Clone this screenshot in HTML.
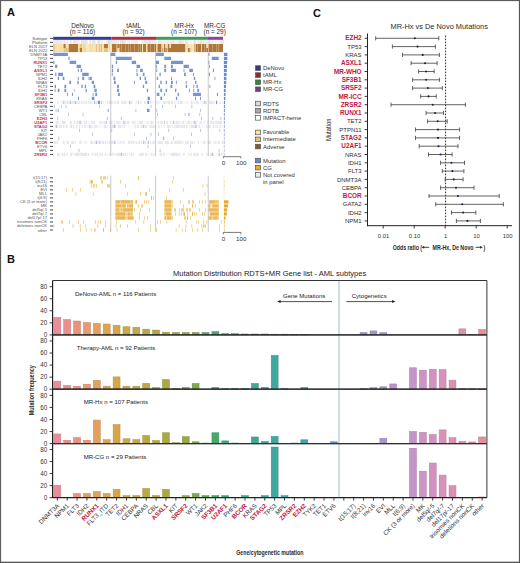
<!DOCTYPE html>
<html><head><meta charset="utf-8"><style>
html,body{margin:0;padding:0;background:#fff;}
svg{display:block;font-family:"Liberation Sans",sans-serif;}
</style></head><body>
<svg width="520" height="563" viewBox="0 0 520 563">
<rect x="0" y="0" width="520" height="563" fill="#fff"/>
<text x="7" y="16" font-size="11" text-anchor="start" font-weight="bold" fill="#111" >A</text>
<text x="82.5" y="27.6" font-size="6.3" text-anchor="middle" fill="#2a2a2a" >DeNovo</text>
<text x="82.5" y="34.1" font-size="6.4" text-anchor="middle" fill="#2a2a2a" >(n = 116)</text>
<rect x="53.2" y="36.8" width="58.3" height="3" fill="#353c93" />
<text x="133.6" y="27.6" font-size="6.3" text-anchor="middle" fill="#2a2a2a" >tAML</text>
<text x="133.6" y="34.1" font-size="6.4" text-anchor="middle" fill="#2a2a2a" >(n = 92)</text>
<rect x="111.5" y="36.8" width="44.5" height="3" fill="#b3323f" />
<text x="184" y="27.6" font-size="6.3" text-anchor="middle" fill="#2a2a2a" >MR-Hx</text>
<text x="184" y="34.1" font-size="6.4" text-anchor="middle" fill="#2a2a2a" >(n = 107)</text>
<rect x="156" y="36.8" width="52" height="3" fill="#3ea04a" />
<text x="214.7" y="27.6" font-size="6.3" text-anchor="middle" fill="#2a2a2a" >MR-CG</text>
<text x="214.7" y="34.1" font-size="6.4" text-anchor="middle" fill="#2a2a2a" >(n = 29)</text>
<rect x="208" y="36.8" width="15" height="3" fill="#93409b" />
<text x="47.3" y="39.9" font-size="4.1" text-anchor="end" fill="#555" >Subtype</text>
<line x1="50" y1="38.4" x2="53" y2="38.4" stroke="#333" stroke-width="0.9" />
<text x="47.3" y="43.9" font-size="4.1" text-anchor="end" fill="#555" >Platform</text>
<line x1="50" y1="42.4" x2="53" y2="42.4" stroke="#333" stroke-width="0.9" />
<text x="47.3" y="47.9" font-size="4.1" text-anchor="end" fill="#555" >ELN 2017</text>
<line x1="50" y1="46.4" x2="53" y2="46.4" stroke="#333" stroke-width="0.9" />
<text x="47.3" y="51.9" font-size="4.1" text-anchor="end" fill="#555" >ELN 2022</text>
<line x1="50" y1="50.4" x2="53" y2="50.4" stroke="#333" stroke-width="0.9" />
<text x="47.3" y="55.9" font-size="4.1" text-anchor="end" fill="#555" >DNMT3A</text>
<line x1="50" y1="54.4" x2="53" y2="54.4" stroke="#333" stroke-width="0.9" />
<text x="47.3" y="59.9" font-size="4.1" text-anchor="end" fill="#555" >TP53</text>
<line x1="50" y1="58.4" x2="53" y2="58.4" stroke="#333" stroke-width="0.9" />
<text x="47.3" y="63.9" font-size="4.1" text-anchor="end" font-weight="bold" fill="#c8304f" >RUNX1</text>
<line x1="50" y1="62.4" x2="53" y2="62.4" stroke="#333" stroke-width="0.9" />
<text x="47.3" y="67.9" font-size="4.1" text-anchor="end" fill="#555" >TET2</text>
<line x1="50" y1="66.4" x2="53" y2="66.4" stroke="#333" stroke-width="0.9" />
<text x="47.3" y="71.9" font-size="4.1" text-anchor="end" font-weight="bold" fill="#c8304f" >ASXL1</text>
<line x1="50" y1="70.4" x2="53" y2="70.4" stroke="#333" stroke-width="0.9" />
<text x="47.3" y="75.9" font-size="4.1" text-anchor="end" fill="#555" >NPM1</text>
<line x1="50" y1="74.4" x2="53" y2="74.4" stroke="#333" stroke-width="0.9" />
<text x="47.3" y="79.9" font-size="4.1" text-anchor="end" fill="#555" >IDH2</text>
<line x1="50" y1="78.4" x2="53" y2="78.4" stroke="#333" stroke-width="0.9" />
<text x="47.3" y="83.9" font-size="4.1" text-anchor="end" fill="#555" >NRAS</text>
<line x1="50" y1="82.4" x2="53" y2="82.4" stroke="#333" stroke-width="0.9" />
<text x="47.3" y="87.9" font-size="4.1" text-anchor="end" fill="#555" >FLT3</text>
<line x1="50" y1="86.4" x2="53" y2="86.4" stroke="#333" stroke-width="0.9" />
<text x="47.3" y="91.9" font-size="4.1" text-anchor="end" fill="#555" >IDH1</text>
<line x1="50" y1="90.4" x2="53" y2="90.4" stroke="#333" stroke-width="0.9" />
<text x="47.3" y="95.9" font-size="4.1" text-anchor="end" font-weight="bold" fill="#c8304f" >SF3B1</text>
<line x1="50" y1="94.4" x2="53" y2="94.4" stroke="#333" stroke-width="0.9" />
<text x="47.3" y="99.9" font-size="4.1" text-anchor="end" fill="#555" >KRAS</text>
<line x1="50" y1="98.4" x2="53" y2="98.4" stroke="#333" stroke-width="0.9" />
<text x="47.3" y="103.9" font-size="4.1" text-anchor="end" font-weight="bold" fill="#c8304f" >SRSF2</text>
<line x1="50" y1="102.4" x2="53" y2="102.4" stroke="#333" stroke-width="0.9" />
<text x="47.3" y="107.9" font-size="4.1" text-anchor="end" fill="#555" >CEBPA</text>
<line x1="50" y1="106.4" x2="53" y2="106.4" stroke="#333" stroke-width="0.9" />
<text x="47.3" y="111.9" font-size="4.1" text-anchor="end" fill="#555" >WT1</text>
<line x1="50" y1="110.4" x2="53" y2="110.4" stroke="#333" stroke-width="0.9" />
<text x="47.3" y="115.9" font-size="4.1" text-anchor="end" fill="#555" >CBL</text>
<line x1="50" y1="114.4" x2="53" y2="114.4" stroke="#333" stroke-width="0.9" />
<text x="47.3" y="119.9" font-size="4.1" text-anchor="end" font-weight="bold" fill="#c8304f" >EZH2</text>
<line x1="50" y1="118.4" x2="53" y2="118.4" stroke="#333" stroke-width="0.9" />
<text x="47.3" y="123.9" font-size="4.1" text-anchor="end" font-weight="bold" fill="#c8304f" >U2AF1</text>
<line x1="50" y1="122.4" x2="53" y2="122.4" stroke="#333" stroke-width="0.9" />
<text x="47.3" y="127.9" font-size="4.1" text-anchor="end" font-weight="bold" fill="#c8304f" >STAG2</text>
<line x1="50" y1="126.4" x2="53" y2="126.4" stroke="#333" stroke-width="0.9" />
<text x="47.3" y="131.9" font-size="4.1" text-anchor="end" fill="#555" >KIT</text>
<line x1="50" y1="130.4" x2="53" y2="130.4" stroke="#333" stroke-width="0.9" />
<text x="47.3" y="135.9" font-size="4.1" text-anchor="end" fill="#555" >JAK2</text>
<line x1="50" y1="134.4" x2="53" y2="134.4" stroke="#333" stroke-width="0.9" />
<text x="47.3" y="139.9" font-size="4.1" text-anchor="end" fill="#555" >PHF6</text>
<line x1="50" y1="138.4" x2="53" y2="138.4" stroke="#333" stroke-width="0.9" />
<text x="47.3" y="143.9" font-size="4.1" text-anchor="end" font-weight="bold" fill="#c8304f" >BCOR</text>
<line x1="50" y1="142.4" x2="53" y2="142.4" stroke="#333" stroke-width="0.9" />
<text x="47.3" y="147.9" font-size="4.1" text-anchor="end" fill="#555" >ETV6</text>
<line x1="50" y1="146.4" x2="53" y2="146.4" stroke="#333" stroke-width="0.9" />
<text x="47.3" y="151.9" font-size="4.1" text-anchor="end" fill="#555" >MPL</text>
<line x1="50" y1="150.4" x2="53" y2="150.4" stroke="#333" stroke-width="0.9" />
<text x="47.3" y="155.9" font-size="4.1" text-anchor="end" font-weight="bold" fill="#c8304f" >ZRSR2</text>
<line x1="50" y1="154.4" x2="53" y2="154.4" stroke="#333" stroke-width="0.9" />
<text x="47" y="179.3" font-size="4.1" text-anchor="end" fill="#555" >t(15;17)</text>
<line x1="50" y1="177.8" x2="53" y2="177.8" stroke="#333" stroke-width="0.9" />
<text x="47" y="183.31" font-size="4.1" text-anchor="end" fill="#555" >t(8;21)</text>
<line x1="50" y1="181.81" x2="53" y2="181.81" stroke="#333" stroke-width="0.9" />
<text x="47" y="187.33" font-size="4.1" text-anchor="end" fill="#555" >inv16</text>
<line x1="50" y1="185.83" x2="53" y2="185.83" stroke="#333" stroke-width="0.9" />
<text x="47" y="191.34" font-size="4.1" text-anchor="end" fill="#555" >EVI</text>
<line x1="50" y1="189.84" x2="53" y2="189.84" stroke="#333" stroke-width="0.9" />
<text x="47" y="195.36" font-size="4.1" text-anchor="end" fill="#555" >MLL</text>
<line x1="50" y1="193.86" x2="53" y2="193.86" stroke="#333" stroke-width="0.9" />
<text x="47" y="199.38" font-size="4.1" text-anchor="end" fill="#555" >t(6;9)</text>
<line x1="50" y1="197.88" x2="53" y2="197.88" stroke="#333" stroke-width="0.9" />
<text x="47" y="203.39" font-size="4.1" text-anchor="end" fill="#555" >CK (3 or more)</text>
<line x1="50" y1="201.89" x2="53" y2="201.89" stroke="#333" stroke-width="0.9" />
<text x="47" y="207.41" font-size="4.1" text-anchor="end" fill="#555" >MK</text>
<line x1="50" y1="205.91" x2="53" y2="205.91" stroke="#333" stroke-width="0.9" />
<text x="47" y="211.42" font-size="4.1" text-anchor="end" fill="#555" >del5q/-5</text>
<line x1="50" y1="209.92" x2="53" y2="209.92" stroke="#333" stroke-width="0.9" />
<text x="47" y="215.44" font-size="4.1" text-anchor="end" fill="#555" >del7q/-7</text>
<line x1="50" y1="213.94" x2="53" y2="213.94" stroke="#333" stroke-width="0.9" />
<text x="47" y="219.45" font-size="4.1" text-anchor="end" fill="#555" >del17p/-17</text>
<line x1="50" y1="217.95" x2="53" y2="217.95" stroke="#333" stroke-width="0.9" />
<text x="47" y="223.47" font-size="4.1" text-anchor="end" fill="#555" >trisomies nonCK</text>
<line x1="50" y1="221.97" x2="53" y2="221.97" stroke="#333" stroke-width="0.9" />
<text x="47" y="227.48" font-size="4.1" text-anchor="end" fill="#555" >deletions nonCK</text>
<line x1="50" y1="225.98" x2="53" y2="225.98" stroke="#333" stroke-width="0.9" />
<text x="47" y="231.5" font-size="4.1" text-anchor="end" fill="#555" >other</text>
<line x1="50" y1="230" x2="53" y2="230" stroke="#333" stroke-width="0.9" />
<rect x="53.2" y="40" width="1" height="4" fill="#eeedf4" />
<rect x="54.2" y="40" width="1.5" height="4" fill="#e6e4ee" />
<rect x="55.7" y="40" width="0.5" height="4" fill="#e6e4ee" />
<rect x="56.2" y="40" width="1" height="4" fill="#e6e4ee" />
<rect x="57.2" y="40" width="0.5" height="4" fill="#e6e4ee" />
<rect x="57.7" y="40" width="0.5" height="4" fill="#dcdbe6" />
<rect x="58.2" y="40" width="1.5" height="4" fill="#e6e4ee" />
<rect x="59.7" y="40" width="0.5" height="4" fill="#e6e4ee" />
<rect x="60.2" y="40" width="1.5" height="4" fill="#e6e4ee" />
<rect x="61.7" y="40" width="0.5" height="4" fill="#eeedf4" />
<rect x="62.2" y="40" width="0.5" height="4" fill="#dcdbe6" />
<rect x="62.7" y="40" width="0.5" height="4" fill="#eeedf4" />
<rect x="63.2" y="40" width="0.5" height="4" fill="#eeedf4" />
<rect x="63.7" y="40" width="1" height="4" fill="#dcdbe6" />
<rect x="64.7" y="40" width="0.5" height="4" fill="#e6e4ee" />
<rect x="65.2" y="40" width="1" height="4" fill="#eeedf4" />
<rect x="66.2" y="40" width="0.5" height="4" fill="#eeedf4" />
<rect x="66.7" y="40" width="1" height="4" fill="#e6e4ee" />
<rect x="67.7" y="40" width="0.5" height="4" fill="#e6e4ee" />
<rect x="68.2" y="40" width="0.5" height="4" fill="#dcdbe6" />
<rect x="68.7" y="40" width="1.5" height="4" fill="#ffffff" />
<rect x="70.2" y="40" width="1.5" height="4" fill="#dcdbe6" />
<rect x="71.7" y="40" width="1" height="4" fill="#ffffff" />
<rect x="72.7" y="40" width="0.5" height="4" fill="#eeedf4" />
<rect x="73.2" y="40" width="0.5" height="4" fill="#e6e4ee" />
<rect x="73.7" y="40" width="1" height="4" fill="#dcdbe6" />
<rect x="74.7" y="40" width="1" height="4" fill="#dcdbe6" />
<rect x="75.7" y="40" width="1" height="4" fill="#e6e4ee" />
<rect x="76.7" y="40" width="0.5" height="4" fill="#dcdbe6" />
<rect x="77.2" y="40" width="0.5" height="4" fill="#ffffff" />
<rect x="77.7" y="40" width="0.5" height="4" fill="#dcdbe6" />
<rect x="78.2" y="40" width="1.5" height="4" fill="#e6e4ee" />
<rect x="79.7" y="40" width="0.5" height="4" fill="#ffffff" />
<rect x="80.2" y="40" width="1" height="4" fill="#ffffff" />
<rect x="81.2" y="40" width="1.5" height="4" fill="#dcdbe6" />
<rect x="82.7" y="40" width="0.5" height="4" fill="#e6e4ee" />
<rect x="83.2" y="40" width="1" height="4" fill="#dcdbe6" />
<rect x="84.2" y="40" width="0.5" height="4" fill="#e6e4ee" />
<rect x="84.7" y="40" width="1" height="4" fill="#dcdbe6" />
<rect x="85.7" y="40" width="1" height="4" fill="#dcdbe6" />
<rect x="86.7" y="40" width="1" height="4" fill="#e6e4ee" />
<rect x="87.7" y="40" width="1.5" height="4" fill="#ffffff" />
<rect x="89.2" y="40" width="0.5" height="4" fill="#e6e4ee" />
<rect x="89.7" y="40" width="1.5" height="4" fill="#e6e4ee" />
<rect x="91.2" y="40" width="0.5" height="4" fill="#ffffff" />
<rect x="91.7" y="40" width="0.5" height="4" fill="#eeedf4" />
<rect x="92.2" y="40" width="1.5" height="4" fill="#dcdbe6" />
<rect x="93.7" y="40" width="1.5" height="4" fill="#e6e4ee" />
<rect x="95.2" y="40" width="0.5" height="4" fill="#dcdbe6" />
<rect x="95.7" y="40" width="1.5" height="4" fill="#ffffff" />
<rect x="97.2" y="40" width="0.5" height="4" fill="#dcdbe6" />
<rect x="97.7" y="40" width="1" height="4" fill="#dcdbe6" />
<rect x="98.7" y="40" width="1" height="4" fill="#dcdbe6" />
<rect x="99.7" y="40" width="0.5" height="4" fill="#eeedf4" />
<rect x="100.2" y="40" width="0.5" height="4" fill="#eeedf4" />
<rect x="100.7" y="40" width="0.5" height="4" fill="#eeedf4" />
<rect x="101.2" y="40" width="0.5" height="4" fill="#e6e4ee" />
<rect x="101.7" y="40" width="1.5" height="4" fill="#eeedf4" />
<rect x="103.2" y="40" width="1" height="4" fill="#ffffff" />
<rect x="104.2" y="40" width="0.5" height="4" fill="#eeedf4" />
<rect x="104.7" y="40" width="1.5" height="4" fill="#ffffff" />
<rect x="106.2" y="40" width="1" height="4" fill="#eeedf4" />
<rect x="107.2" y="40" width="0.5" height="4" fill="#dcdbe6" />
<rect x="107.7" y="40" width="1.5" height="4" fill="#dcdbe6" />
<rect x="109.2" y="40" width="1.5" height="4" fill="#dcdbe6" />
<rect x="110.7" y="40" width="0.5" height="4" fill="#dcdbe6" />
<rect x="111.2" y="40" width="1.5" height="4" fill="#e6e4ee" />
<rect x="112.7" y="40" width="0.5" height="4" fill="#e6e4ee" />
<rect x="113.2" y="40" width="0.5" height="4" fill="#dcdbe6" />
<rect x="113.7" y="40" width="0.5" height="4" fill="#e6e4ee" />
<rect x="114.2" y="40" width="1" height="4" fill="#e6e4ee" />
<rect x="115.2" y="40" width="0.5" height="4" fill="#e6e4ee" />
<rect x="115.7" y="40" width="0.5" height="4" fill="#e6e4ee" />
<rect x="116.2" y="40" width="1" height="4" fill="#e6e4ee" />
<rect x="117.2" y="40" width="0.5" height="4" fill="#eeedf4" />
<rect x="117.7" y="40" width="1.5" height="4" fill="#eeedf4" />
<rect x="119.2" y="40" width="1" height="4" fill="#ffffff" />
<rect x="120.2" y="40" width="1" height="4" fill="#dcdbe6" />
<rect x="121.2" y="40" width="0.5" height="4" fill="#e6e4ee" />
<rect x="121.7" y="40" width="1.5" height="4" fill="#dcdbe6" />
<rect x="123.2" y="40" width="1.5" height="4" fill="#dcdbe6" />
<rect x="124.7" y="40" width="1" height="4" fill="#e6e4ee" />
<rect x="125.7" y="40" width="0.5" height="4" fill="#e6e4ee" />
<rect x="126.2" y="40" width="1" height="4" fill="#ffffff" />
<rect x="127.2" y="40" width="1.5" height="4" fill="#eeedf4" />
<rect x="128.7" y="40" width="0.5" height="4" fill="#eeedf4" />
<rect x="129.2" y="40" width="1" height="4" fill="#eeedf4" />
<rect x="130.2" y="40" width="0.5" height="4" fill="#ffffff" />
<rect x="130.7" y="40" width="0.5" height="4" fill="#ffffff" />
<rect x="131.2" y="40" width="1" height="4" fill="#eeedf4" />
<rect x="132.2" y="40" width="1" height="4" fill="#eeedf4" />
<rect x="133.2" y="40" width="1" height="4" fill="#eeedf4" />
<rect x="134.2" y="40" width="0.5" height="4" fill="#eeedf4" />
<rect x="134.7" y="40" width="1.5" height="4" fill="#eeedf4" />
<rect x="136.2" y="40" width="0.5" height="4" fill="#dcdbe6" />
<rect x="136.7" y="40" width="1" height="4" fill="#e6e4ee" />
<rect x="137.7" y="40" width="0.5" height="4" fill="#ffffff" />
<rect x="138.2" y="40" width="1.5" height="4" fill="#ffffff" />
<rect x="139.7" y="40" width="0.5" height="4" fill="#ffffff" />
<rect x="140.2" y="40" width="1.5" height="4" fill="#ffffff" />
<rect x="141.7" y="40" width="1" height="4" fill="#e6e4ee" />
<rect x="142.7" y="40" width="0.5" height="4" fill="#e6e4ee" />
<rect x="143.2" y="40" width="0.5" height="4" fill="#dcdbe6" />
<rect x="143.7" y="40" width="0.5" height="4" fill="#ffffff" />
<rect x="144.2" y="40" width="0.5" height="4" fill="#dcdbe6" />
<rect x="144.7" y="40" width="0.5" height="4" fill="#dcdbe6" />
<rect x="145.2" y="40" width="1" height="4" fill="#e6e4ee" />
<rect x="146.2" y="40" width="0.5" height="4" fill="#dcdbe6" />
<rect x="146.7" y="40" width="0.5" height="4" fill="#dcdbe6" />
<rect x="147.2" y="40" width="0.5" height="4" fill="#dcdbe6" />
<rect x="147.7" y="40" width="1" height="4" fill="#e6e4ee" />
<rect x="148.7" y="40" width="1.5" height="4" fill="#dcdbe6" />
<rect x="150.2" y="40" width="1.5" height="4" fill="#e6e4ee" />
<rect x="151.7" y="40" width="0.5" height="4" fill="#eeedf4" />
<rect x="152.2" y="40" width="0.5" height="4" fill="#e6e4ee" />
<rect x="152.7" y="40" width="0.5" height="4" fill="#dcdbe6" />
<rect x="153.2" y="40" width="0.5" height="4" fill="#dcdbe6" />
<rect x="153.7" y="40" width="1" height="4" fill="#eeedf4" />
<rect x="154.7" y="40" width="0.5" height="4" fill="#e6e4ee" />
<rect x="155.2" y="40" width="0.5" height="4" fill="#e6e4ee" />
<rect x="155.7" y="40" width="0.5" height="4" fill="#dcdbe6" />
<rect x="156.2" y="40" width="0.5" height="4" fill="#eeedf4" />
<rect x="156.7" y="40" width="0.5" height="4" fill="#ffffff" />
<rect x="157.2" y="40" width="0.5" height="4" fill="#ffffff" />
<rect x="157.7" y="40" width="0.5" height="4" fill="#ffffff" />
<rect x="158.2" y="40" width="1" height="4" fill="#dcdbe6" />
<rect x="159.2" y="40" width="0.5" height="4" fill="#e6e4ee" />
<rect x="159.7" y="40" width="1" height="4" fill="#dcdbe6" />
<rect x="160.7" y="40" width="1.5" height="4" fill="#eeedf4" />
<rect x="162.2" y="40" width="0.5" height="4" fill="#e6e4ee" />
<rect x="162.7" y="40" width="1.5" height="4" fill="#eeedf4" />
<rect x="164.2" y="40" width="0.5" height="4" fill="#eeedf4" />
<rect x="164.7" y="40" width="0.5" height="4" fill="#eeedf4" />
<rect x="165.2" y="40" width="1.5" height="4" fill="#e6e4ee" />
<rect x="166.7" y="40" width="0.5" height="4" fill="#ffffff" />
<rect x="167.2" y="40" width="1.5" height="4" fill="#e6e4ee" />
<rect x="168.7" y="40" width="0.5" height="4" fill="#eeedf4" />
<rect x="169.2" y="40" width="0.5" height="4" fill="#ffffff" />
<rect x="169.7" y="40" width="0.5" height="4" fill="#e6e4ee" />
<rect x="170.2" y="40" width="1.5" height="4" fill="#e6e4ee" />
<rect x="171.7" y="40" width="0.5" height="4" fill="#dcdbe6" />
<rect x="172.2" y="40" width="1" height="4" fill="#eeedf4" />
<rect x="173.2" y="40" width="1" height="4" fill="#dcdbe6" />
<rect x="174.2" y="40" width="1.5" height="4" fill="#eeedf4" />
<rect x="175.7" y="40" width="1" height="4" fill="#eeedf4" />
<rect x="176.7" y="40" width="1.5" height="4" fill="#eeedf4" />
<rect x="178.2" y="40" width="1.5" height="4" fill="#e6e4ee" />
<rect x="179.7" y="40" width="1.5" height="4" fill="#dcdbe6" />
<rect x="181.2" y="40" width="1" height="4" fill="#e6e4ee" />
<rect x="182.2" y="40" width="0.5" height="4" fill="#dcdbe6" />
<rect x="182.7" y="40" width="0.5" height="4" fill="#eeedf4" />
<rect x="183.2" y="40" width="1" height="4" fill="#e6e4ee" />
<rect x="184.2" y="40" width="0.5" height="4" fill="#ffffff" />
<rect x="184.7" y="40" width="0.5" height="4" fill="#ffffff" />
<rect x="185.2" y="40" width="0.5" height="4" fill="#dcdbe6" />
<rect x="185.7" y="40" width="0.5" height="4" fill="#e6e4ee" />
<rect x="186.2" y="40" width="1.5" height="4" fill="#dcdbe6" />
<rect x="187.7" y="40" width="0.5" height="4" fill="#eeedf4" />
<rect x="188.2" y="40" width="0.5" height="4" fill="#dcdbe6" />
<rect x="188.7" y="40" width="1.5" height="4" fill="#ffffff" />
<rect x="190.2" y="40" width="1.5" height="4" fill="#eeedf4" />
<rect x="191.7" y="40" width="1" height="4" fill="#ffffff" />
<rect x="192.7" y="40" width="0.5" height="4" fill="#ffffff" />
<rect x="193.2" y="40" width="0.5" height="4" fill="#ffffff" />
<rect x="193.7" y="40" width="1.5" height="4" fill="#dcdbe6" />
<rect x="195.2" y="40" width="0.5" height="4" fill="#dcdbe6" />
<rect x="195.7" y="40" width="1" height="4" fill="#ffffff" />
<rect x="196.7" y="40" width="0.5" height="4" fill="#e6e4ee" />
<rect x="197.2" y="40" width="0.5" height="4" fill="#e6e4ee" />
<rect x="197.7" y="40" width="0.5" height="4" fill="#ffffff" />
<rect x="198.2" y="40" width="1" height="4" fill="#e6e4ee" />
<rect x="199.2" y="40" width="0.5" height="4" fill="#ffffff" />
<rect x="199.7" y="40" width="0.5" height="4" fill="#dcdbe6" />
<rect x="200.2" y="40" width="1" height="4" fill="#dcdbe6" />
<rect x="201.2" y="40" width="0.5" height="4" fill="#dcdbe6" />
<rect x="201.7" y="40" width="1" height="4" fill="#e6e4ee" />
<rect x="202.7" y="40" width="1" height="4" fill="#e6e4ee" />
<rect x="203.7" y="40" width="0.5" height="4" fill="#dcdbe6" />
<rect x="204.2" y="40" width="0.5" height="4" fill="#ffffff" />
<rect x="204.7" y="40" width="0.5" height="4" fill="#e6e4ee" />
<rect x="205.2" y="40" width="1" height="4" fill="#e6e4ee" />
<rect x="206.2" y="40" width="0.5" height="4" fill="#e6e4ee" />
<rect x="206.7" y="40" width="1" height="4" fill="#e6e4ee" />
<rect x="207.7" y="40" width="1.5" height="4" fill="#e6e4ee" />
<rect x="209.2" y="40" width="1" height="4" fill="#dcdbe6" />
<rect x="210.2" y="40" width="1" height="4" fill="#eeedf4" />
<rect x="211.2" y="40" width="0.5" height="4" fill="#eeedf4" />
<rect x="211.7" y="40" width="0.5" height="4" fill="#eeedf4" />
<rect x="212.2" y="40" width="1" height="4" fill="#e6e4ee" />
<rect x="213.2" y="40" width="0.5" height="4" fill="#eeedf4" />
<rect x="213.7" y="40" width="1" height="4" fill="#ffffff" />
<rect x="214.7" y="40" width="0.5" height="4" fill="#ffffff" />
<rect x="215.2" y="40" width="1.5" height="4" fill="#eeedf4" />
<rect x="216.7" y="40" width="1" height="4" fill="#ffffff" />
<rect x="217.7" y="40" width="0.5" height="4" fill="#ffffff" />
<rect x="218.2" y="40" width="0.5" height="4" fill="#e6e4ee" />
<rect x="218.7" y="40" width="0.5" height="4" fill="#eeedf4" />
<rect x="219.2" y="40" width="1.5" height="4" fill="#eeedf4" />
<rect x="220.7" y="40" width="1.5" height="4" fill="#e6e4ee" />
<rect x="222.2" y="40" width="1.5" height="4" fill="#dcdbe6" />
<rect x="53.2" y="44" width="1.7" height="4.05" fill="#e4c383" />
<rect x="53.2" y="48" width="1.7" height="4.1" fill="#e4c383" />
<rect x="54.9" y="44" width="2.3" height="4.05" fill="#f7e0a8" />
<rect x="54.9" y="48" width="2.3" height="4.1" fill="#f7e0a8" />
<rect x="57.2" y="44" width="6.3" height="4.05" fill="#f7e0a8" />
<rect x="57.2" y="48" width="6.3" height="4.1" fill="#f7e0a8" />
<rect x="63.5" y="44" width="2.3" height="4.05" fill="#b07636" />
<rect x="63.5" y="48" width="2.3" height="4.1" fill="#e4c383" />
<rect x="65.8" y="44" width="2.9" height="4.05" fill="#f7e0a8" />
<rect x="65.8" y="48" width="2.9" height="4.1" fill="#e4c383" />
<rect x="68.7" y="44" width="9.3" height="4.05" fill="#b07636" />
<rect x="68.7" y="48" width="9.3" height="4.1" fill="#b07636" />
<rect x="78" y="44" width="1.7" height="4.05" fill="#f7e0a8" />
<rect x="78" y="48" width="1.7" height="4.1" fill="#f7e0a8" />
<rect x="79.7" y="44" width="2.3" height="4.05" fill="#e4c383" />
<rect x="79.7" y="48" width="2.3" height="4.1" fill="#b07636" />
<rect x="82" y="44" width="1" height="4.05" fill="#f7e0a8" />
<rect x="82" y="48" width="1" height="4.1" fill="#f7e0a8" />
<rect x="83" y="44" width="0.5" height="4.05" fill="#f7e0a8" />
<rect x="83" y="48" width="0.5" height="4.1" fill="#f7e0a8" />
<rect x="83.5" y="44" width="0.5" height="4.05" fill="#e4c383" />
<rect x="83.5" y="48" width="0.5" height="4.1" fill="#e4c383" />
<rect x="84" y="44" width="0.5" height="4.05" fill="#f7e0a8" />
<rect x="84" y="48" width="0.5" height="4.1" fill="#f7e0a8" />
<rect x="84.5" y="44" width="1" height="4.05" fill="#e4c383" />
<rect x="84.5" y="48" width="1" height="4.1" fill="#e4c383" />
<rect x="85.5" y="44" width="1" height="4.05" fill="#f7e0a8" />
<rect x="85.5" y="48" width="1" height="4.1" fill="#e4c383" />
<rect x="86.5" y="44" width="0.5" height="4.05" fill="#f7e0a8" />
<rect x="86.5" y="48" width="0.5" height="4.1" fill="#f7e0a8" />
<rect x="87" y="44" width="0.5" height="4.05" fill="#f7e0a8" />
<rect x="87" y="48" width="0.5" height="4.1" fill="#f7e0a8" />
<rect x="87.5" y="44" width="1" height="4.05" fill="#f7e0a8" />
<rect x="87.5" y="48" width="1" height="4.1" fill="#f7e0a8" />
<rect x="88.5" y="44" width="1.5" height="4.05" fill="#f7e0a8" />
<rect x="88.5" y="48" width="1.5" height="4.1" fill="#f7e0a8" />
<rect x="90" y="44" width="1" height="4.05" fill="#f7e0a8" />
<rect x="90" y="48" width="1" height="4.1" fill="#f7e0a8" />
<rect x="91" y="44" width="1" height="4.05" fill="#f7e0a8" />
<rect x="91" y="48" width="1" height="4.1" fill="#f7e0a8" />
<rect x="92" y="44" width="1.5" height="4.05" fill="#f7e0a8" />
<rect x="92" y="48" width="1.5" height="4.1" fill="#f7e0a8" />
<rect x="93.5" y="44" width="0.5" height="4.05" fill="#f7e0a8" />
<rect x="93.5" y="48" width="0.5" height="4.1" fill="#f7e0a8" />
<rect x="94" y="44" width="0.5" height="4.05" fill="#e4c383" />
<rect x="94" y="48" width="0.5" height="4.1" fill="#e4c383" />
<rect x="94.5" y="44" width="0.5" height="4.05" fill="#f7e0a8" />
<rect x="94.5" y="48" width="0.5" height="4.1" fill="#f7e0a8" />
<rect x="95" y="44" width="0.5" height="4.05" fill="#e4c383" />
<rect x="95" y="48" width="0.5" height="4.1" fill="#e4c383" />
<rect x="95.5" y="44" width="0.5" height="4.05" fill="#f7e0a8" />
<rect x="95.5" y="48" width="0.5" height="4.1" fill="#f7e0a8" />
<rect x="96" y="44" width="1.5" height="4.05" fill="#e4c383" />
<rect x="96" y="48" width="1.5" height="4.1" fill="#e4c383" />
<rect x="97.5" y="44" width="1" height="4.05" fill="#f7e0a8" />
<rect x="97.5" y="48" width="1" height="4.1" fill="#f7e0a8" />
<rect x="98.5" y="44" width="0.5" height="4.05" fill="#e4c383" />
<rect x="98.5" y="48" width="0.5" height="4.1" fill="#e4c383" />
<rect x="99" y="44" width="1.5" height="4.05" fill="#e4c383" />
<rect x="99" y="48" width="1.5" height="4.1" fill="#e4c383" />
<rect x="100.5" y="44" width="1.5" height="4.05" fill="#e4c383" />
<rect x="100.5" y="48" width="1.5" height="4.1" fill="#e4c383" />
<rect x="102" y="44" width="1.5" height="4.05" fill="#f7e0a8" />
<rect x="102" y="48" width="1.5" height="4.1" fill="#f7e0a8" />
<rect x="103.5" y="44" width="0.5" height="4.05" fill="#e4c383" />
<rect x="103.5" y="48" width="0.5" height="4.1" fill="#f7e0a8" />
<rect x="104" y="44" width="4" height="4.05" fill="#b07636" />
<rect x="104" y="48" width="4" height="4.1" fill="#e4c383" />
<rect x="108" y="44" width="0.5" height="4.05" fill="#f7e0a8" />
<rect x="108" y="48" width="0.5" height="4.1" fill="#f7e0a8" />
<rect x="108.5" y="44" width="0.5" height="4.05" fill="#f7e0a8" />
<rect x="108.5" y="48" width="0.5" height="4.1" fill="#f7e0a8" />
<rect x="109" y="44" width="0.5" height="4.05" fill="#f7e0a8" />
<rect x="109" y="48" width="0.5" height="4.1" fill="#f7e0a8" />
<rect x="109.5" y="44" width="0.5" height="4.05" fill="#e4c383" />
<rect x="109.5" y="48" width="0.5" height="4.1" fill="#e4c383" />
<rect x="110" y="44" width="0.5" height="4.05" fill="#f7e0a8" />
<rect x="110" y="48" width="0.5" height="4.1" fill="#f7e0a8" />
<rect x="110.5" y="44" width="1.5" height="4.05" fill="#f7e0a8" />
<rect x="110.5" y="48" width="1.5" height="4.1" fill="#f7e0a8" />
<rect x="112" y="44" width="4" height="4.05" fill="#b07636" />
<rect x="112" y="48" width="4" height="4.1" fill="#b07636" />
<rect x="116" y="44" width="0.5" height="4.05" fill="#e4c383" />
<rect x="116" y="48" width="0.5" height="4.1" fill="#e4c383" />
<rect x="116.5" y="44" width="1" height="4.05" fill="#b07636" />
<rect x="116.5" y="48" width="1" height="4.1" fill="#b07636" />
<rect x="117.5" y="44" width="2" height="4.05" fill="#b07636" />
<rect x="117.5" y="48" width="2" height="4.1" fill="#f7e0a8" />
<rect x="119.5" y="44" width="1.5" height="4.05" fill="#b07636" />
<rect x="119.5" y="48" width="1.5" height="4.1" fill="#b07636" />
<rect x="121" y="44" width="0.5" height="4.05" fill="#b07636" />
<rect x="121" y="48" width="0.5" height="4.1" fill="#b07636" />
<rect x="121.5" y="44" width="4" height="4.05" fill="#b07636" />
<rect x="121.5" y="48" width="4" height="4.1" fill="#b07636" />
<rect x="125.5" y="44" width="3" height="4.05" fill="#b07636" />
<rect x="125.5" y="48" width="3" height="4.1" fill="#b07636" />
<rect x="128.5" y="44" width="2" height="4.05" fill="#b07636" />
<rect x="128.5" y="48" width="2" height="4.1" fill="#b07636" />
<rect x="130.5" y="44" width="4" height="4.05" fill="#b07636" />
<rect x="130.5" y="48" width="4" height="4.1" fill="#b07636" />
<rect x="134.5" y="44" width="4" height="4.05" fill="#b07636" />
<rect x="134.5" y="48" width="4" height="4.1" fill="#b07636" />
<rect x="138.5" y="44" width="2" height="4.05" fill="#b07636" />
<rect x="138.5" y="48" width="2" height="4.1" fill="#b07636" />
<rect x="140.5" y="44" width="1.5" height="4.05" fill="#b07636" />
<rect x="140.5" y="48" width="1.5" height="4.1" fill="#b07636" />
<rect x="142" y="44" width="1" height="4.05" fill="#f7e0a8" />
<rect x="142" y="48" width="1" height="4.1" fill="#f7e0a8" />
<rect x="143" y="44" width="2" height="4.05" fill="#b07636" />
<rect x="143" y="48" width="2" height="4.1" fill="#b07636" />
<rect x="145" y="44" width="1" height="4.05" fill="#b07636" />
<rect x="145" y="48" width="1" height="4.1" fill="#b07636" />
<rect x="146" y="44" width="1.5" height="4.05" fill="#f7e0a8" />
<rect x="146" y="48" width="1.5" height="4.1" fill="#f7e0a8" />
<rect x="147.5" y="44" width="3" height="4.05" fill="#b07636" />
<rect x="147.5" y="48" width="3" height="4.1" fill="#b07636" />
<rect x="150.5" y="44" width="4" height="4.05" fill="#b07636" />
<rect x="150.5" y="48" width="4" height="4.1" fill="#b07636" />
<rect x="154.5" y="44" width="2" height="4.05" fill="#b07636" />
<rect x="154.5" y="48" width="2" height="4.1" fill="#b07636" />
<rect x="156.5" y="44" width="1" height="4.05" fill="#f7e0a8" />
<rect x="156.5" y="48" width="1" height="4.1" fill="#f7e0a8" />
<rect x="157.5" y="44" width="4" height="4.05" fill="#b07636" />
<rect x="157.5" y="48" width="4" height="4.1" fill="#b07636" />
<rect x="161.5" y="44" width="1" height="4.05" fill="#e4c383" />
<rect x="161.5" y="48" width="1" height="4.1" fill="#e4c383" />
<rect x="162.5" y="44" width="1" height="4.05" fill="#e4c383" />
<rect x="162.5" y="48" width="1" height="4.1" fill="#b07636" />
<rect x="163.5" y="44" width="0.5" height="4.05" fill="#f7e0a8" />
<rect x="163.5" y="48" width="0.5" height="4.1" fill="#f7e0a8" />
<rect x="164" y="44" width="1.5" height="4.05" fill="#b07636" />
<rect x="164" y="48" width="1.5" height="4.1" fill="#b07636" />
<rect x="165.5" y="44" width="1" height="4.05" fill="#f7e0a8" />
<rect x="165.5" y="48" width="1" height="4.1" fill="#b07636" />
<rect x="166.5" y="44" width="1" height="4.05" fill="#e4c383" />
<rect x="166.5" y="48" width="1" height="4.1" fill="#b07636" />
<rect x="167.5" y="44" width="0.5" height="4.05" fill="#e4c383" />
<rect x="167.5" y="48" width="0.5" height="4.1" fill="#e4c383" />
<rect x="168" y="44" width="1" height="4.05" fill="#b07636" />
<rect x="168" y="48" width="1" height="4.1" fill="#b07636" />
<rect x="169" y="44" width="1" height="4.05" fill="#e4c383" />
<rect x="169" y="48" width="1" height="4.1" fill="#b07636" />
<rect x="170" y="44" width="1" height="4.05" fill="#f7e0a8" />
<rect x="170" y="48" width="1" height="4.1" fill="#b07636" />
<rect x="171" y="44" width="4" height="4.05" fill="#b07636" />
<rect x="171" y="48" width="4" height="4.1" fill="#b07636" />
<rect x="175" y="44" width="2" height="4.05" fill="#b07636" />
<rect x="175" y="48" width="2" height="4.1" fill="#b07636" />
<rect x="177" y="44" width="4" height="4.05" fill="#b07636" />
<rect x="177" y="48" width="4" height="4.1" fill="#b07636" />
<rect x="181" y="44" width="3" height="4.05" fill="#b07636" />
<rect x="181" y="48" width="3" height="4.1" fill="#b07636" />
<rect x="184" y="44" width="1.5" height="4.05" fill="#b07636" />
<rect x="184" y="48" width="1.5" height="4.1" fill="#b07636" />
<rect x="185.5" y="44" width="1" height="4.05" fill="#f7e0a8" />
<rect x="185.5" y="48" width="1" height="4.1" fill="#f7e0a8" />
<rect x="186.5" y="44" width="1" height="4.05" fill="#f7e0a8" />
<rect x="186.5" y="48" width="1" height="4.1" fill="#f7e0a8" />
<rect x="187.5" y="44" width="0.5" height="4.05" fill="#e4c383" />
<rect x="187.5" y="48" width="0.5" height="4.1" fill="#e4c383" />
<rect x="188" y="44" width="1.5" height="4.05" fill="#f7e0a8" />
<rect x="188" y="48" width="1.5" height="4.1" fill="#b07636" />
<rect x="189.5" y="44" width="1" height="4.05" fill="#f7e0a8" />
<rect x="189.5" y="48" width="1" height="4.1" fill="#b07636" />
<rect x="190.5" y="44" width="0.5" height="4.05" fill="#f7e0a8" />
<rect x="190.5" y="48" width="0.5" height="4.1" fill="#f7e0a8" />
<rect x="191" y="44" width="1.5" height="4.05" fill="#f7e0a8" />
<rect x="191" y="48" width="1.5" height="4.1" fill="#f7e0a8" />
<rect x="192.5" y="44" width="1" height="4.05" fill="#f7e0a8" />
<rect x="192.5" y="48" width="1" height="4.1" fill="#f7e0a8" />
<rect x="193.5" y="44" width="1" height="4.05" fill="#f7e0a8" />
<rect x="193.5" y="48" width="1" height="4.1" fill="#f7e0a8" />
<rect x="194.5" y="44" width="1" height="4.05" fill="#b07636" />
<rect x="194.5" y="48" width="1" height="4.1" fill="#b07636" />
<rect x="195.5" y="44" width="0.5" height="4.05" fill="#e4c383" />
<rect x="195.5" y="48" width="0.5" height="4.1" fill="#e4c383" />
<rect x="196" y="44" width="1.5" height="4.05" fill="#b07636" />
<rect x="196" y="48" width="1.5" height="4.1" fill="#b07636" />
<rect x="197.5" y="44" width="4" height="4.05" fill="#b07636" />
<rect x="197.5" y="48" width="4" height="4.1" fill="#b07636" />
<rect x="201.5" y="44" width="0.5" height="4.05" fill="#f7e0a8" />
<rect x="201.5" y="48" width="0.5" height="4.1" fill="#f7e0a8" />
<rect x="202" y="44" width="2" height="4.05" fill="#b07636" />
<rect x="202" y="48" width="2" height="4.1" fill="#b07636" />
<rect x="204" y="44" width="0.5" height="4.05" fill="#b07636" />
<rect x="204" y="48" width="0.5" height="4.1" fill="#b07636" />
<rect x="204.5" y="44" width="2" height="4.05" fill="#b07636" />
<rect x="204.5" y="48" width="2" height="4.1" fill="#b07636" />
<rect x="206.5" y="44" width="1.5" height="4.05" fill="#f7e0a8" />
<rect x="206.5" y="48" width="1.5" height="4.1" fill="#b07636" />
<rect x="208" y="44" width="0.5" height="4.05" fill="#f7e0a8" />
<rect x="208" y="48" width="0.5" height="4.1" fill="#f7e0a8" />
<rect x="208.5" y="44" width="4" height="4.05" fill="#b07636" />
<rect x="208.5" y="48" width="4" height="4.1" fill="#b07636" />
<rect x="212.5" y="44" width="4" height="4.05" fill="#b07636" />
<rect x="212.5" y="48" width="4" height="4.1" fill="#b07636" />
<rect x="216.5" y="44" width="2" height="4.05" fill="#b07636" />
<rect x="216.5" y="48" width="2" height="4.1" fill="#b07636" />
<rect x="218.5" y="44" width="0.5" height="4.05" fill="#b07636" />
<rect x="218.5" y="48" width="0.5" height="4.1" fill="#b07636" />
<rect x="219" y="44" width="4" height="4.05" fill="#b07636" />
<rect x="219" y="48" width="4" height="4.1" fill="#b07636" />
<rect x="55.7" y="100.8" width="0.5" height="3.3" fill="#e0e0e8" />
<rect x="57.2" y="100.8" width="0.5" height="3.3" fill="#e0e0e8" />
<rect x="58.2" y="100.8" width="0.5" height="3.3" fill="#e0e0e8" />
<rect x="60.7" y="100.8" width="0.5" height="3.3" fill="#e0e0e8" />
<rect x="63.2" y="100.8" width="0.5" height="3.3" fill="#e0e0e8" />
<rect x="64.2" y="100.8" width="1" height="3.3" fill="#e0e0e8" />
<rect x="65.2" y="100.8" width="0.5" height="3.3" fill="#e0e0e8" />
<rect x="66.2" y="100.8" width="0.5" height="3.3" fill="#e0e0e8" />
<rect x="66.7" y="100.8" width="1" height="3.3" fill="#e0e0e8" />
<rect x="67.7" y="100.8" width="0.5" height="3.3" fill="#e0e0e8" />
<rect x="68.2" y="100.8" width="0.5" height="3.3" fill="#e0e0e8" />
<rect x="69.2" y="100.8" width="1" height="3.3" fill="#e0e0e8" />
<rect x="71.2" y="100.8" width="0.5" height="3.3" fill="#e0e0e8" />
<rect x="71.7" y="100.8" width="0.5" height="3.3" fill="#e0e0e8" />
<rect x="72.2" y="100.8" width="0.5" height="3.3" fill="#e0e0e8" />
<rect x="72.7" y="100.8" width="1" height="3.3" fill="#e0e0e8" />
<rect x="74.2" y="100.8" width="0.5" height="3.3" fill="#e0e0e8" />
<rect x="74.7" y="100.8" width="1" height="3.3" fill="#e0e0e8" />
<rect x="75.7" y="100.8" width="1" height="3.3" fill="#e0e0e8" />
<rect x="76.7" y="100.8" width="0.5" height="3.3" fill="#e0e0e8" />
<rect x="77.7" y="100.8" width="0.5" height="3.3" fill="#e0e0e8" />
<rect x="78.2" y="100.8" width="1" height="3.3" fill="#e0e0e8" />
<rect x="79.2" y="100.8" width="0.5" height="3.3" fill="#e0e0e8" />
<rect x="80.7" y="100.8" width="1" height="3.3" fill="#e0e0e8" />
<rect x="82.2" y="100.8" width="0.5" height="3.3" fill="#e0e0e8" />
<rect x="83.7" y="100.8" width="1" height="3.3" fill="#e0e0e8" />
<rect x="85.7" y="100.8" width="0.5" height="3.3" fill="#e0e0e8" />
<rect x="86.2" y="100.8" width="0.5" height="3.3" fill="#e0e0e8" />
<rect x="86.7" y="100.8" width="0.5" height="3.3" fill="#e0e0e8" />
<rect x="88.2" y="100.8" width="0.5" height="3.3" fill="#e0e0e8" />
<rect x="89.2" y="100.8" width="0.5" height="3.3" fill="#e0e0e8" />
<rect x="89.7" y="100.8" width="1" height="3.3" fill="#e0e0e8" />
<rect x="91.2" y="100.8" width="0.5" height="3.3" fill="#e0e0e8" />
<rect x="92.2" y="100.8" width="0.5" height="3.3" fill="#e0e0e8" />
<rect x="92.7" y="100.8" width="0.5" height="3.3" fill="#e0e0e8" />
<rect x="94.2" y="100.8" width="0.5" height="3.3" fill="#e0e0e8" />
<rect x="94.7" y="100.8" width="0.5" height="3.3" fill="#e0e0e8" />
<rect x="95.2" y="100.8" width="0.5" height="3.3" fill="#e0e0e8" />
<rect x="95.7" y="100.8" width="1" height="3.3" fill="#e0e0e8" />
<rect x="96.7" y="100.8" width="1" height="3.3" fill="#e0e0e8" />
<rect x="97.7" y="100.8" width="0.5" height="3.3" fill="#e0e0e8" />
<rect x="98.2" y="100.8" width="1" height="3.3" fill="#e0e0e8" />
<rect x="100.7" y="100.8" width="0.5" height="3.3" fill="#e0e0e8" />
<rect x="103.2" y="100.8" width="0.5" height="3.3" fill="#e0e0e8" />
<rect x="103.7" y="100.8" width="0.5" height="3.3" fill="#e0e0e8" />
<rect x="106.7" y="100.8" width="0.5" height="3.3" fill="#e0e0e8" />
<rect x="107.2" y="100.8" width="1" height="3.3" fill="#e0e0e8" />
<rect x="109.2" y="100.8" width="1" height="3.3" fill="#e0e0e8" />
<rect x="110.2" y="100.8" width="0.5" height="3.3" fill="#e0e0e8" />
<rect x="110.7" y="100.8" width="1" height="3.3" fill="#e0e0e8" />
<rect x="111.7" y="100.8" width="0.5" height="3.3" fill="#e0e0e8" />
<rect x="112.2" y="100.8" width="0.5" height="3.3" fill="#e0e0e8" />
<rect x="113.7" y="100.8" width="0.5" height="3.3" fill="#e0e0e8" />
<rect x="114.7" y="100.8" width="0.5" height="3.3" fill="#e0e0e8" />
<rect x="115.2" y="100.8" width="0.5" height="3.3" fill="#e0e0e8" />
<rect x="115.7" y="100.8" width="0.5" height="3.3" fill="#e0e0e8" />
<rect x="117.2" y="100.8" width="0.5" height="3.3" fill="#e0e0e8" />
<rect x="117.7" y="100.8" width="0.5" height="3.3" fill="#e0e0e8" />
<rect x="118.2" y="100.8" width="1" height="3.3" fill="#e0e0e8" />
<rect x="121.2" y="100.8" width="0.5" height="3.3" fill="#e0e0e8" />
<rect x="121.7" y="100.8" width="1" height="3.3" fill="#e0e0e8" />
<rect x="123.2" y="100.8" width="0.5" height="3.3" fill="#e0e0e8" />
<rect x="123.7" y="100.8" width="0.5" height="3.3" fill="#e0e0e8" />
<rect x="124.2" y="100.8" width="0.5" height="3.3" fill="#e0e0e8" />
<rect x="124.7" y="100.8" width="1" height="3.3" fill="#e0e0e8" />
<rect x="125.7" y="100.8" width="0.5" height="3.3" fill="#e0e0e8" />
<rect x="127.7" y="100.8" width="0.5" height="3.3" fill="#e0e0e8" />
<rect x="129.2" y="100.8" width="0.5" height="3.3" fill="#e0e0e8" />
<rect x="129.7" y="100.8" width="0.5" height="3.3" fill="#e0e0e8" />
<rect x="130.2" y="100.8" width="0.5" height="3.3" fill="#e0e0e8" />
<rect x="130.7" y="100.8" width="1" height="3.3" fill="#e0e0e8" />
<rect x="131.7" y="100.8" width="0.5" height="3.3" fill="#e0e0e8" />
<rect x="132.2" y="100.8" width="0.5" height="3.3" fill="#e0e0e8" />
<rect x="135.7" y="100.8" width="0.5" height="3.3" fill="#e0e0e8" />
<rect x="136.2" y="100.8" width="0.5" height="3.3" fill="#e0e0e8" />
<rect x="140.2" y="100.8" width="0.5" height="3.3" fill="#e0e0e8" />
<rect x="141.2" y="100.8" width="0.5" height="3.3" fill="#e0e0e8" />
<rect x="144.2" y="100.8" width="1" height="3.3" fill="#e0e0e8" />
<rect x="145.2" y="100.8" width="0.5" height="3.3" fill="#e0e0e8" />
<rect x="146.7" y="100.8" width="0.5" height="3.3" fill="#e0e0e8" />
<rect x="149.2" y="100.8" width="0.5" height="3.3" fill="#e0e0e8" />
<rect x="149.7" y="100.8" width="0.5" height="3.3" fill="#e0e0e8" />
<rect x="150.2" y="100.8" width="0.5" height="3.3" fill="#e0e0e8" />
<rect x="150.7" y="100.8" width="0.5" height="3.3" fill="#e0e0e8" />
<rect x="152.7" y="100.8" width="0.5" height="3.3" fill="#e0e0e8" />
<rect x="155.2" y="100.8" width="0.5" height="3.3" fill="#e0e0e8" />
<rect x="156.2" y="100.8" width="0.5" height="3.3" fill="#e0e0e8" />
<rect x="157.2" y="100.8" width="0.5" height="3.3" fill="#e0e0e8" />
<rect x="158.2" y="100.8" width="0.5" height="3.3" fill="#e0e0e8" />
<rect x="159.7" y="100.8" width="0.5" height="3.3" fill="#e0e0e8" />
<rect x="163.2" y="100.8" width="0.5" height="3.3" fill="#e0e0e8" />
<rect x="163.7" y="100.8" width="0.5" height="3.3" fill="#e0e0e8" />
<rect x="164.2" y="100.8" width="1" height="3.3" fill="#e0e0e8" />
<rect x="165.2" y="100.8" width="0.5" height="3.3" fill="#e0e0e8" />
<rect x="166.2" y="100.8" width="0.5" height="3.3" fill="#e0e0e8" />
<rect x="167.7" y="100.8" width="1" height="3.3" fill="#e0e0e8" />
<rect x="168.7" y="100.8" width="0.5" height="3.3" fill="#e0e0e8" />
<rect x="169.2" y="100.8" width="1" height="3.3" fill="#e0e0e8" />
<rect x="171.2" y="100.8" width="1" height="3.3" fill="#e0e0e8" />
<rect x="172.2" y="100.8" width="1" height="3.3" fill="#e0e0e8" />
<rect x="174.2" y="100.8" width="0.5" height="3.3" fill="#e0e0e8" />
<rect x="175.7" y="100.8" width="0.5" height="3.3" fill="#e0e0e8" />
<rect x="177.7" y="100.8" width="0.5" height="3.3" fill="#e0e0e8" />
<rect x="178.2" y="100.8" width="0.5" height="3.3" fill="#e0e0e8" />
<rect x="178.7" y="100.8" width="0.5" height="3.3" fill="#e0e0e8" />
<rect x="179.7" y="100.8" width="1" height="3.3" fill="#e0e0e8" />
<rect x="180.7" y="100.8" width="1" height="3.3" fill="#e0e0e8" />
<rect x="181.7" y="100.8" width="1" height="3.3" fill="#e0e0e8" />
<rect x="184.7" y="100.8" width="0.5" height="3.3" fill="#e0e0e8" />
<rect x="186.7" y="100.8" width="0.5" height="3.3" fill="#e0e0e8" />
<rect x="187.2" y="100.8" width="0.5" height="3.3" fill="#e0e0e8" />
<rect x="190.7" y="100.8" width="0.5" height="3.3" fill="#e0e0e8" />
<rect x="191.2" y="100.8" width="1" height="3.3" fill="#e0e0e8" />
<rect x="192.2" y="100.8" width="0.5" height="3.3" fill="#e0e0e8" />
<rect x="193.7" y="100.8" width="0.5" height="3.3" fill="#e0e0e8" />
<rect x="194.7" y="100.8" width="0.5" height="3.3" fill="#e0e0e8" />
<rect x="195.2" y="100.8" width="0.5" height="3.3" fill="#e0e0e8" />
<rect x="195.7" y="100.8" width="0.5" height="3.3" fill="#e0e0e8" />
<rect x="196.7" y="100.8" width="0.5" height="3.3" fill="#e0e0e8" />
<rect x="197.2" y="100.8" width="0.5" height="3.3" fill="#e0e0e8" />
<rect x="197.7" y="100.8" width="1" height="3.3" fill="#e0e0e8" />
<rect x="200.7" y="100.8" width="0.5" height="3.3" fill="#e0e0e8" />
<rect x="202.7" y="100.8" width="0.5" height="3.3" fill="#e0e0e8" />
<rect x="203.7" y="100.8" width="0.5" height="3.3" fill="#e0e0e8" />
<rect x="204.2" y="100.8" width="0.5" height="3.3" fill="#e0e0e8" />
<rect x="205.2" y="100.8" width="0.5" height="3.3" fill="#e0e0e8" />
<rect x="205.7" y="100.8" width="1" height="3.3" fill="#e0e0e8" />
<rect x="209.2" y="100.8" width="1" height="3.3" fill="#e0e0e8" />
<rect x="210.2" y="100.8" width="0.5" height="3.3" fill="#e0e0e8" />
<rect x="210.7" y="100.8" width="1" height="3.3" fill="#e0e0e8" />
<rect x="211.7" y="100.8" width="1" height="3.3" fill="#e0e0e8" />
<rect x="212.7" y="100.8" width="0.5" height="3.3" fill="#e0e0e8" />
<rect x="213.7" y="100.8" width="0.5" height="3.3" fill="#e0e0e8" />
<rect x="214.7" y="100.8" width="0.5" height="3.3" fill="#e0e0e8" />
<rect x="216.2" y="100.8" width="1" height="3.3" fill="#e0e0e8" />
<rect x="217.7" y="100.8" width="0.5" height="3.3" fill="#e0e0e8" />
<rect x="219.2" y="100.8" width="0.5" height="3.3" fill="#e0e0e8" />
<rect x="219.7" y="100.8" width="1" height="3.3" fill="#e0e0e8" />
<rect x="222.2" y="100.8" width="0.5" height="3.3" fill="#e0e0e8" />
<rect x="55.7" y="120.8" width="0.5" height="3.3" fill="#e0e0e8" />
<rect x="56.2" y="120.8" width="0.5" height="3.3" fill="#e0e0e8" />
<rect x="56.7" y="120.8" width="1" height="3.3" fill="#e0e0e8" />
<rect x="57.7" y="120.8" width="0.5" height="3.3" fill="#e0e0e8" />
<rect x="58.7" y="120.8" width="0.5" height="3.3" fill="#e0e0e8" />
<rect x="60.2" y="120.8" width="0.5" height="3.3" fill="#e0e0e8" />
<rect x="62.2" y="120.8" width="1" height="3.3" fill="#e0e0e8" />
<rect x="63.2" y="120.8" width="1" height="3.3" fill="#e0e0e8" />
<rect x="64.2" y="120.8" width="0.5" height="3.3" fill="#e0e0e8" />
<rect x="64.7" y="120.8" width="1" height="3.3" fill="#e0e0e8" />
<rect x="69.7" y="120.8" width="0.5" height="3.3" fill="#e0e0e8" />
<rect x="70.2" y="120.8" width="0.5" height="3.3" fill="#e0e0e8" />
<rect x="70.7" y="120.8" width="1" height="3.3" fill="#e0e0e8" />
<rect x="74.2" y="120.8" width="1" height="3.3" fill="#e0e0e8" />
<rect x="76.7" y="120.8" width="0.5" height="3.3" fill="#e0e0e8" />
<rect x="77.2" y="120.8" width="1" height="3.3" fill="#e0e0e8" />
<rect x="78.7" y="120.8" width="1" height="3.3" fill="#e0e0e8" />
<rect x="80.2" y="120.8" width="0.5" height="3.3" fill="#e0e0e8" />
<rect x="80.7" y="120.8" width="0.5" height="3.3" fill="#e0e0e8" />
<rect x="81.2" y="120.8" width="0.5" height="3.3" fill="#e0e0e8" />
<rect x="83.7" y="120.8" width="1" height="3.3" fill="#e0e0e8" />
<rect x="85.7" y="120.8" width="0.5" height="3.3" fill="#e0e0e8" />
<rect x="86.2" y="120.8" width="1" height="3.3" fill="#e0e0e8" />
<rect x="88.7" y="120.8" width="0.5" height="3.3" fill="#e0e0e8" />
<rect x="89.2" y="120.8" width="0.5" height="3.3" fill="#e0e0e8" />
<rect x="91.2" y="120.8" width="1" height="3.3" fill="#e0e0e8" />
<rect x="92.2" y="120.8" width="0.5" height="3.3" fill="#e0e0e8" />
<rect x="93.7" y="120.8" width="1" height="3.3" fill="#e0e0e8" />
<rect x="94.7" y="120.8" width="0.5" height="3.3" fill="#e0e0e8" />
<rect x="99.2" y="120.8" width="0.5" height="3.3" fill="#e0e0e8" />
<rect x="99.7" y="120.8" width="0.5" height="3.3" fill="#e0e0e8" />
<rect x="100.7" y="120.8" width="1" height="3.3" fill="#e0e0e8" />
<rect x="102.7" y="120.8" width="0.5" height="3.3" fill="#e0e0e8" />
<rect x="103.7" y="120.8" width="1" height="3.3" fill="#e0e0e8" />
<rect x="104.7" y="120.8" width="0.5" height="3.3" fill="#e0e0e8" />
<rect x="105.2" y="120.8" width="0.5" height="3.3" fill="#e0e0e8" />
<rect x="109.2" y="120.8" width="0.5" height="3.3" fill="#e0e0e8" />
<rect x="109.7" y="120.8" width="0.5" height="3.3" fill="#e0e0e8" />
<rect x="110.2" y="120.8" width="1" height="3.3" fill="#e0e0e8" />
<rect x="111.2" y="120.8" width="1" height="3.3" fill="#e0e0e8" />
<rect x="112.7" y="120.8" width="0.5" height="3.3" fill="#e0e0e8" />
<rect x="114.2" y="120.8" width="0.5" height="3.3" fill="#e0e0e8" />
<rect x="114.7" y="120.8" width="0.5" height="3.3" fill="#e0e0e8" />
<rect x="116.7" y="120.8" width="1" height="3.3" fill="#e0e0e8" />
<rect x="117.7" y="120.8" width="1" height="3.3" fill="#e0e0e8" />
<rect x="118.7" y="120.8" width="0.5" height="3.3" fill="#e0e0e8" />
<rect x="119.7" y="120.8" width="0.5" height="3.3" fill="#e0e0e8" />
<rect x="120.7" y="120.8" width="0.5" height="3.3" fill="#e0e0e8" />
<rect x="122.7" y="120.8" width="0.5" height="3.3" fill="#e0e0e8" />
<rect x="123.7" y="120.8" width="1" height="3.3" fill="#e0e0e8" />
<rect x="124.7" y="120.8" width="1" height="3.3" fill="#e0e0e8" />
<rect x="125.7" y="120.8" width="0.5" height="3.3" fill="#e0e0e8" />
<rect x="126.7" y="120.8" width="1" height="3.3" fill="#e0e0e8" />
<rect x="127.7" y="120.8" width="1" height="3.3" fill="#e0e0e8" />
<rect x="128.7" y="120.8" width="0.5" height="3.3" fill="#e0e0e8" />
<rect x="131.7" y="120.8" width="1" height="3.3" fill="#e0e0e8" />
<rect x="133.2" y="120.8" width="1" height="3.3" fill="#e0e0e8" />
<rect x="134.2" y="120.8" width="0.5" height="3.3" fill="#e0e0e8" />
<rect x="135.2" y="120.8" width="0.5" height="3.3" fill="#e0e0e8" />
<rect x="137.2" y="120.8" width="0.5" height="3.3" fill="#e0e0e8" />
<rect x="138.7" y="120.8" width="1" height="3.3" fill="#e0e0e8" />
<rect x="140.2" y="120.8" width="1" height="3.3" fill="#e0e0e8" />
<rect x="141.2" y="120.8" width="1" height="3.3" fill="#e0e0e8" />
<rect x="142.2" y="120.8" width="0.5" height="3.3" fill="#e0e0e8" />
<rect x="142.7" y="120.8" width="0.5" height="3.3" fill="#e0e0e8" />
<rect x="144.7" y="120.8" width="0.5" height="3.3" fill="#e0e0e8" />
<rect x="146.2" y="120.8" width="0.5" height="3.3" fill="#e0e0e8" />
<rect x="147.2" y="120.8" width="0.5" height="3.3" fill="#e0e0e8" />
<rect x="147.7" y="120.8" width="0.5" height="3.3" fill="#e0e0e8" />
<rect x="148.2" y="120.8" width="0.5" height="3.3" fill="#e0e0e8" />
<rect x="150.2" y="120.8" width="0.5" height="3.3" fill="#e0e0e8" />
<rect x="150.7" y="120.8" width="0.5" height="3.3" fill="#e0e0e8" />
<rect x="151.2" y="120.8" width="1" height="3.3" fill="#e0e0e8" />
<rect x="152.2" y="120.8" width="1" height="3.3" fill="#e0e0e8" />
<rect x="157.7" y="120.8" width="1" height="3.3" fill="#e0e0e8" />
<rect x="158.7" y="120.8" width="0.5" height="3.3" fill="#e0e0e8" />
<rect x="160.2" y="120.8" width="0.5" height="3.3" fill="#e0e0e8" />
<rect x="161.2" y="120.8" width="1" height="3.3" fill="#e0e0e8" />
<rect x="162.2" y="120.8" width="0.5" height="3.3" fill="#e0e0e8" />
<rect x="166.2" y="120.8" width="0.5" height="3.3" fill="#e0e0e8" />
<rect x="166.7" y="120.8" width="1" height="3.3" fill="#e0e0e8" />
<rect x="170.2" y="120.8" width="1" height="3.3" fill="#e0e0e8" />
<rect x="172.7" y="120.8" width="0.5" height="3.3" fill="#e0e0e8" />
<rect x="173.2" y="120.8" width="1" height="3.3" fill="#e0e0e8" />
<rect x="175.7" y="120.8" width="1" height="3.3" fill="#e0e0e8" />
<rect x="176.7" y="120.8" width="0.5" height="3.3" fill="#e0e0e8" />
<rect x="177.2" y="120.8" width="0.5" height="3.3" fill="#e0e0e8" />
<rect x="177.7" y="120.8" width="0.5" height="3.3" fill="#e0e0e8" />
<rect x="178.7" y="120.8" width="1" height="3.3" fill="#e0e0e8" />
<rect x="179.7" y="120.8" width="0.5" height="3.3" fill="#e0e0e8" />
<rect x="181.7" y="120.8" width="0.5" height="3.3" fill="#e0e0e8" />
<rect x="182.2" y="120.8" width="0.5" height="3.3" fill="#e0e0e8" />
<rect x="183.2" y="120.8" width="1" height="3.3" fill="#e0e0e8" />
<rect x="185.7" y="120.8" width="0.5" height="3.3" fill="#e0e0e8" />
<rect x="187.2" y="120.8" width="0.5" height="3.3" fill="#e0e0e8" />
<rect x="188.2" y="120.8" width="1" height="3.3" fill="#e0e0e8" />
<rect x="189.2" y="120.8" width="0.5" height="3.3" fill="#e0e0e8" />
<rect x="189.7" y="120.8" width="0.5" height="3.3" fill="#e0e0e8" />
<rect x="191.2" y="120.8" width="0.5" height="3.3" fill="#e0e0e8" />
<rect x="192.7" y="120.8" width="0.5" height="3.3" fill="#e0e0e8" />
<rect x="193.2" y="120.8" width="0.5" height="3.3" fill="#e0e0e8" />
<rect x="193.7" y="120.8" width="0.5" height="3.3" fill="#e0e0e8" />
<rect x="194.2" y="120.8" width="1" height="3.3" fill="#e0e0e8" />
<rect x="195.2" y="120.8" width="0.5" height="3.3" fill="#e0e0e8" />
<rect x="196.2" y="120.8" width="0.5" height="3.3" fill="#e0e0e8" />
<rect x="199.7" y="120.8" width="1" height="3.3" fill="#e0e0e8" />
<rect x="200.7" y="120.8" width="1" height="3.3" fill="#e0e0e8" />
<rect x="203.7" y="120.8" width="1" height="3.3" fill="#e0e0e8" />
<rect x="207.2" y="120.8" width="0.5" height="3.3" fill="#e0e0e8" />
<rect x="207.7" y="120.8" width="1" height="3.3" fill="#e0e0e8" />
<rect x="210.2" y="120.8" width="0.5" height="3.3" fill="#e0e0e8" />
<rect x="210.7" y="120.8" width="0.5" height="3.3" fill="#e0e0e8" />
<rect x="211.2" y="120.8" width="1" height="3.3" fill="#e0e0e8" />
<rect x="212.7" y="120.8" width="1" height="3.3" fill="#e0e0e8" />
<rect x="213.7" y="120.8" width="0.5" height="3.3" fill="#e0e0e8" />
<rect x="215.2" y="120.8" width="0.5" height="3.3" fill="#e0e0e8" />
<rect x="215.7" y="120.8" width="0.5" height="3.3" fill="#e0e0e8" />
<rect x="216.2" y="120.8" width="1" height="3.3" fill="#e0e0e8" />
<rect x="217.7" y="120.8" width="0.5" height="3.3" fill="#e0e0e8" />
<rect x="218.2" y="120.8" width="1" height="3.3" fill="#e0e0e8" />
<rect x="219.2" y="120.8" width="1" height="3.3" fill="#e0e0e8" />
<rect x="220.2" y="120.8" width="1" height="3.3" fill="#e0e0e8" />
<rect x="221.2" y="120.8" width="1" height="3.3" fill="#e0e0e8" />
<rect x="54.7" y="124.8" width="0.5" height="3.3" fill="#e0e0e8" />
<rect x="55.2" y="124.8" width="1" height="3.3" fill="#e0e0e8" />
<rect x="56.2" y="124.8" width="0.5" height="3.3" fill="#e0e0e8" />
<rect x="56.7" y="124.8" width="1" height="3.3" fill="#e0e0e8" />
<rect x="59.2" y="124.8" width="0.5" height="3.3" fill="#e0e0e8" />
<rect x="59.7" y="124.8" width="0.5" height="3.3" fill="#e0e0e8" />
<rect x="60.2" y="124.8" width="1" height="3.3" fill="#e0e0e8" />
<rect x="61.2" y="124.8" width="0.5" height="3.3" fill="#e0e0e8" />
<rect x="61.7" y="124.8" width="0.5" height="3.3" fill="#e0e0e8" />
<rect x="63.2" y="124.8" width="1" height="3.3" fill="#e0e0e8" />
<rect x="64.7" y="124.8" width="0.5" height="3.3" fill="#e0e0e8" />
<rect x="66.2" y="124.8" width="1" height="3.3" fill="#e0e0e8" />
<rect x="67.2" y="124.8" width="0.5" height="3.3" fill="#e0e0e8" />
<rect x="69.7" y="124.8" width="0.5" height="3.3" fill="#e0e0e8" />
<rect x="70.2" y="124.8" width="0.5" height="3.3" fill="#e0e0e8" />
<rect x="71.2" y="124.8" width="1" height="3.3" fill="#e0e0e8" />
<rect x="73.2" y="124.8" width="1" height="3.3" fill="#e0e0e8" />
<rect x="75.7" y="124.8" width="1" height="3.3" fill="#e0e0e8" />
<rect x="77.7" y="124.8" width="0.5" height="3.3" fill="#e0e0e8" />
<rect x="79.2" y="124.8" width="1" height="3.3" fill="#e0e0e8" />
<rect x="81.7" y="124.8" width="0.5" height="3.3" fill="#e0e0e8" />
<rect x="82.2" y="124.8" width="0.5" height="3.3" fill="#e0e0e8" />
<rect x="84.2" y="124.8" width="0.5" height="3.3" fill="#e0e0e8" />
<rect x="84.7" y="124.8" width="1" height="3.3" fill="#e0e0e8" />
<rect x="86.7" y="124.8" width="0.5" height="3.3" fill="#e0e0e8" />
<rect x="90.2" y="124.8" width="1" height="3.3" fill="#e0e0e8" />
<rect x="91.2" y="124.8" width="1" height="3.3" fill="#e0e0e8" />
<rect x="92.7" y="124.8" width="0.5" height="3.3" fill="#e0e0e8" />
<rect x="94.2" y="124.8" width="0.5" height="3.3" fill="#e0e0e8" />
<rect x="94.7" y="124.8" width="0.5" height="3.3" fill="#e0e0e8" />
<rect x="95.2" y="124.8" width="0.5" height="3.3" fill="#e0e0e8" />
<rect x="95.7" y="124.8" width="1" height="3.3" fill="#e0e0e8" />
<rect x="97.7" y="124.8" width="0.5" height="3.3" fill="#e0e0e8" />
<rect x="99.7" y="124.8" width="0.5" height="3.3" fill="#e0e0e8" />
<rect x="102.7" y="124.8" width="0.5" height="3.3" fill="#e0e0e8" />
<rect x="104.2" y="124.8" width="1" height="3.3" fill="#e0e0e8" />
<rect x="105.2" y="124.8" width="0.5" height="3.3" fill="#e0e0e8" />
<rect x="105.7" y="124.8" width="1" height="3.3" fill="#e0e0e8" />
<rect x="107.2" y="124.8" width="0.5" height="3.3" fill="#e0e0e8" />
<rect x="109.7" y="124.8" width="0.5" height="3.3" fill="#e0e0e8" />
<rect x="110.2" y="124.8" width="1" height="3.3" fill="#e0e0e8" />
<rect x="111.2" y="124.8" width="0.5" height="3.3" fill="#e0e0e8" />
<rect x="112.2" y="124.8" width="1" height="3.3" fill="#e0e0e8" />
<rect x="113.2" y="124.8" width="0.5" height="3.3" fill="#e0e0e8" />
<rect x="114.7" y="124.8" width="1" height="3.3" fill="#e0e0e8" />
<rect x="118.2" y="124.8" width="1" height="3.3" fill="#e0e0e8" />
<rect x="119.2" y="124.8" width="0.5" height="3.3" fill="#e0e0e8" />
<rect x="119.7" y="124.8" width="1" height="3.3" fill="#e0e0e8" />
<rect x="121.7" y="124.8" width="0.5" height="3.3" fill="#e0e0e8" />
<rect x="122.2" y="124.8" width="0.5" height="3.3" fill="#e0e0e8" />
<rect x="122.7" y="124.8" width="0.5" height="3.3" fill="#e0e0e8" />
<rect x="123.7" y="124.8" width="1" height="3.3" fill="#e0e0e8" />
<rect x="125.7" y="124.8" width="0.5" height="3.3" fill="#e0e0e8" />
<rect x="128.7" y="124.8" width="0.5" height="3.3" fill="#e0e0e8" />
<rect x="132.7" y="124.8" width="0.5" height="3.3" fill="#e0e0e8" />
<rect x="134.7" y="124.8" width="1" height="3.3" fill="#e0e0e8" />
<rect x="136.7" y="124.8" width="0.5" height="3.3" fill="#e0e0e8" />
<rect x="137.2" y="124.8" width="0.5" height="3.3" fill="#e0e0e8" />
<rect x="137.7" y="124.8" width="1" height="3.3" fill="#e0e0e8" />
<rect x="140.2" y="124.8" width="0.5" height="3.3" fill="#e0e0e8" />
<rect x="140.7" y="124.8" width="0.5" height="3.3" fill="#e0e0e8" />
<rect x="141.2" y="124.8" width="0.5" height="3.3" fill="#e0e0e8" />
<rect x="142.2" y="124.8" width="0.5" height="3.3" fill="#e0e0e8" />
<rect x="142.7" y="124.8" width="0.5" height="3.3" fill="#e0e0e8" />
<rect x="144.2" y="124.8" width="0.5" height="3.3" fill="#e0e0e8" />
<rect x="144.7" y="124.8" width="1" height="3.3" fill="#e0e0e8" />
<rect x="145.7" y="124.8" width="1" height="3.3" fill="#e0e0e8" />
<rect x="146.7" y="124.8" width="0.5" height="3.3" fill="#e0e0e8" />
<rect x="149.2" y="124.8" width="0.5" height="3.3" fill="#e0e0e8" />
<rect x="149.7" y="124.8" width="0.5" height="3.3" fill="#e0e0e8" />
<rect x="150.2" y="124.8" width="0.5" height="3.3" fill="#e0e0e8" />
<rect x="150.7" y="124.8" width="1" height="3.3" fill="#e0e0e8" />
<rect x="151.7" y="124.8" width="1" height="3.3" fill="#e0e0e8" />
<rect x="153.2" y="124.8" width="1" height="3.3" fill="#e0e0e8" />
<rect x="154.7" y="124.8" width="0.5" height="3.3" fill="#e0e0e8" />
<rect x="155.2" y="124.8" width="1" height="3.3" fill="#e0e0e8" />
<rect x="157.7" y="124.8" width="0.5" height="3.3" fill="#e0e0e8" />
<rect x="158.2" y="124.8" width="0.5" height="3.3" fill="#e0e0e8" />
<rect x="159.2" y="124.8" width="0.5" height="3.3" fill="#e0e0e8" />
<rect x="161.2" y="124.8" width="0.5" height="3.3" fill="#e0e0e8" />
<rect x="163.7" y="124.8" width="0.5" height="3.3" fill="#e0e0e8" />
<rect x="164.2" y="124.8" width="0.5" height="3.3" fill="#e0e0e8" />
<rect x="167.2" y="124.8" width="1" height="3.3" fill="#e0e0e8" />
<rect x="168.2" y="124.8" width="0.5" height="3.3" fill="#e0e0e8" />
<rect x="168.7" y="124.8" width="0.5" height="3.3" fill="#e0e0e8" />
<rect x="169.2" y="124.8" width="0.5" height="3.3" fill="#e0e0e8" />
<rect x="169.7" y="124.8" width="0.5" height="3.3" fill="#e0e0e8" />
<rect x="170.7" y="124.8" width="0.5" height="3.3" fill="#e0e0e8" />
<rect x="172.2" y="124.8" width="0.5" height="3.3" fill="#e0e0e8" />
<rect x="173.7" y="124.8" width="1" height="3.3" fill="#e0e0e8" />
<rect x="175.7" y="124.8" width="1" height="3.3" fill="#e0e0e8" />
<rect x="176.7" y="124.8" width="0.5" height="3.3" fill="#e0e0e8" />
<rect x="177.2" y="124.8" width="0.5" height="3.3" fill="#e0e0e8" />
<rect x="177.7" y="124.8" width="1" height="3.3" fill="#e0e0e8" />
<rect x="178.7" y="124.8" width="0.5" height="3.3" fill="#e0e0e8" />
<rect x="179.2" y="124.8" width="0.5" height="3.3" fill="#e0e0e8" />
<rect x="180.2" y="124.8" width="0.5" height="3.3" fill="#e0e0e8" />
<rect x="180.7" y="124.8" width="0.5" height="3.3" fill="#e0e0e8" />
<rect x="181.2" y="124.8" width="0.5" height="3.3" fill="#e0e0e8" />
<rect x="181.7" y="124.8" width="0.5" height="3.3" fill="#e0e0e8" />
<rect x="182.2" y="124.8" width="0.5" height="3.3" fill="#e0e0e8" />
<rect x="182.7" y="124.8" width="0.5" height="3.3" fill="#e0e0e8" />
<rect x="183.2" y="124.8" width="0.5" height="3.3" fill="#e0e0e8" />
<rect x="183.7" y="124.8" width="0.5" height="3.3" fill="#e0e0e8" />
<rect x="184.2" y="124.8" width="1" height="3.3" fill="#e0e0e8" />
<rect x="186.2" y="124.8" width="1" height="3.3" fill="#e0e0e8" />
<rect x="187.2" y="124.8" width="0.5" height="3.3" fill="#e0e0e8" />
<rect x="189.2" y="124.8" width="0.5" height="3.3" fill="#e0e0e8" />
<rect x="190.7" y="124.8" width="0.5" height="3.3" fill="#e0e0e8" />
<rect x="191.2" y="124.8" width="1" height="3.3" fill="#e0e0e8" />
<rect x="192.2" y="124.8" width="1" height="3.3" fill="#e0e0e8" />
<rect x="193.2" y="124.8" width="0.5" height="3.3" fill="#e0e0e8" />
<rect x="193.7" y="124.8" width="1" height="3.3" fill="#e0e0e8" />
<rect x="194.7" y="124.8" width="0.5" height="3.3" fill="#e0e0e8" />
<rect x="195.2" y="124.8" width="0.5" height="3.3" fill="#e0e0e8" />
<rect x="195.7" y="124.8" width="1" height="3.3" fill="#e0e0e8" />
<rect x="198.7" y="124.8" width="1" height="3.3" fill="#e0e0e8" />
<rect x="199.7" y="124.8" width="0.5" height="3.3" fill="#e0e0e8" />
<rect x="202.2" y="124.8" width="0.5" height="3.3" fill="#e0e0e8" />
<rect x="204.7" y="124.8" width="0.5" height="3.3" fill="#e0e0e8" />
<rect x="206.2" y="124.8" width="0.5" height="3.3" fill="#e0e0e8" />
<rect x="207.2" y="124.8" width="0.5" height="3.3" fill="#e0e0e8" />
<rect x="207.7" y="124.8" width="1" height="3.3" fill="#e0e0e8" />
<rect x="209.2" y="124.8" width="0.5" height="3.3" fill="#e0e0e8" />
<rect x="209.7" y="124.8" width="1" height="3.3" fill="#e0e0e8" />
<rect x="212.7" y="124.8" width="0.5" height="3.3" fill="#e0e0e8" />
<rect x="213.2" y="124.8" width="1" height="3.3" fill="#e0e0e8" />
<rect x="215.2" y="124.8" width="0.5" height="3.3" fill="#e0e0e8" />
<rect x="216.2" y="124.8" width="0.5" height="3.3" fill="#e0e0e8" />
<rect x="217.2" y="124.8" width="1" height="3.3" fill="#e0e0e8" />
<rect x="219.2" y="124.8" width="0.5" height="3.3" fill="#e0e0e8" />
<rect x="220.2" y="124.8" width="0.5" height="3.3" fill="#e0e0e8" />
<rect x="221.7" y="124.8" width="0.5" height="3.3" fill="#e0e0e8" />
<rect x="53.7" y="140.8" width="1" height="3.3" fill="#e0e0e8" />
<rect x="55.2" y="140.8" width="1" height="3.3" fill="#e0e0e8" />
<rect x="56.2" y="140.8" width="0.5" height="3.3" fill="#e0e0e8" />
<rect x="57.2" y="140.8" width="0.5" height="3.3" fill="#e0e0e8" />
<rect x="57.7" y="140.8" width="0.5" height="3.3" fill="#e0e0e8" />
<rect x="62.7" y="140.8" width="1" height="3.3" fill="#e0e0e8" />
<rect x="64.2" y="140.8" width="0.5" height="3.3" fill="#e0e0e8" />
<rect x="66.7" y="140.8" width="1" height="3.3" fill="#e0e0e8" />
<rect x="67.7" y="140.8" width="1" height="3.3" fill="#e0e0e8" />
<rect x="71.2" y="140.8" width="0.5" height="3.3" fill="#e0e0e8" />
<rect x="71.7" y="140.8" width="0.5" height="3.3" fill="#e0e0e8" />
<rect x="72.2" y="140.8" width="0.5" height="3.3" fill="#e0e0e8" />
<rect x="72.7" y="140.8" width="1" height="3.3" fill="#e0e0e8" />
<rect x="73.7" y="140.8" width="0.5" height="3.3" fill="#e0e0e8" />
<rect x="75.2" y="140.8" width="0.5" height="3.3" fill="#e0e0e8" />
<rect x="79.2" y="140.8" width="0.5" height="3.3" fill="#e0e0e8" />
<rect x="79.7" y="140.8" width="0.5" height="3.3" fill="#e0e0e8" />
<rect x="80.2" y="140.8" width="0.5" height="3.3" fill="#e0e0e8" />
<rect x="80.7" y="140.8" width="0.5" height="3.3" fill="#e0e0e8" />
<rect x="81.2" y="140.8" width="0.5" height="3.3" fill="#e0e0e8" />
<rect x="83.7" y="140.8" width="0.5" height="3.3" fill="#e0e0e8" />
<rect x="85.2" y="140.8" width="0.5" height="3.3" fill="#e0e0e8" />
<rect x="86.7" y="140.8" width="0.5" height="3.3" fill="#e0e0e8" />
<rect x="90.2" y="140.8" width="0.5" height="3.3" fill="#e0e0e8" />
<rect x="90.7" y="140.8" width="1" height="3.3" fill="#e0e0e8" />
<rect x="91.7" y="140.8" width="0.5" height="3.3" fill="#e0e0e8" />
<rect x="92.2" y="140.8" width="0.5" height="3.3" fill="#e0e0e8" />
<rect x="92.7" y="140.8" width="0.5" height="3.3" fill="#e0e0e8" />
<rect x="94.2" y="140.8" width="1" height="3.3" fill="#e0e0e8" />
<rect x="95.2" y="140.8" width="0.5" height="3.3" fill="#e0e0e8" />
<rect x="95.7" y="140.8" width="0.5" height="3.3" fill="#e0e0e8" />
<rect x="96.2" y="140.8" width="0.5" height="3.3" fill="#e0e0e8" />
<rect x="97.2" y="140.8" width="0.5" height="3.3" fill="#e0e0e8" />
<rect x="97.7" y="140.8" width="0.5" height="3.3" fill="#e0e0e8" />
<rect x="98.7" y="140.8" width="0.5" height="3.3" fill="#e0e0e8" />
<rect x="99.7" y="140.8" width="0.5" height="3.3" fill="#e0e0e8" />
<rect x="101.7" y="140.8" width="0.5" height="3.3" fill="#e0e0e8" />
<rect x="102.2" y="140.8" width="1" height="3.3" fill="#e0e0e8" />
<rect x="103.2" y="140.8" width="1" height="3.3" fill="#e0e0e8" />
<rect x="105.2" y="140.8" width="1" height="3.3" fill="#e0e0e8" />
<rect x="107.2" y="140.8" width="0.5" height="3.3" fill="#e0e0e8" />
<rect x="108.7" y="140.8" width="1" height="3.3" fill="#e0e0e8" />
<rect x="109.7" y="140.8" width="0.5" height="3.3" fill="#e0e0e8" />
<rect x="111.2" y="140.8" width="0.5" height="3.3" fill="#e0e0e8" />
<rect x="111.7" y="140.8" width="1" height="3.3" fill="#e0e0e8" />
<rect x="113.2" y="140.8" width="1" height="3.3" fill="#e0e0e8" />
<rect x="115.2" y="140.8" width="0.5" height="3.3" fill="#e0e0e8" />
<rect x="117.7" y="140.8" width="0.5" height="3.3" fill="#e0e0e8" />
<rect x="118.2" y="140.8" width="0.5" height="3.3" fill="#e0e0e8" />
<rect x="119.7" y="140.8" width="1" height="3.3" fill="#e0e0e8" />
<rect x="120.7" y="140.8" width="0.5" height="3.3" fill="#e0e0e8" />
<rect x="122.2" y="140.8" width="0.5" height="3.3" fill="#e0e0e8" />
<rect x="123.2" y="140.8" width="0.5" height="3.3" fill="#e0e0e8" />
<rect x="124.2" y="140.8" width="0.5" height="3.3" fill="#e0e0e8" />
<rect x="128.2" y="140.8" width="0.5" height="3.3" fill="#e0e0e8" />
<rect x="128.7" y="140.8" width="0.5" height="3.3" fill="#e0e0e8" />
<rect x="129.2" y="140.8" width="1" height="3.3" fill="#e0e0e8" />
<rect x="130.7" y="140.8" width="1" height="3.3" fill="#e0e0e8" />
<rect x="131.7" y="140.8" width="0.5" height="3.3" fill="#e0e0e8" />
<rect x="132.7" y="140.8" width="1" height="3.3" fill="#e0e0e8" />
<rect x="134.2" y="140.8" width="0.5" height="3.3" fill="#e0e0e8" />
<rect x="135.7" y="140.8" width="1" height="3.3" fill="#e0e0e8" />
<rect x="137.7" y="140.8" width="0.5" height="3.3" fill="#e0e0e8" />
<rect x="138.2" y="140.8" width="0.5" height="3.3" fill="#e0e0e8" />
<rect x="139.2" y="140.8" width="1" height="3.3" fill="#e0e0e8" />
<rect x="141.2" y="140.8" width="1" height="3.3" fill="#e0e0e8" />
<rect x="143.7" y="140.8" width="1" height="3.3" fill="#e0e0e8" />
<rect x="144.7" y="140.8" width="1" height="3.3" fill="#e0e0e8" />
<rect x="145.7" y="140.8" width="0.5" height="3.3" fill="#e0e0e8" />
<rect x="146.7" y="140.8" width="1" height="3.3" fill="#e0e0e8" />
<rect x="149.7" y="140.8" width="1" height="3.3" fill="#e0e0e8" />
<rect x="150.7" y="140.8" width="0.5" height="3.3" fill="#e0e0e8" />
<rect x="152.2" y="140.8" width="0.5" height="3.3" fill="#e0e0e8" />
<rect x="153.2" y="140.8" width="1" height="3.3" fill="#e0e0e8" />
<rect x="154.2" y="140.8" width="0.5" height="3.3" fill="#e0e0e8" />
<rect x="157.7" y="140.8" width="1" height="3.3" fill="#e0e0e8" />
<rect x="158.7" y="140.8" width="1" height="3.3" fill="#e0e0e8" />
<rect x="160.2" y="140.8" width="1" height="3.3" fill="#e0e0e8" />
<rect x="161.2" y="140.8" width="0.5" height="3.3" fill="#e0e0e8" />
<rect x="161.7" y="140.8" width="1" height="3.3" fill="#e0e0e8" />
<rect x="164.7" y="140.8" width="0.5" height="3.3" fill="#e0e0e8" />
<rect x="165.2" y="140.8" width="0.5" height="3.3" fill="#e0e0e8" />
<rect x="165.7" y="140.8" width="0.5" height="3.3" fill="#e0e0e8" />
<rect x="166.2" y="140.8" width="1" height="3.3" fill="#e0e0e8" />
<rect x="167.2" y="140.8" width="1" height="3.3" fill="#e0e0e8" />
<rect x="168.2" y="140.8" width="0.5" height="3.3" fill="#e0e0e8" />
<rect x="168.7" y="140.8" width="0.5" height="3.3" fill="#e0e0e8" />
<rect x="170.7" y="140.8" width="0.5" height="3.3" fill="#e0e0e8" />
<rect x="171.2" y="140.8" width="1" height="3.3" fill="#e0e0e8" />
<rect x="172.2" y="140.8" width="0.5" height="3.3" fill="#e0e0e8" />
<rect x="173.7" y="140.8" width="0.5" height="3.3" fill="#e0e0e8" />
<rect x="174.2" y="140.8" width="0.5" height="3.3" fill="#e0e0e8" />
<rect x="174.7" y="140.8" width="1" height="3.3" fill="#e0e0e8" />
<rect x="176.2" y="140.8" width="0.5" height="3.3" fill="#e0e0e8" />
<rect x="177.2" y="140.8" width="1" height="3.3" fill="#e0e0e8" />
<rect x="178.2" y="140.8" width="0.5" height="3.3" fill="#e0e0e8" />
<rect x="178.7" y="140.8" width="1" height="3.3" fill="#e0e0e8" />
<rect x="179.7" y="140.8" width="0.5" height="3.3" fill="#e0e0e8" />
<rect x="180.2" y="140.8" width="0.5" height="3.3" fill="#e0e0e8" />
<rect x="180.7" y="140.8" width="0.5" height="3.3" fill="#e0e0e8" />
<rect x="181.2" y="140.8" width="0.5" height="3.3" fill="#e0e0e8" />
<rect x="181.7" y="140.8" width="0.5" height="3.3" fill="#e0e0e8" />
<rect x="183.2" y="140.8" width="0.5" height="3.3" fill="#e0e0e8" />
<rect x="185.2" y="140.8" width="0.5" height="3.3" fill="#e0e0e8" />
<rect x="185.7" y="140.8" width="0.5" height="3.3" fill="#e0e0e8" />
<rect x="186.2" y="140.8" width="0.5" height="3.3" fill="#e0e0e8" />
<rect x="186.7" y="140.8" width="1" height="3.3" fill="#e0e0e8" />
<rect x="187.7" y="140.8" width="0.5" height="3.3" fill="#e0e0e8" />
<rect x="188.2" y="140.8" width="0.5" height="3.3" fill="#e0e0e8" />
<rect x="190.2" y="140.8" width="0.5" height="3.3" fill="#e0e0e8" />
<rect x="190.7" y="140.8" width="0.5" height="3.3" fill="#e0e0e8" />
<rect x="191.2" y="140.8" width="0.5" height="3.3" fill="#e0e0e8" />
<rect x="191.7" y="140.8" width="1" height="3.3" fill="#e0e0e8" />
<rect x="193.7" y="140.8" width="1" height="3.3" fill="#e0e0e8" />
<rect x="197.7" y="140.8" width="1" height="3.3" fill="#e0e0e8" />
<rect x="201.7" y="140.8" width="0.5" height="3.3" fill="#e0e0e8" />
<rect x="203.2" y="140.8" width="0.5" height="3.3" fill="#e0e0e8" />
<rect x="203.7" y="140.8" width="1" height="3.3" fill="#e0e0e8" />
<rect x="205.2" y="140.8" width="0.5" height="3.3" fill="#e0e0e8" />
<rect x="207.7" y="140.8" width="0.5" height="3.3" fill="#e0e0e8" />
<rect x="208.2" y="140.8" width="1" height="3.3" fill="#e0e0e8" />
<rect x="209.2" y="140.8" width="0.5" height="3.3" fill="#e0e0e8" />
<rect x="209.7" y="140.8" width="1" height="3.3" fill="#e0e0e8" />
<rect x="210.7" y="140.8" width="0.5" height="3.3" fill="#e0e0e8" />
<rect x="213.2" y="140.8" width="0.5" height="3.3" fill="#e0e0e8" />
<rect x="214.7" y="140.8" width="1" height="3.3" fill="#e0e0e8" />
<rect x="215.7" y="140.8" width="0.5" height="3.3" fill="#e0e0e8" />
<rect x="217.7" y="140.8" width="0.5" height="3.3" fill="#e0e0e8" />
<rect x="218.2" y="140.8" width="1" height="3.3" fill="#e0e0e8" />
<rect x="219.2" y="140.8" width="0.5" height="3.3" fill="#e0e0e8" />
<rect x="221.7" y="140.8" width="0.5" height="3.3" fill="#e0e0e8" />
<rect x="222.2" y="140.8" width="0.5" height="3.3" fill="#e0e0e8" />
<rect x="222.7" y="140.8" width="0.5" height="3.3" fill="#e0e0e8" />
<rect x="53.2" y="152.8" width="1" height="3.3" fill="#e0e0e8" />
<rect x="57.2" y="152.8" width="1" height="3.3" fill="#e0e0e8" />
<rect x="58.2" y="152.8" width="0.5" height="3.3" fill="#e0e0e8" />
<rect x="58.7" y="152.8" width="1" height="3.3" fill="#e0e0e8" />
<rect x="61.7" y="152.8" width="1" height="3.3" fill="#e0e0e8" />
<rect x="62.7" y="152.8" width="0.5" height="3.3" fill="#e0e0e8" />
<rect x="63.7" y="152.8" width="0.5" height="3.3" fill="#e0e0e8" />
<rect x="64.2" y="152.8" width="1" height="3.3" fill="#e0e0e8" />
<rect x="66.2" y="152.8" width="0.5" height="3.3" fill="#e0e0e8" />
<rect x="66.7" y="152.8" width="0.5" height="3.3" fill="#e0e0e8" />
<rect x="67.2" y="152.8" width="0.5" height="3.3" fill="#e0e0e8" />
<rect x="70.2" y="152.8" width="1" height="3.3" fill="#e0e0e8" />
<rect x="71.2" y="152.8" width="1" height="3.3" fill="#e0e0e8" />
<rect x="73.2" y="152.8" width="0.5" height="3.3" fill="#e0e0e8" />
<rect x="73.7" y="152.8" width="0.5" height="3.3" fill="#e0e0e8" />
<rect x="75.2" y="152.8" width="1" height="3.3" fill="#e0e0e8" />
<rect x="76.2" y="152.8" width="1" height="3.3" fill="#e0e0e8" />
<rect x="77.2" y="152.8" width="1" height="3.3" fill="#e0e0e8" />
<rect x="78.2" y="152.8" width="0.5" height="3.3" fill="#e0e0e8" />
<rect x="78.7" y="152.8" width="0.5" height="3.3" fill="#e0e0e8" />
<rect x="79.2" y="152.8" width="0.5" height="3.3" fill="#e0e0e8" />
<rect x="80.2" y="152.8" width="0.5" height="3.3" fill="#e0e0e8" />
<rect x="80.7" y="152.8" width="1" height="3.3" fill="#e0e0e8" />
<rect x="81.7" y="152.8" width="0.5" height="3.3" fill="#e0e0e8" />
<rect x="82.2" y="152.8" width="0.5" height="3.3" fill="#e0e0e8" />
<rect x="82.7" y="152.8" width="1" height="3.3" fill="#e0e0e8" />
<rect x="83.7" y="152.8" width="1" height="3.3" fill="#e0e0e8" />
<rect x="84.7" y="152.8" width="0.5" height="3.3" fill="#e0e0e8" />
<rect x="85.2" y="152.8" width="1" height="3.3" fill="#e0e0e8" />
<rect x="86.2" y="152.8" width="1" height="3.3" fill="#e0e0e8" />
<rect x="88.2" y="152.8" width="1" height="3.3" fill="#e0e0e8" />
<rect x="91.7" y="152.8" width="0.5" height="3.3" fill="#e0e0e8" />
<rect x="92.2" y="152.8" width="0.5" height="3.3" fill="#e0e0e8" />
<rect x="92.7" y="152.8" width="0.5" height="3.3" fill="#e0e0e8" />
<rect x="94.2" y="152.8" width="0.5" height="3.3" fill="#e0e0e8" />
<rect x="95.2" y="152.8" width="0.5" height="3.3" fill="#e0e0e8" />
<rect x="95.7" y="152.8" width="0.5" height="3.3" fill="#e0e0e8" />
<rect x="96.7" y="152.8" width="0.5" height="3.3" fill="#e0e0e8" />
<rect x="97.2" y="152.8" width="1" height="3.3" fill="#e0e0e8" />
<rect x="99.7" y="152.8" width="0.5" height="3.3" fill="#e0e0e8" />
<rect x="100.2" y="152.8" width="1" height="3.3" fill="#e0e0e8" />
<rect x="101.7" y="152.8" width="1" height="3.3" fill="#e0e0e8" />
<rect x="104.7" y="152.8" width="1" height="3.3" fill="#e0e0e8" />
<rect x="106.7" y="152.8" width="0.5" height="3.3" fill="#e0e0e8" />
<rect x="108.7" y="152.8" width="1" height="3.3" fill="#e0e0e8" />
<rect x="111.7" y="152.8" width="0.5" height="3.3" fill="#e0e0e8" />
<rect x="112.2" y="152.8" width="0.5" height="3.3" fill="#e0e0e8" />
<rect x="112.7" y="152.8" width="0.5" height="3.3" fill="#e0e0e8" />
<rect x="113.7" y="152.8" width="0.5" height="3.3" fill="#e0e0e8" />
<rect x="114.2" y="152.8" width="0.5" height="3.3" fill="#e0e0e8" />
<rect x="115.7" y="152.8" width="1" height="3.3" fill="#e0e0e8" />
<rect x="117.2" y="152.8" width="0.5" height="3.3" fill="#e0e0e8" />
<rect x="117.7" y="152.8" width="1" height="3.3" fill="#e0e0e8" />
<rect x="119.2" y="152.8" width="1" height="3.3" fill="#e0e0e8" />
<rect x="120.2" y="152.8" width="1" height="3.3" fill="#e0e0e8" />
<rect x="121.2" y="152.8" width="0.5" height="3.3" fill="#e0e0e8" />
<rect x="121.7" y="152.8" width="0.5" height="3.3" fill="#e0e0e8" />
<rect x="122.7" y="152.8" width="0.5" height="3.3" fill="#e0e0e8" />
<rect x="123.2" y="152.8" width="1" height="3.3" fill="#e0e0e8" />
<rect x="124.7" y="152.8" width="1" height="3.3" fill="#e0e0e8" />
<rect x="125.7" y="152.8" width="0.5" height="3.3" fill="#e0e0e8" />
<rect x="127.2" y="152.8" width="0.5" height="3.3" fill="#e0e0e8" />
<rect x="129.2" y="152.8" width="0.5" height="3.3" fill="#e0e0e8" />
<rect x="129.7" y="152.8" width="0.5" height="3.3" fill="#e0e0e8" />
<rect x="131.2" y="152.8" width="1" height="3.3" fill="#e0e0e8" />
<rect x="132.7" y="152.8" width="1" height="3.3" fill="#e0e0e8" />
<rect x="138.7" y="152.8" width="0.5" height="3.3" fill="#e0e0e8" />
<rect x="139.7" y="152.8" width="1" height="3.3" fill="#e0e0e8" />
<rect x="140.7" y="152.8" width="0.5" height="3.3" fill="#e0e0e8" />
<rect x="141.2" y="152.8" width="1" height="3.3" fill="#e0e0e8" />
<rect x="142.2" y="152.8" width="0.5" height="3.3" fill="#e0e0e8" />
<rect x="142.7" y="152.8" width="1" height="3.3" fill="#e0e0e8" />
<rect x="145.2" y="152.8" width="1" height="3.3" fill="#e0e0e8" />
<rect x="146.2" y="152.8" width="0.5" height="3.3" fill="#e0e0e8" />
<rect x="147.7" y="152.8" width="0.5" height="3.3" fill="#e0e0e8" />
<rect x="150.7" y="152.8" width="1" height="3.3" fill="#e0e0e8" />
<rect x="152.7" y="152.8" width="1" height="3.3" fill="#e0e0e8" />
<rect x="154.2" y="152.8" width="0.5" height="3.3" fill="#e0e0e8" />
<rect x="159.7" y="152.8" width="0.5" height="3.3" fill="#e0e0e8" />
<rect x="160.2" y="152.8" width="1" height="3.3" fill="#e0e0e8" />
<rect x="161.2" y="152.8" width="0.5" height="3.3" fill="#e0e0e8" />
<rect x="161.7" y="152.8" width="0.5" height="3.3" fill="#e0e0e8" />
<rect x="163.2" y="152.8" width="0.5" height="3.3" fill="#e0e0e8" />
<rect x="163.7" y="152.8" width="1" height="3.3" fill="#e0e0e8" />
<rect x="166.7" y="152.8" width="0.5" height="3.3" fill="#e0e0e8" />
<rect x="168.7" y="152.8" width="0.5" height="3.3" fill="#e0e0e8" />
<rect x="170.7" y="152.8" width="1" height="3.3" fill="#e0e0e8" />
<rect x="171.7" y="152.8" width="1" height="3.3" fill="#e0e0e8" />
<rect x="173.2" y="152.8" width="1" height="3.3" fill="#e0e0e8" />
<rect x="174.2" y="152.8" width="1" height="3.3" fill="#e0e0e8" />
<rect x="175.2" y="152.8" width="0.5" height="3.3" fill="#e0e0e8" />
<rect x="175.7" y="152.8" width="0.5" height="3.3" fill="#e0e0e8" />
<rect x="176.2" y="152.8" width="1" height="3.3" fill="#e0e0e8" />
<rect x="177.2" y="152.8" width="0.5" height="3.3" fill="#e0e0e8" />
<rect x="178.2" y="152.8" width="0.5" height="3.3" fill="#e0e0e8" />
<rect x="179.2" y="152.8" width="1" height="3.3" fill="#e0e0e8" />
<rect x="182.7" y="152.8" width="0.5" height="3.3" fill="#e0e0e8" />
<rect x="183.2" y="152.8" width="0.5" height="3.3" fill="#e0e0e8" />
<rect x="184.2" y="152.8" width="0.5" height="3.3" fill="#e0e0e8" />
<rect x="188.2" y="152.8" width="0.5" height="3.3" fill="#e0e0e8" />
<rect x="189.7" y="152.8" width="0.5" height="3.3" fill="#e0e0e8" />
<rect x="190.2" y="152.8" width="0.5" height="3.3" fill="#e0e0e8" />
<rect x="191.2" y="152.8" width="0.5" height="3.3" fill="#e0e0e8" />
<rect x="193.2" y="152.8" width="0.5" height="3.3" fill="#e0e0e8" />
<rect x="193.7" y="152.8" width="1" height="3.3" fill="#e0e0e8" />
<rect x="194.7" y="152.8" width="0.5" height="3.3" fill="#e0e0e8" />
<rect x="195.7" y="152.8" width="1" height="3.3" fill="#e0e0e8" />
<rect x="197.2" y="152.8" width="0.5" height="3.3" fill="#e0e0e8" />
<rect x="197.7" y="152.8" width="0.5" height="3.3" fill="#e0e0e8" />
<rect x="198.2" y="152.8" width="0.5" height="3.3" fill="#e0e0e8" />
<rect x="201.7" y="152.8" width="1" height="3.3" fill="#e0e0e8" />
<rect x="206.2" y="152.8" width="0.5" height="3.3" fill="#e0e0e8" />
<rect x="207.7" y="152.8" width="0.5" height="3.3" fill="#e0e0e8" />
<rect x="209.7" y="152.8" width="0.5" height="3.3" fill="#e0e0e8" />
<rect x="210.2" y="152.8" width="0.5" height="3.3" fill="#e0e0e8" />
<rect x="210.7" y="152.8" width="1" height="3.3" fill="#e0e0e8" />
<rect x="211.7" y="152.8" width="0.5" height="3.3" fill="#e0e0e8" />
<rect x="212.7" y="152.8" width="1" height="3.3" fill="#e0e0e8" />
<rect x="215.7" y="152.8" width="0.5" height="3.3" fill="#e0e0e8" />
<rect x="217.7" y="152.8" width="0.5" height="3.3" fill="#e0e0e8" />
<rect x="218.2" y="152.8" width="1" height="3.3" fill="#e0e0e8" />
<rect x="220.7" y="152.8" width="1" height="3.3" fill="#e0e0e8" />
<rect x="222.7" y="152.8" width="0.5" height="3.3" fill="#e0e0e8" />
<rect x="53.3" y="52.75" width="14.6" height="3.3" fill="#7893d0" />
<rect x="68.4" y="56.75" width="1.2" height="3.3" fill="#7893d0" />
<rect x="69.6" y="60.75" width="6.6" height="3.3" fill="#7893d0" />
<rect x="53.2" y="60.75" width="1.2" height="3.3" fill="#7893d0" />
<rect x="76.6" y="64.75" width="4.3" height="3.3" fill="#7893d0" />
<rect x="55.1" y="64.75" width="2.2" height="3.3" fill="#7893d0" />
<rect x="80.6" y="68.75" width="1.6" height="3.3" fill="#7893d0" />
<rect x="77.8" y="68.75" width="1" height="3.3" fill="#7893d0" />
<rect x="82.2" y="72.75" width="6.5" height="3.3" fill="#7893d0" />
<rect x="58.2" y="72.75" width="4.8" height="3.3" fill="#7893d0" />
<rect x="55.2" y="72.75" width="1.2" height="3.3" fill="#7893d0" />
<rect x="89.4" y="76.75" width="2.4" height="3.3" fill="#7893d0" />
<rect x="57.8" y="76.75" width="1.3" height="3.3" fill="#7893d0" />
<rect x="62.7" y="76.75" width="1.7" height="3.3" fill="#7893d0" />
<rect x="77.8" y="76.75" width="0.9" height="3.3" fill="#7893d0" />
<rect x="82.2" y="76.75" width="2" height="3.3" fill="#7893d0" />
<rect x="91.8" y="80.75" width="2.2" height="3.3" fill="#7893d0" />
<rect x="69.3" y="80.75" width="1.8" height="3.3" fill="#7893d0" />
<rect x="77.3" y="80.75" width="1.4" height="3.3" fill="#7893d0" />
<rect x="93.6" y="84.75" width="1.7" height="3.3" fill="#7893d0" />
<rect x="54.7" y="84.75" width="1.3" height="3.3" fill="#7893d0" />
<rect x="64.4" y="84.75" width="1.8" height="3.3" fill="#7893d0" />
<rect x="81.3" y="84.75" width="1.4" height="3.3" fill="#7893d0" />
<rect x="84.7" y="84.75" width="1.3" height="3.3" fill="#7893d0" />
<rect x="94.4" y="88.75" width="2.3" height="3.3" fill="#7893d0" />
<rect x="54.7" y="88.75" width="0.9" height="3.3" fill="#7893d0" />
<rect x="57.8" y="88.75" width="1.7" height="3.3" fill="#7893d0" />
<rect x="64.4" y="88.75" width="1.8" height="3.3" fill="#7893d0" />
<rect x="85.6" y="88.75" width="1.3" height="3.3" fill="#7893d0" />
<rect x="95.3" y="92.75" width="1.8" height="3.3" fill="#7893d0" />
<rect x="67.1" y="92.75" width="0.9" height="3.3" fill="#7893d0" />
<rect x="72" y="92.75" width="0.9" height="3.3" fill="#7893d0" />
<rect x="92.7" y="92.75" width="0.8" height="3.3" fill="#7893d0" />
<rect x="91.8" y="96.75" width="2.6" height="3.3" fill="#7893d0" />
<rect x="78" y="96.75" width="1" height="3.3" fill="#7893d0" />
<rect x="98" y="100.75" width="2" height="3.3" fill="#7893d0" />
<rect x="110.6" y="52.75" width="4.7" height="3.3" fill="#7893d0" />
<rect x="115.8" y="56.75" width="15.9" height="3.3" fill="#7893d0" />
<rect x="115.8" y="60.75" width="1.3" height="3.3" fill="#7893d0" />
<rect x="131.7" y="60.75" width="4.4" height="3.3" fill="#7893d0" />
<rect x="111.8" y="64.75" width="1.3" height="3.3" fill="#7893d0" />
<rect x="136.5" y="64.75" width="3.6" height="3.3" fill="#7893d0" />
<rect x="117.1" y="68.75" width="1.8" height="3.3" fill="#7893d0" />
<rect x="111.8" y="68.75" width="1.3" height="3.3" fill="#7893d0" />
<rect x="140.1" y="68.75" width="2.7" height="3.3" fill="#7893d0" />
<rect x="136.5" y="68.75" width="0.9" height="3.3" fill="#7893d0" />
<rect x="111.8" y="72.75" width="0.9" height="3.3" fill="#7893d0" />
<rect x="142.8" y="72.75" width="1.7" height="3.3" fill="#7893d0" />
<rect x="136.5" y="72.75" width="1.3" height="3.3" fill="#7893d0" />
<rect x="113.5" y="76.75" width="1.8" height="3.3" fill="#7893d0" />
<rect x="144.5" y="76.75" width="1.4" height="3.3" fill="#7893d0" />
<rect x="139.7" y="76.75" width="1.3" height="3.3" fill="#7893d0" />
<rect x="114" y="80.75" width="1.8" height="3.3" fill="#7893d0" />
<rect x="145.4" y="80.75" width="1.8" height="3.3" fill="#7893d0" />
<rect x="133.9" y="80.75" width="0.9" height="3.3" fill="#7893d0" />
<rect x="117.1" y="84.75" width="1.8" height="3.3" fill="#7893d0" />
<rect x="142.8" y="84.75" width="1.3" height="3.3" fill="#7893d0" />
<rect x="117.1" y="88.75" width="1.8" height="3.3" fill="#7893d0" />
<rect x="146.8" y="88.75" width="1.3" height="3.3" fill="#7893d0" />
<rect x="118" y="92.75" width="1.8" height="3.3" fill="#7893d0" />
<rect x="147.6" y="96.75" width="2.3" height="3.3" fill="#7893d0" />
<rect x="147" y="108.75" width="2.5" height="3.3" fill="#7893d0" />
<rect x="147.5" y="100.75" width="1.5" height="3.3" fill="#7893d0" />
<rect x="155.9" y="52.75" width="8" height="3.3" fill="#7893d0" />
<rect x="164.3" y="56.75" width="6.7" height="3.3" fill="#7893d0" />
<rect x="155.9" y="60.75" width="3.1" height="3.3" fill="#7893d0" />
<rect x="171" y="60.75" width="12.1" height="3.3" fill="#7893d0" />
<rect x="155.9" y="64.75" width="0.9" height="3.3" fill="#7893d0" />
<rect x="164.3" y="64.75" width="1.8" height="3.3" fill="#7893d0" />
<rect x="171" y="64.75" width="1.8" height="3.3" fill="#7893d0" />
<rect x="183.6" y="64.75" width="5.3" height="3.3" fill="#7893d0" />
<rect x="156.3" y="68.75" width="0.9" height="3.3" fill="#7893d0" />
<rect x="164.3" y="68.75" width="1.8" height="3.3" fill="#7893d0" />
<rect x="171" y="68.75" width="4.9" height="3.3" fill="#7893d0" />
<rect x="189.3" y="68.75" width="3.6" height="3.3" fill="#7893d0" />
<rect x="183.6" y="68.75" width="0.8" height="3.3" fill="#7893d0" />
<rect x="159.4" y="72.75" width="1.4" height="3.3" fill="#7893d0" />
<rect x="184" y="72.75" width="1.8" height="3.3" fill="#7893d0" />
<rect x="192.9" y="72.75" width="0.9" height="3.3" fill="#7893d0" />
<rect x="156.8" y="76.75" width="1.3" height="3.3" fill="#7893d0" />
<rect x="171" y="76.75" width="0.9" height="3.3" fill="#7893d0" />
<rect x="193.8" y="76.75" width="1.3" height="3.3" fill="#7893d0" />
<rect x="160.3" y="80.75" width="1.4" height="3.3" fill="#7893d0" />
<rect x="165.7" y="80.75" width="1.3" height="3.3" fill="#7893d0" />
<rect x="171" y="80.75" width="1.8" height="3.3" fill="#7893d0" />
<rect x="175.9" y="80.75" width="0.9" height="3.3" fill="#7893d0" />
<rect x="195.1" y="80.75" width="1.3" height="3.3" fill="#7893d0" />
<rect x="185.8" y="80.75" width="0.9" height="3.3" fill="#7893d0" />
<rect x="158.6" y="84.75" width="1.3" height="3.3" fill="#7893d0" />
<rect x="170.5" y="84.75" width="1.8" height="3.3" fill="#7893d0" />
<rect x="196.4" y="84.75" width="1.4" height="3.3" fill="#7893d0" />
<rect x="185.8" y="84.75" width="1.3" height="3.3" fill="#7893d0" />
<rect x="193.3" y="84.75" width="0.9" height="3.3" fill="#7893d0" />
<rect x="160.3" y="88.75" width="1.8" height="3.3" fill="#7893d0" />
<rect x="165.7" y="88.75" width="1.3" height="3.3" fill="#7893d0" />
<rect x="175" y="88.75" width="1.3" height="3.3" fill="#7893d0" />
<rect x="197.3" y="88.75" width="1.8" height="3.3" fill="#7893d0" />
<rect x="188.9" y="88.75" width="0.9" height="3.3" fill="#7893d0" />
<rect x="193.3" y="88.75" width="0.9" height="3.3" fill="#7893d0" />
<rect x="156.8" y="92.75" width="2.6" height="3.3" fill="#7893d0" />
<rect x="163.9" y="92.75" width="0.9" height="3.3" fill="#7893d0" />
<rect x="177.6" y="92.75" width="1.4" height="3.3" fill="#7893d0" />
<rect x="192.9" y="92.75" width="8" height="3.3" fill="#7893d0" />
<rect x="160.3" y="96.75" width="1.8" height="3.3" fill="#7893d0" />
<rect x="175.9" y="96.75" width="1.3" height="3.3" fill="#7893d0" />
<rect x="195.1" y="96.75" width="0.9" height="3.3" fill="#7893d0" />
<rect x="200" y="96.75" width="0.9" height="3.3" fill="#7893d0" />
<rect x="208.5" y="52.75" width="1" height="3.3" fill="#7893d0" />
<rect x="211.8" y="56.75" width="6.9" height="3.3" fill="#7893d0" />
<rect x="208.5" y="60.75" width="0.8" height="3.3" fill="#7893d0" />
<rect x="209" y="64.75" width="0.8" height="3.3" fill="#7893d0" />
<rect x="213" y="68.75" width="1" height="3.3" fill="#7893d0" />
<rect x="209" y="72.75" width="1" height="3.3" fill="#7893d0" />
<rect x="214.5" y="76.75" width="0.8" height="3.3" fill="#7893d0" />
<rect x="209.5" y="84.75" width="0.8" height="3.3" fill="#7893d0" />
<rect x="217" y="92.75" width="1" height="3.3" fill="#7893d0" />
<rect x="216" y="100.75" width="1" height="3.3" fill="#7893d0" />
<rect x="129.12" y="100.75" width="0.6" height="3.3" fill="#8fa6da" />
<rect x="204.54" y="100.75" width="0.6" height="3.3" fill="#8fa6da" />
<rect x="101.11" y="100.75" width="0.6" height="3.3" fill="#8fa6da" />
<rect x="138.27" y="100.75" width="0.6" height="3.3" fill="#8fa6da" />
<rect x="70.08" y="100.75" width="0.6" height="3.3" fill="#8fa6da" />
<rect x="94.17" y="100.75" width="0.6" height="3.3" fill="#8fa6da" />
<rect x="62.83" y="100.75" width="0.6" height="3.3" fill="#8fa6da" />
<rect x="75.07" y="100.75" width="0.6" height="3.3" fill="#8fa6da" />
<rect x="61.44" y="104.75" width="0.6" height="3.3" fill="#8fa6da" />
<rect x="65.65" y="104.75" width="0.6" height="3.3" fill="#8fa6da" />
<rect x="191.57" y="104.75" width="0.6" height="3.3" fill="#8fa6da" />
<rect x="150.74" y="104.75" width="0.6" height="3.3" fill="#8fa6da" />
<rect x="175.07" y="104.75" width="0.6" height="3.3" fill="#8fa6da" />
<rect x="54.06" y="104.75" width="0.6" height="3.3" fill="#8fa6da" />
<rect x="99.07" y="104.75" width="0.6" height="3.3" fill="#8fa6da" />
<rect x="162.1" y="104.75" width="0.6" height="3.3" fill="#8fa6da" />
<rect x="55.74" y="108.75" width="0.6" height="3.3" fill="#8fa6da" />
<rect x="107.93" y="108.75" width="0.6" height="3.3" fill="#8fa6da" />
<rect x="57.87" y="108.75" width="0.6" height="3.3" fill="#8fa6da" />
<rect x="107.7" y="108.75" width="0.6" height="3.3" fill="#8fa6da" />
<rect x="200.28" y="108.75" width="0.6" height="3.3" fill="#8fa6da" />
<rect x="57.79" y="108.75" width="0.6" height="3.3" fill="#8fa6da" />
<rect x="135.63" y="108.75" width="0.6" height="3.3" fill="#8fa6da" />
<rect x="156.56" y="108.75" width="0.6" height="3.3" fill="#8fa6da" />
<rect x="188.86" y="112.75" width="0.6" height="3.3" fill="#8fa6da" />
<rect x="82.78" y="112.75" width="0.6" height="3.3" fill="#8fa6da" />
<rect x="199.53" y="112.75" width="0.6" height="3.3" fill="#8fa6da" />
<rect x="188.17" y="112.75" width="0.6" height="3.3" fill="#8fa6da" />
<rect x="67.98" y="112.75" width="0.6" height="3.3" fill="#8fa6da" />
<rect x="157.07" y="112.75" width="0.6" height="3.3" fill="#8fa6da" />
<rect x="184.73" y="112.75" width="0.6" height="3.3" fill="#8fa6da" />
<rect x="220.64" y="116.75" width="0.6" height="3.3" fill="#8fa6da" />
<rect x="120.92" y="116.75" width="0.6" height="3.3" fill="#8fa6da" />
<rect x="212.57" y="116.75" width="0.6" height="3.3" fill="#8fa6da" />
<rect x="201.23" y="116.75" width="0.6" height="3.3" fill="#8fa6da" />
<rect x="57.56" y="116.75" width="0.6" height="3.3" fill="#8fa6da" />
<rect x="106.91" y="116.75" width="0.6" height="3.3" fill="#8fa6da" />
<rect x="164.07" y="120.75" width="0.6" height="3.3" fill="#8fa6da" />
<rect x="106.33" y="120.75" width="0.6" height="3.3" fill="#8fa6da" />
<rect x="123.57" y="120.75" width="0.6" height="3.3" fill="#8fa6da" />
<rect x="173.57" y="120.75" width="0.6" height="3.3" fill="#8fa6da" />
<rect x="194.72" y="120.75" width="0.6" height="3.3" fill="#8fa6da" />
<rect x="79.76" y="120.75" width="0.6" height="3.3" fill="#8fa6da" />
<rect x="56.35" y="124.75" width="0.6" height="3.3" fill="#8fa6da" />
<rect x="88.88" y="124.75" width="0.6" height="3.3" fill="#8fa6da" />
<rect x="142.95" y="124.75" width="0.6" height="3.3" fill="#8fa6da" />
<rect x="195.68" y="124.75" width="0.6" height="3.3" fill="#8fa6da" />
<rect x="113.85" y="124.75" width="0.6" height="3.3" fill="#8fa6da" />
<rect x="114.51" y="124.75" width="0.6" height="3.3" fill="#8fa6da" />
<rect x="111.53" y="128.75" width="0.6" height="3.3" fill="#8fa6da" />
<rect x="168.49" y="128.75" width="0.6" height="3.3" fill="#8fa6da" />
<rect x="199.97" y="128.75" width="0.6" height="3.3" fill="#8fa6da" />
<rect x="79.2" y="128.75" width="0.6" height="3.3" fill="#8fa6da" />
<rect x="219.55" y="128.75" width="0.6" height="3.3" fill="#8fa6da" />
<rect x="150.66" y="132.75" width="0.6" height="3.3" fill="#8fa6da" />
<rect x="92.19" y="132.75" width="0.6" height="3.3" fill="#8fa6da" />
<rect x="158.07" y="132.75" width="0.6" height="3.3" fill="#8fa6da" />
<rect x="191.08" y="132.75" width="0.6" height="3.3" fill="#8fa6da" />
<rect x="134.15" y="132.75" width="0.6" height="3.3" fill="#8fa6da" />
<rect x="58.56" y="136.75" width="0.6" height="3.3" fill="#8fa6da" />
<rect x="162.92" y="136.75" width="0.6" height="3.3" fill="#8fa6da" />
<rect x="163.65" y="136.75" width="0.6" height="3.3" fill="#8fa6da" />
<rect x="146.34" y="136.75" width="0.6" height="3.3" fill="#8fa6da" />
<rect x="172.93" y="136.75" width="0.6" height="3.3" fill="#8fa6da" />
<rect x="148" y="140.75" width="0.6" height="3.3" fill="#8fa6da" />
<rect x="114.45" y="140.75" width="0.6" height="3.3" fill="#8fa6da" />
<rect x="142.97" y="140.75" width="0.6" height="3.3" fill="#8fa6da" />
<rect x="99.63" y="140.75" width="0.6" height="3.3" fill="#8fa6da" />
<rect x="96.07" y="140.75" width="0.6" height="3.3" fill="#8fa6da" />
<rect x="147.8" y="144.75" width="0.6" height="3.3" fill="#8fa6da" />
<rect x="70.11" y="144.75" width="0.6" height="3.3" fill="#8fa6da" />
<rect x="190.36" y="144.75" width="0.6" height="3.3" fill="#8fa6da" />
<rect x="218.78" y="148.75" width="0.6" height="3.3" fill="#8fa6da" />
<rect x="78.73" y="148.75" width="0.6" height="3.3" fill="#8fa6da" />
<rect x="159.8" y="148.75" width="0.6" height="3.3" fill="#8fa6da" />
<rect x="121.14" y="152.75" width="0.6" height="3.3" fill="#8fa6da" />
<rect x="219.15" y="152.75" width="0.6" height="3.3" fill="#8fa6da" />
<rect x="212.01" y="152.75" width="0.6" height="3.3" fill="#8fa6da" />
<rect x="159.07" y="84.75" width="0.6" height="3.3" fill="#8fa6da" />
<rect x="73.92" y="88.75" width="0.6" height="3.3" fill="#8fa6da" />
<rect x="145.28" y="80.75" width="0.6" height="3.3" fill="#8fa6da" />
<rect x="87.94" y="76.75" width="0.6" height="3.3" fill="#8fa6da" />
<line x1="110.75" y1="52.5" x2="110.75" y2="156.2" stroke="#9c9ca4" stroke-width="0.55" />
<line x1="110.75" y1="175.7" x2="110.75" y2="231.8" stroke="#9c9ca4" stroke-width="0.55" />
<line x1="155.55" y1="52.5" x2="155.55" y2="156.2" stroke="#9c9ca4" stroke-width="0.55" />
<line x1="155.55" y1="175.7" x2="155.55" y2="231.8" stroke="#9c9ca4" stroke-width="0.55" />
<line x1="208.25" y1="52.5" x2="208.25" y2="156.2" stroke="#9c9ca4" stroke-width="0.55" />
<line x1="208.25" y1="175.7" x2="208.25" y2="231.8" stroke="#9c9ca4" stroke-width="0.55" />
<rect x="223.9" y="52.8" width="3.5" height="3.2" fill="#6a8bd0" />
<rect x="223.9" y="56.8" width="3.4" height="3.2" fill="#6a8bd0" />
<rect x="223.9" y="60.8" width="3.2" height="3.2" fill="#6a8bd0" />
<rect x="223.9" y="64.8" width="3.1" height="3.2" fill="#6a8bd0" />
<rect x="223.9" y="68.8" width="2.9" height="3.2" fill="#6a8bd0" />
<rect x="223.9" y="72.8" width="2.7" height="3.2" fill="#6a8bd0" />
<rect x="223.9" y="76.8" width="2.5" height="3.2" fill="#6a8bd0" />
<rect x="223.9" y="80.8" width="2.3" height="3.2" fill="#6a8bd0" />
<rect x="223.9" y="84.8" width="2.1" height="3.2" fill="#6a8bd0" />
<rect x="223.9" y="88.8" width="1.8" height="3.2" fill="#6a8bd0" />
<rect x="223.9" y="92.8" width="1.6" height="3.2" fill="#6a8bd0" />
<rect x="223.9" y="96.8" width="1.4" height="3.2" fill="#6a8bd0" />
<rect x="223.9" y="100.8" width="1.2" height="3.2" fill="#6a8bd0" />
<rect x="223.9" y="104.8" width="1" height="3.2" fill="#6a8bd0" />
<rect x="223.9" y="108.8" width="0.9" height="3.2" fill="#6a8bd0" />
<rect x="223.9" y="112.8" width="0.8" height="3.2" fill="#6a8bd0" />
<rect x="223.9" y="116.8" width="0.75" height="3.2" fill="#6a8bd0" />
<rect x="223.9" y="120.8" width="0.7" height="3.2" fill="#6a8bd0" />
<rect x="223.9" y="124.8" width="0.65" height="3.2" fill="#6a8bd0" />
<rect x="223.9" y="128.8" width="0.6" height="3.2" fill="#6a8bd0" />
<rect x="223.9" y="132.8" width="0.55" height="3.2" fill="#6a8bd0" />
<rect x="223.9" y="136.8" width="0.5" height="3.2" fill="#6a8bd0" />
<rect x="223.9" y="140.8" width="0.5" height="3.2" fill="#6a8bd0" />
<rect x="223.9" y="144.8" width="0.45" height="3.2" fill="#6a8bd0" />
<rect x="223.9" y="148.8" width="0.45" height="3.2" fill="#6a8bd0" />
<rect x="223.9" y="152.8" width="0.4" height="3.2" fill="#6a8bd0" />
<path d="M223.3 158.4 V156.7 H240.9 V158.4" fill="none" stroke="#555" stroke-width="0.8"/>
<text x="223.4" y="165.4" font-size="6.2" text-anchor="middle" fill="#333" >0</text>
<text x="241.2" y="165.4" font-size="6.2" text-anchor="middle" fill="#333" >100</text>
<rect x="115.5" y="200.19" width="0.5" height="3.4" fill="#e4a01e" />
<rect x="115.5" y="204.21" width="0.5" height="3.4" fill="#e4a01e" />
<rect x="115.5" y="208.22" width="0.5" height="3.4" fill="#e4a01e" />
<rect x="115.5" y="212.24" width="0.5" height="3.4" fill="#e4a01e" />
<rect x="115.5" y="216.25" width="0.5" height="3.4" fill="#e4a01e" />
<rect x="116" y="200.19" width="0.5" height="3.4" fill="#e4a01e" />
<rect x="116" y="204.21" width="0.5" height="3.4" fill="#e4a01e" />
<rect x="116" y="208.22" width="0.5" height="3.4" fill="#e4a01e" />
<rect x="116" y="212.24" width="0.5" height="3.4" fill="#e4a01e" />
<rect x="116" y="216.25" width="0.5" height="3.4" fill="#e4a01e" />
<rect x="116.5" y="200.19" width="0.5" height="3.4" fill="#e4a01e" />
<rect x="116.5" y="204.21" width="0.5" height="3.4" fill="#e4a01e" />
<rect x="116.5" y="208.22" width="0.5" height="3.4" fill="#e4a01e" />
<rect x="116.5" y="212.24" width="0.5" height="3.4" fill="#e4a01e" />
<rect x="116.5" y="216.25" width="0.5" height="3.4" fill="#e4a01e" />
<rect x="117" y="200.19" width="0.5" height="3.4" fill="#e4a01e" />
<rect x="117" y="204.21" width="0.5" height="3.4" fill="#e4a01e" />
<rect x="117" y="208.22" width="0.5" height="3.4" fill="#e4a01e" />
<rect x="117" y="212.24" width="0.5" height="3.4" fill="#e4a01e" />
<rect x="117" y="216.25" width="0.5" height="3.4" fill="#e4a01e" />
<rect x="117.5" y="200.19" width="0.5" height="3.4" fill="#e4a01e" />
<rect x="117.5" y="204.21" width="0.5" height="3.4" fill="#e4a01e" />
<rect x="117.5" y="208.22" width="0.5" height="3.4" fill="#e4a01e" />
<rect x="117.5" y="212.24" width="0.5" height="3.4" fill="#e4a01e" />
<rect x="117.5" y="216.25" width="0.5" height="3.4" fill="#e4a01e" />
<rect x="118" y="200.19" width="0.5" height="3.4" fill="#e4a01e" />
<rect x="118" y="204.21" width="0.5" height="3.4" fill="#e4a01e" />
<rect x="118" y="208.22" width="0.5" height="3.4" fill="#e4a01e" />
<rect x="118" y="212.24" width="0.5" height="3.4" fill="#e4a01e" />
<rect x="118" y="216.25" width="0.5" height="3.4" fill="#e4a01e" />
<rect x="118.5" y="200.19" width="0.5" height="3.4" fill="#e4a01e" />
<rect x="118.5" y="204.21" width="0.5" height="3.4" fill="#e4a01e" />
<rect x="118.5" y="208.22" width="0.5" height="3.4" fill="#e4a01e" />
<rect x="118.5" y="212.24" width="0.5" height="3.4" fill="#e4a01e" />
<rect x="118.5" y="216.25" width="0.5" height="3.4" fill="#e4a01e" />
<rect x="119" y="200.19" width="0.5" height="3.4" fill="#e4a01e" />
<rect x="119" y="204.21" width="0.5" height="3.4" fill="#e4a01e" />
<rect x="119" y="208.22" width="0.5" height="3.4" fill="#e4a01e" />
<rect x="119" y="212.24" width="0.5" height="3.4" fill="#e4a01e" />
<rect x="119" y="216.25" width="0.5" height="3.4" fill="#e4a01e" />
<rect x="119.5" y="200.19" width="0.5" height="3.4" fill="#e4a01e" />
<rect x="119.5" y="204.21" width="0.5" height="3.4" fill="#e4a01e" />
<rect x="119.5" y="212.24" width="0.5" height="3.4" fill="#e4a01e" />
<rect x="119.5" y="216.25" width="0.5" height="3.4" fill="#e4a01e" />
<rect x="120" y="204.21" width="0.5" height="3.4" fill="#e4a01e" />
<rect x="120" y="212.24" width="0.5" height="3.4" fill="#e4a01e" />
<rect x="120" y="216.25" width="0.5" height="3.4" fill="#e4a01e" />
<rect x="120.5" y="200.19" width="0.5" height="3.4" fill="#e4a01e" />
<rect x="120.5" y="204.21" width="0.5" height="3.4" fill="#e4a01e" />
<rect x="120.5" y="208.22" width="0.5" height="3.4" fill="#e4a01e" />
<rect x="120.5" y="212.24" width="0.5" height="3.4" fill="#e4a01e" />
<rect x="120.5" y="216.25" width="0.5" height="3.4" fill="#e4a01e" />
<rect x="121" y="200.19" width="0.5" height="3.4" fill="#e4a01e" />
<rect x="121" y="208.22" width="0.5" height="3.4" fill="#e4a01e" />
<rect x="121" y="212.24" width="0.5" height="3.4" fill="#e4a01e" />
<rect x="121" y="216.25" width="0.5" height="3.4" fill="#e4a01e" />
<rect x="121.5" y="200.19" width="0.5" height="3.4" fill="#e4a01e" />
<rect x="121.5" y="204.21" width="0.5" height="3.4" fill="#e4a01e" />
<rect x="121.5" y="208.22" width="0.5" height="3.4" fill="#e4a01e" />
<rect x="121.5" y="212.24" width="0.5" height="3.4" fill="#e4a01e" />
<rect x="121.5" y="216.25" width="0.5" height="3.4" fill="#e4a01e" />
<rect x="122" y="200.19" width="0.5" height="3.4" fill="#e4a01e" />
<rect x="122" y="204.21" width="0.5" height="3.4" fill="#e4a01e" />
<rect x="122" y="212.24" width="0.5" height="3.4" fill="#e4a01e" />
<rect x="122" y="216.25" width="0.5" height="3.4" fill="#e4a01e" />
<rect x="122.5" y="200.19" width="0.5" height="3.4" fill="#e4a01e" />
<rect x="122.5" y="204.21" width="0.5" height="3.4" fill="#e4a01e" />
<rect x="122.5" y="208.22" width="0.5" height="3.4" fill="#e4a01e" />
<rect x="122.5" y="212.24" width="0.5" height="3.4" fill="#e4a01e" />
<rect x="122.5" y="216.25" width="0.5" height="3.4" fill="#e4a01e" />
<rect x="123" y="200.19" width="0.5" height="3.4" fill="#e4a01e" />
<rect x="123" y="204.21" width="0.5" height="3.4" fill="#e4a01e" />
<rect x="123" y="208.22" width="0.5" height="3.4" fill="#e4a01e" />
<rect x="123" y="212.24" width="0.5" height="3.4" fill="#e4a01e" />
<rect x="123" y="216.25" width="0.5" height="3.4" fill="#e4a01e" />
<rect x="123.5" y="200.19" width="0.5" height="3.4" fill="#e4a01e" />
<rect x="123.5" y="204.21" width="0.5" height="3.4" fill="#e4a01e" />
<rect x="123.5" y="208.22" width="0.5" height="3.4" fill="#e4a01e" />
<rect x="123.5" y="212.24" width="0.5" height="3.4" fill="#e4a01e" />
<rect x="123.5" y="216.25" width="0.5" height="3.4" fill="#e4a01e" />
<rect x="124" y="200.19" width="0.5" height="3.4" fill="#e4a01e" />
<rect x="124" y="204.21" width="0.5" height="3.4" fill="#e4a01e" />
<rect x="124" y="208.22" width="0.5" height="3.4" fill="#e4a01e" />
<rect x="124" y="212.24" width="0.5" height="3.4" fill="#e4a01e" />
<rect x="124" y="216.25" width="0.5" height="3.4" fill="#e4a01e" />
<rect x="124.5" y="200.19" width="0.5" height="3.4" fill="#e4a01e" />
<rect x="124.5" y="204.21" width="0.5" height="3.4" fill="#e4a01e" />
<rect x="124.5" y="208.22" width="0.5" height="3.4" fill="#e4a01e" />
<rect x="124.5" y="212.24" width="0.5" height="3.4" fill="#e4a01e" />
<rect x="124.5" y="216.25" width="0.5" height="3.4" fill="#e4a01e" />
<rect x="125" y="200.19" width="0.5" height="3.4" fill="#e4a01e" />
<rect x="125" y="204.21" width="0.5" height="3.4" fill="#e4a01e" />
<rect x="125" y="208.22" width="0.5" height="3.4" fill="#e4a01e" />
<rect x="125.5" y="200.19" width="0.5" height="3.4" fill="#e4a01e" />
<rect x="125.5" y="204.21" width="0.5" height="3.4" fill="#e4a01e" />
<rect x="125.5" y="208.22" width="0.5" height="3.4" fill="#e4a01e" />
<rect x="125.5" y="212.24" width="0.5" height="3.4" fill="#e4a01e" />
<rect x="125.5" y="216.25" width="0.5" height="3.4" fill="#e4a01e" />
<rect x="126" y="200.19" width="0.5" height="3.4" fill="#e4a01e" />
<rect x="126" y="208.22" width="0.5" height="3.4" fill="#e4a01e" />
<rect x="126" y="212.24" width="0.5" height="3.4" fill="#e4a01e" />
<rect x="126.5" y="200.19" width="0.5" height="3.4" fill="#e4a01e" />
<rect x="126.5" y="208.22" width="0.5" height="3.4" fill="#e4a01e" />
<rect x="126.5" y="216.25" width="0.5" height="3.4" fill="#e4a01e" />
<rect x="127" y="200.19" width="0.5" height="3.4" fill="#e4a01e" />
<rect x="127" y="204.21" width="0.5" height="3.4" fill="#e4a01e" />
<rect x="127" y="208.22" width="0.5" height="3.4" fill="#e4a01e" />
<rect x="127" y="212.24" width="0.5" height="3.4" fill="#e4a01e" />
<rect x="127.5" y="200.19" width="0.5" height="3.4" fill="#e4a01e" />
<rect x="127.5" y="204.21" width="0.5" height="3.4" fill="#e4a01e" />
<rect x="127.5" y="208.22" width="0.5" height="3.4" fill="#e4a01e" />
<rect x="127.5" y="216.25" width="0.5" height="3.4" fill="#e4a01e" />
<rect x="128" y="200.19" width="0.5" height="3.4" fill="#e4a01e" />
<rect x="128" y="204.21" width="0.5" height="3.4" fill="#e4a01e" />
<rect x="128" y="208.22" width="0.5" height="3.4" fill="#e4a01e" />
<rect x="128" y="212.24" width="0.5" height="3.4" fill="#e4a01e" />
<rect x="128" y="216.25" width="0.5" height="3.4" fill="#e4a01e" />
<rect x="128.5" y="200.19" width="0.5" height="3.4" fill="#e4a01e" />
<rect x="128.5" y="208.22" width="0.5" height="3.4" fill="#e4a01e" />
<rect x="128.5" y="212.24" width="0.5" height="3.4" fill="#e4a01e" />
<rect x="128.5" y="216.25" width="0.5" height="3.4" fill="#e4a01e" />
<rect x="129" y="200.19" width="0.5" height="3.4" fill="#e4a01e" />
<rect x="129" y="204.21" width="0.5" height="3.4" fill="#e4a01e" />
<rect x="129" y="208.22" width="0.5" height="3.4" fill="#e4a01e" />
<rect x="129" y="212.24" width="0.5" height="3.4" fill="#e4a01e" />
<rect x="129" y="216.25" width="0.5" height="3.4" fill="#e4a01e" />
<rect x="129.5" y="200.19" width="0.5" height="3.4" fill="#e4a01e" />
<rect x="129.5" y="204.21" width="0.5" height="3.4" fill="#e4a01e" />
<rect x="129.5" y="208.22" width="0.5" height="3.4" fill="#e4a01e" />
<rect x="129.5" y="212.24" width="0.5" height="3.4" fill="#e4a01e" />
<rect x="129.5" y="216.25" width="0.5" height="3.4" fill="#e4a01e" />
<rect x="130" y="204.21" width="0.5" height="3.4" fill="#e4a01e" />
<rect x="130" y="208.22" width="0.5" height="3.4" fill="#e4a01e" />
<rect x="130" y="216.25" width="0.5" height="3.4" fill="#e4a01e" />
<rect x="130.5" y="200.19" width="0.5" height="3.4" fill="#e4a01e" />
<rect x="130.5" y="204.21" width="0.5" height="3.4" fill="#e4a01e" />
<rect x="130.5" y="208.22" width="0.5" height="3.4" fill="#e4a01e" />
<rect x="130.5" y="212.24" width="0.5" height="3.4" fill="#e4a01e" />
<rect x="130.5" y="216.25" width="0.5" height="3.4" fill="#e4a01e" />
<rect x="131" y="200.19" width="0.5" height="3.4" fill="#e4a01e" />
<rect x="131" y="204.21" width="0.5" height="3.4" fill="#e4a01e" />
<rect x="131" y="208.22" width="0.5" height="3.4" fill="#e4a01e" />
<rect x="131" y="212.24" width="0.5" height="3.4" fill="#e4a01e" />
<rect x="131" y="216.25" width="0.5" height="3.4" fill="#e4a01e" />
<rect x="131.5" y="200.19" width="0.5" height="3.4" fill="#e4a01e" />
<rect x="131.5" y="204.21" width="0.5" height="3.4" fill="#e4a01e" />
<rect x="131.5" y="208.22" width="0.5" height="3.4" fill="#e4a01e" />
<rect x="131.5" y="212.24" width="0.5" height="3.4" fill="#e4a01e" />
<rect x="131.5" y="216.25" width="0.5" height="3.4" fill="#e4a01e" />
<rect x="132" y="200.19" width="0.5" height="3.4" fill="#e4a01e" />
<rect x="132" y="204.21" width="0.5" height="3.4" fill="#e4a01e" />
<rect x="132" y="208.22" width="0.5" height="3.4" fill="#e4a01e" />
<rect x="132" y="212.24" width="0.5" height="3.4" fill="#e4a01e" />
<rect x="132" y="216.25" width="0.5" height="3.4" fill="#e4a01e" />
<rect x="132.5" y="200.19" width="0.5" height="3.4" fill="#e4a01e" />
<rect x="132.5" y="204.21" width="0.5" height="3.4" fill="#e4a01e" />
<rect x="132.5" y="208.22" width="0.5" height="3.4" fill="#e4a01e" />
<rect x="132.5" y="216.25" width="0.5" height="3.4" fill="#e4a01e" />
<rect x="164.5" y="200.19" width="0.5" height="3.4" fill="#e4a01e" />
<rect x="164.5" y="204.21" width="0.5" height="3.4" fill="#e4a01e" />
<rect x="164.5" y="208.22" width="0.5" height="3.4" fill="#e4a01e" />
<rect x="164.5" y="212.24" width="0.5" height="3.4" fill="#e4a01e" />
<rect x="164.5" y="216.25" width="0.5" height="3.4" fill="#e4a01e" />
<rect x="165" y="200.19" width="0.5" height="3.4" fill="#e4a01e" />
<rect x="165" y="204.21" width="0.5" height="3.4" fill="#e4a01e" />
<rect x="165" y="208.22" width="0.5" height="3.4" fill="#e4a01e" />
<rect x="165" y="212.24" width="0.5" height="3.4" fill="#e4a01e" />
<rect x="165" y="216.25" width="0.5" height="3.4" fill="#e4a01e" />
<rect x="165.5" y="200.19" width="0.5" height="3.4" fill="#e4a01e" />
<rect x="165.5" y="204.21" width="0.5" height="3.4" fill="#e4a01e" />
<rect x="165.5" y="208.22" width="0.5" height="3.4" fill="#e4a01e" />
<rect x="165.5" y="216.25" width="0.5" height="3.4" fill="#e4a01e" />
<rect x="166" y="200.19" width="0.5" height="3.4" fill="#e4a01e" />
<rect x="166" y="204.21" width="0.5" height="3.4" fill="#e4a01e" />
<rect x="166" y="208.22" width="0.5" height="3.4" fill="#e4a01e" />
<rect x="166" y="212.24" width="0.5" height="3.4" fill="#e4a01e" />
<rect x="166" y="216.25" width="0.5" height="3.4" fill="#e4a01e" />
<rect x="166.5" y="200.19" width="0.5" height="3.4" fill="#e4a01e" />
<rect x="166.5" y="204.21" width="0.5" height="3.4" fill="#e4a01e" />
<rect x="166.5" y="208.22" width="0.5" height="3.4" fill="#e4a01e" />
<rect x="166.5" y="212.24" width="0.5" height="3.4" fill="#e4a01e" />
<rect x="167" y="200.19" width="0.5" height="3.4" fill="#e4a01e" />
<rect x="167" y="204.21" width="0.5" height="3.4" fill="#e4a01e" />
<rect x="167" y="208.22" width="0.5" height="3.4" fill="#e4a01e" />
<rect x="167" y="212.24" width="0.5" height="3.4" fill="#e4a01e" />
<rect x="167" y="216.25" width="0.5" height="3.4" fill="#e4a01e" />
<rect x="167.5" y="200.19" width="0.5" height="3.4" fill="#e4a01e" />
<rect x="167.5" y="204.21" width="0.5" height="3.4" fill="#e4a01e" />
<rect x="167.5" y="208.22" width="0.5" height="3.4" fill="#e4a01e" />
<rect x="167.5" y="212.24" width="0.5" height="3.4" fill="#e4a01e" />
<rect x="167.5" y="216.25" width="0.5" height="3.4" fill="#e4a01e" />
<rect x="168" y="200.19" width="0.5" height="3.4" fill="#e4a01e" />
<rect x="168" y="204.21" width="0.5" height="3.4" fill="#e4a01e" />
<rect x="168" y="208.22" width="0.5" height="3.4" fill="#e4a01e" />
<rect x="168" y="212.24" width="0.5" height="3.4" fill="#e4a01e" />
<rect x="168" y="216.25" width="0.5" height="3.4" fill="#e4a01e" />
<rect x="168.5" y="200.19" width="0.5" height="3.4" fill="#e4a01e" />
<rect x="168.5" y="204.21" width="0.5" height="3.4" fill="#e4a01e" />
<rect x="168.5" y="208.22" width="0.5" height="3.4" fill="#e4a01e" />
<rect x="168.5" y="212.24" width="0.5" height="3.4" fill="#e4a01e" />
<rect x="168.5" y="216.25" width="0.5" height="3.4" fill="#e4a01e" />
<rect x="169" y="200.19" width="0.5" height="3.4" fill="#e4a01e" />
<rect x="169" y="204.21" width="0.5" height="3.4" fill="#e4a01e" />
<rect x="169" y="208.22" width="0.5" height="3.4" fill="#e4a01e" />
<rect x="169" y="212.24" width="0.5" height="3.4" fill="#e4a01e" />
<rect x="169" y="216.25" width="0.5" height="3.4" fill="#e4a01e" />
<rect x="169.5" y="200.19" width="0.5" height="3.4" fill="#e4a01e" />
<rect x="169.5" y="204.21" width="0.5" height="3.4" fill="#e4a01e" />
<rect x="169.5" y="208.22" width="0.5" height="3.4" fill="#e4a01e" />
<rect x="169.5" y="212.24" width="0.5" height="3.4" fill="#e4a01e" />
<rect x="169.5" y="216.25" width="0.5" height="3.4" fill="#e4a01e" />
<rect x="170" y="200.19" width="0.5" height="3.4" fill="#e4a01e" />
<rect x="170" y="204.21" width="0.5" height="3.4" fill="#e4a01e" />
<rect x="170" y="208.22" width="0.5" height="3.4" fill="#e4a01e" />
<rect x="170" y="212.24" width="0.5" height="3.4" fill="#e4a01e" />
<rect x="170" y="216.25" width="0.5" height="3.4" fill="#e4a01e" />
<rect x="170.5" y="200.19" width="0.5" height="3.4" fill="#e4a01e" />
<rect x="170.5" y="204.21" width="0.5" height="3.4" fill="#e4a01e" />
<rect x="170.5" y="208.22" width="0.5" height="3.4" fill="#e4a01e" />
<rect x="170.5" y="212.24" width="0.5" height="3.4" fill="#e4a01e" />
<rect x="170.5" y="216.25" width="0.5" height="3.4" fill="#e4a01e" />
<rect x="171" y="200.19" width="0.5" height="3.4" fill="#e4a01e" />
<rect x="171" y="204.21" width="0.5" height="3.4" fill="#e4a01e" />
<rect x="171" y="208.22" width="0.5" height="3.4" fill="#e4a01e" />
<rect x="171" y="212.24" width="0.5" height="3.4" fill="#e4a01e" />
<rect x="171" y="216.25" width="0.5" height="3.4" fill="#e4a01e" />
<rect x="208.7" y="204.21" width="0.5" height="3.4" fill="#e4a01e" />
<rect x="208.7" y="208.22" width="0.5" height="3.4" fill="#e4a01e" />
<rect x="208.7" y="216.25" width="0.5" height="3.4" fill="#e4a01e" />
<rect x="209.2" y="200.19" width="0.5" height="3.4" fill="#e4a01e" />
<rect x="209.2" y="204.21" width="0.5" height="3.4" fill="#e4a01e" />
<rect x="209.2" y="208.22" width="0.5" height="3.4" fill="#e4a01e" />
<rect x="209.2" y="216.25" width="0.5" height="3.4" fill="#e4a01e" />
<rect x="209.7" y="200.19" width="0.5" height="3.4" fill="#e4a01e" />
<rect x="209.7" y="204.21" width="0.5" height="3.4" fill="#e4a01e" />
<rect x="209.7" y="208.22" width="0.5" height="3.4" fill="#e4a01e" />
<rect x="209.7" y="212.24" width="0.5" height="3.4" fill="#e4a01e" />
<rect x="209.7" y="216.25" width="0.5" height="3.4" fill="#e4a01e" />
<rect x="210.2" y="200.19" width="0.5" height="3.4" fill="#e4a01e" />
<rect x="210.2" y="208.22" width="0.5" height="3.4" fill="#e4a01e" />
<rect x="210.2" y="212.24" width="0.5" height="3.4" fill="#e4a01e" />
<rect x="210.2" y="216.25" width="0.5" height="3.4" fill="#e4a01e" />
<rect x="210.7" y="200.19" width="0.5" height="3.4" fill="#e4a01e" />
<rect x="210.7" y="204.21" width="0.5" height="3.4" fill="#e4a01e" />
<rect x="210.7" y="208.22" width="0.5" height="3.4" fill="#e4a01e" />
<rect x="210.7" y="212.24" width="0.5" height="3.4" fill="#e4a01e" />
<rect x="210.7" y="216.25" width="0.5" height="3.4" fill="#e4a01e" />
<rect x="211.2" y="200.19" width="0.5" height="3.4" fill="#e4a01e" />
<rect x="211.2" y="208.22" width="0.5" height="3.4" fill="#e4a01e" />
<rect x="211.2" y="212.24" width="0.5" height="3.4" fill="#e4a01e" />
<rect x="211.2" y="216.25" width="0.5" height="3.4" fill="#e4a01e" />
<rect x="211.7" y="200.19" width="0.5" height="3.4" fill="#e4a01e" />
<rect x="211.7" y="208.22" width="0.5" height="3.4" fill="#e4a01e" />
<rect x="211.7" y="212.24" width="0.5" height="3.4" fill="#e4a01e" />
<rect x="212.2" y="200.19" width="0.5" height="3.4" fill="#e4a01e" />
<rect x="212.2" y="204.21" width="0.5" height="3.4" fill="#e4a01e" />
<rect x="212.2" y="208.22" width="0.5" height="3.4" fill="#e4a01e" />
<rect x="212.2" y="212.24" width="0.5" height="3.4" fill="#e4a01e" />
<rect x="212.2" y="216.25" width="0.5" height="3.4" fill="#e4a01e" />
<rect x="212.7" y="200.19" width="0.5" height="3.4" fill="#e4a01e" />
<rect x="212.7" y="204.21" width="0.5" height="3.4" fill="#e4a01e" />
<rect x="212.7" y="208.22" width="0.5" height="3.4" fill="#e4a01e" />
<rect x="212.7" y="212.24" width="0.5" height="3.4" fill="#e4a01e" />
<rect x="213.2" y="200.19" width="0.5" height="3.4" fill="#e4a01e" />
<rect x="213.2" y="204.21" width="0.5" height="3.4" fill="#e4a01e" />
<rect x="213.2" y="208.22" width="0.5" height="3.4" fill="#e4a01e" />
<rect x="213.2" y="212.24" width="0.5" height="3.4" fill="#e4a01e" />
<rect x="213.2" y="216.25" width="0.5" height="3.4" fill="#e4a01e" />
<rect x="213.7" y="200.19" width="0.5" height="3.4" fill="#e4a01e" />
<rect x="213.7" y="204.21" width="0.5" height="3.4" fill="#e4a01e" />
<rect x="213.7" y="208.22" width="0.5" height="3.4" fill="#e4a01e" />
<rect x="213.7" y="212.24" width="0.5" height="3.4" fill="#e4a01e" />
<rect x="213.7" y="216.25" width="0.5" height="3.4" fill="#e4a01e" />
<rect x="214.2" y="200.19" width="0.5" height="3.4" fill="#e4a01e" />
<rect x="214.2" y="204.21" width="0.5" height="3.4" fill="#e4a01e" />
<rect x="214.2" y="208.22" width="0.5" height="3.4" fill="#e4a01e" />
<rect x="214.2" y="212.24" width="0.5" height="3.4" fill="#e4a01e" />
<rect x="214.2" y="216.25" width="0.5" height="3.4" fill="#e4a01e" />
<rect x="214.7" y="200.19" width="0.5" height="3.4" fill="#e4a01e" />
<rect x="214.7" y="204.21" width="0.5" height="3.4" fill="#e4a01e" />
<rect x="214.7" y="208.22" width="0.5" height="3.4" fill="#e4a01e" />
<rect x="214.7" y="212.24" width="0.5" height="3.4" fill="#e4a01e" />
<rect x="214.7" y="216.25" width="0.5" height="3.4" fill="#e4a01e" />
<rect x="215.2" y="200.19" width="0.5" height="3.4" fill="#e4a01e" />
<rect x="215.2" y="204.21" width="0.5" height="3.4" fill="#e4a01e" />
<rect x="215.2" y="208.22" width="0.5" height="3.4" fill="#e4a01e" />
<rect x="215.2" y="212.24" width="0.5" height="3.4" fill="#e4a01e" />
<rect x="215.2" y="216.25" width="0.5" height="3.4" fill="#e4a01e" />
<rect x="215.7" y="204.21" width="0.5" height="3.4" fill="#e4a01e" />
<rect x="215.7" y="208.22" width="0.5" height="3.4" fill="#e4a01e" />
<rect x="215.7" y="212.24" width="0.5" height="3.4" fill="#e4a01e" />
<rect x="215.7" y="216.25" width="0.5" height="3.4" fill="#e4a01e" />
<rect x="216.2" y="200.19" width="0.5" height="3.4" fill="#e4a01e" />
<rect x="216.2" y="204.21" width="0.5" height="3.4" fill="#e4a01e" />
<rect x="216.2" y="208.22" width="0.5" height="3.4" fill="#e4a01e" />
<rect x="216.2" y="212.24" width="0.5" height="3.4" fill="#e4a01e" />
<rect x="216.2" y="216.25" width="0.5" height="3.4" fill="#e4a01e" />
<rect x="216.7" y="200.19" width="0.5" height="3.4" fill="#e4a01e" />
<rect x="216.7" y="204.21" width="0.5" height="3.4" fill="#e4a01e" />
<rect x="216.7" y="208.22" width="0.5" height="3.4" fill="#e4a01e" />
<rect x="216.7" y="212.24" width="0.5" height="3.4" fill="#e4a01e" />
<rect x="216.7" y="216.25" width="0.5" height="3.4" fill="#e4a01e" />
<rect x="217.2" y="200.19" width="0.5" height="3.4" fill="#e4a01e" />
<rect x="217.2" y="204.21" width="0.5" height="3.4" fill="#e4a01e" />
<rect x="217.2" y="208.22" width="0.5" height="3.4" fill="#e4a01e" />
<rect x="217.2" y="212.24" width="0.5" height="3.4" fill="#e4a01e" />
<rect x="217.2" y="216.25" width="0.5" height="3.4" fill="#e4a01e" />
<rect x="217.7" y="204.21" width="0.5" height="3.4" fill="#e4a01e" />
<rect x="217.7" y="208.22" width="0.5" height="3.4" fill="#e4a01e" />
<rect x="217.7" y="212.24" width="0.5" height="3.4" fill="#e4a01e" />
<rect x="218.2" y="200.19" width="0.5" height="3.4" fill="#e4a01e" />
<rect x="218.2" y="204.21" width="0.5" height="3.4" fill="#e4a01e" />
<rect x="218.2" y="208.22" width="0.5" height="3.4" fill="#e4a01e" />
<rect x="218.2" y="212.24" width="0.5" height="3.4" fill="#e4a01e" />
<rect x="218.2" y="216.25" width="0.5" height="3.4" fill="#e4a01e" />
<rect x="172" y="200.19" width="0.5" height="3.4" fill="#e4a01e" />
<rect x="172" y="204.21" width="0.5" height="3.4" fill="#e4a01e" />
<rect x="172" y="216.25" width="0.5" height="3.4" fill="#e4a01e" />
<rect x="174" y="208.22" width="0.5" height="3.4" fill="#e4a01e" />
<rect x="175.5" y="208.22" width="0.5" height="3.4" fill="#e4a01e" />
<rect x="175.5" y="212.24" width="0.5" height="3.4" fill="#e4a01e" />
<rect x="179" y="208.22" width="0.5" height="3.4" fill="#e4a01e" />
<rect x="179.5" y="212.24" width="0.5" height="3.4" fill="#e4a01e" />
<rect x="180" y="200.19" width="0.5" height="3.4" fill="#e4a01e" />
<rect x="181.5" y="208.22" width="0.5" height="3.4" fill="#e4a01e" />
<rect x="181.5" y="212.24" width="0.5" height="3.4" fill="#e4a01e" />
<rect x="182.5" y="208.22" width="0.5" height="3.4" fill="#e4a01e" />
<rect x="183" y="212.24" width="0.5" height="3.4" fill="#e4a01e" />
<rect x="183.5" y="204.21" width="0.5" height="3.4" fill="#e4a01e" />
<rect x="183.5" y="208.22" width="0.5" height="3.4" fill="#e4a01e" />
<rect x="184" y="212.24" width="0.5" height="3.4" fill="#e4a01e" />
<rect x="184.5" y="212.24" width="0.5" height="3.4" fill="#e4a01e" />
<rect x="184.5" y="216.25" width="0.5" height="3.4" fill="#e4a01e" />
<rect x="185" y="216.25" width="0.5" height="3.4" fill="#e4a01e" />
<rect x="186" y="208.22" width="0.5" height="3.4" fill="#e4a01e" />
<rect x="187" y="208.22" width="0.5" height="3.4" fill="#e4a01e" />
<rect x="187" y="212.24" width="0.5" height="3.4" fill="#e4a01e" />
<rect x="187" y="216.25" width="0.5" height="3.4" fill="#e4a01e" />
<rect x="187.5" y="216.25" width="0.5" height="3.4" fill="#e4a01e" />
<rect x="188.5" y="200.19" width="0.5" height="3.4" fill="#e4a01e" />
<rect x="189.5" y="200.19" width="0.5" height="3.4" fill="#e4a01e" />
<rect x="189.5" y="208.22" width="0.5" height="3.4" fill="#e4a01e" />
<rect x="190" y="208.22" width="0.5" height="3.4" fill="#e4a01e" />
<rect x="190.5" y="216.25" width="0.5" height="3.4" fill="#e4a01e" />
<rect x="192" y="200.19" width="0.5" height="3.4" fill="#e4a01e" />
<rect x="192" y="204.21" width="0.5" height="3.4" fill="#e4a01e" />
<rect x="192" y="212.24" width="0.5" height="3.4" fill="#e4a01e" />
<rect x="192.5" y="204.21" width="0.5" height="3.4" fill="#e4a01e" />
<rect x="192.5" y="212.24" width="0.5" height="3.4" fill="#e4a01e" />
<rect x="193" y="200.19" width="0.5" height="3.4" fill="#e4a01e" />
<rect x="194" y="212.24" width="0.5" height="3.4" fill="#e4a01e" />
<rect x="195.5" y="204.21" width="0.5" height="3.4" fill="#e4a01e" />
<rect x="196.5" y="212.24" width="0.5" height="3.4" fill="#e4a01e" />
<rect x="199" y="208.22" width="0.5" height="3.4" fill="#e4a01e" />
<rect x="199.5" y="200.19" width="0.5" height="3.4" fill="#e4a01e" />
<rect x="202" y="212.24" width="0.5" height="3.4" fill="#e4a01e" />
<rect x="202.5" y="200.19" width="0.5" height="3.4" fill="#e4a01e" />
<rect x="204.5" y="212.24" width="0.5" height="3.4" fill="#e4a01e" />
<rect x="205" y="208.22" width="0.5" height="3.4" fill="#e4a01e" />
<rect x="205.5" y="200.19" width="0.5" height="3.4" fill="#e4a01e" />
<rect x="133" y="216.25" width="0.5" height="3.4" fill="#e4a01e" />
<rect x="134.5" y="208.22" width="0.5" height="3.4" fill="#e4a01e" />
<rect x="135" y="200.19" width="0.5" height="3.4" fill="#e4a01e" />
<rect x="136" y="200.19" width="0.5" height="3.4" fill="#e4a01e" />
<rect x="136.5" y="200.19" width="0.5" height="3.4" fill="#e4a01e" />
<rect x="138.5" y="204.21" width="0.5" height="3.4" fill="#e4a01e" />
<rect x="139" y="212.24" width="0.5" height="3.4" fill="#e4a01e" />
<rect x="139.5" y="216.25" width="0.5" height="3.4" fill="#e4a01e" />
<rect x="140.5" y="208.22" width="0.5" height="3.4" fill="#e4a01e" />
<rect x="141.5" y="204.21" width="0.5" height="3.4" fill="#e4a01e" />
<rect x="142.5" y="204.21" width="0.5" height="3.4" fill="#e4a01e" />
<rect x="144" y="216.25" width="0.5" height="3.4" fill="#e4a01e" />
<rect x="144.5" y="200.19" width="0.5" height="3.4" fill="#e4a01e" />
<rect x="146" y="200.19" width="0.5" height="3.4" fill="#e4a01e" />
<rect x="147.5" y="216.25" width="0.5" height="3.4" fill="#e4a01e" />
<rect x="148" y="200.19" width="0.5" height="3.4" fill="#e4a01e" />
<rect x="149" y="208.22" width="0.5" height="3.4" fill="#e4a01e" />
<rect x="100" y="176.1" width="0.5" height="3.4" fill="#e4a01e" />
<rect x="101.5" y="176.1" width="0.5" height="3.4" fill="#e4a01e" />
<rect x="103.5" y="176.1" width="0.5" height="3.4" fill="#e4a01e" />
<rect x="104" y="176.1" width="0.5" height="3.4" fill="#e4a01e" />
<rect x="105" y="176.1" width="0.5" height="3.4" fill="#e4a01e" />
<rect x="89.8" y="180.12" width="0.5" height="3.4" fill="#e4a01e" />
<rect x="90.8" y="180.12" width="0.5" height="3.4" fill="#e4a01e" />
<rect x="91.3" y="180.12" width="0.5" height="3.4" fill="#e4a01e" />
<rect x="91.8" y="180.12" width="0.5" height="3.4" fill="#e4a01e" />
<rect x="92.3" y="180.12" width="0.5" height="3.4" fill="#e4a01e" />
<rect x="101" y="180.12" width="0.5" height="3.4" fill="#e4a01e" />
<rect x="102.5" y="180.12" width="0.5" height="3.4" fill="#e4a01e" />
<rect x="91.5" y="184.13" width="0.5" height="3.4" fill="#e4a01e" />
<rect x="93" y="184.13" width="0.5" height="3.4" fill="#e4a01e" />
<rect x="94.5" y="184.13" width="0.5" height="3.4" fill="#e4a01e" />
<rect x="96.5" y="184.13" width="0.5" height="3.4" fill="#e4a01e" />
<rect x="107.5" y="184.13" width="0.5" height="3.4" fill="#e4a01e" />
<rect x="108" y="184.13" width="0.5" height="3.4" fill="#e4a01e" />
<rect x="109" y="184.13" width="0.5" height="3.4" fill="#e4a01e" />
<rect x="107.5" y="176.1" width="0.5" height="3.4" fill="#e4a01e" />
<rect x="66.5" y="188.15" width="0.5" height="3.4" fill="#e4a01e" />
<rect x="72.5" y="188.15" width="0.5" height="3.4" fill="#e4a01e" />
<rect x="80" y="188.15" width="0.5" height="3.4" fill="#e4a01e" />
<rect x="92.9" y="192.16" width="0.5" height="3.4" fill="#e4a01e" />
<rect x="138" y="176.1" width="0.5" height="3.4" fill="#e4a01e" />
<rect x="138.5" y="176.1" width="0.5" height="3.4" fill="#e4a01e" />
<rect x="145.5" y="192.16" width="0.5" height="3.4" fill="#e4a01e" />
<rect x="146" y="192.16" width="0.5" height="3.4" fill="#e4a01e" />
<rect x="146.5" y="192.16" width="0.5" height="3.4" fill="#e4a01e" />
<rect x="151" y="196.18" width="0.5" height="3.4" fill="#e4a01e" />
<rect x="151.5" y="196.18" width="0.5" height="3.4" fill="#e4a01e" />
<rect x="153" y="196.18" width="0.5" height="3.4" fill="#e4a01e" />
<rect x="120" y="180.12" width="0.5" height="3.4" fill="#e4a01e" />
<rect x="125" y="184.13" width="0.5" height="3.4" fill="#e4a01e" />
<rect x="173.56" y="176.1" width="0.5" height="3.4" fill="#e4a01e" />
<rect x="172.56" y="180.12" width="0.5" height="3.4" fill="#e4a01e" />
<rect x="202.66" y="184.13" width="0.5" height="3.4" fill="#e4a01e" />
<rect x="206.77" y="184.13" width="0.5" height="3.4" fill="#e4a01e" />
<rect x="148.98" y="188.15" width="0.5" height="3.4" fill="#e4a01e" />
<rect x="183.47" y="188.15" width="0.5" height="3.4" fill="#e4a01e" />
<rect x="169.06" y="188.15" width="0.5" height="3.4" fill="#e4a01e" />
<rect x="75.68" y="192.16" width="0.5" height="3.4" fill="#e4a01e" />
<rect x="127.1" y="192.16" width="0.5" height="3.4" fill="#e4a01e" />
<rect x="140.44" y="192.16" width="0.5" height="3.4" fill="#e4a01e" />
<rect x="204.75" y="192.16" width="0.5" height="3.4" fill="#e4a01e" />
<rect x="166.04" y="196.18" width="0.5" height="3.4" fill="#e4a01e" />
<rect x="69.29" y="220.27" width="0.5" height="3.4" fill="#e4a01e" />
<rect x="100.31" y="220.27" width="0.5" height="3.4" fill="#e4a01e" />
<rect x="83.2" y="220.27" width="0.5" height="3.4" fill="#e4a01e" />
<rect x="97.96" y="220.27" width="0.5" height="3.4" fill="#e4a01e" />
<rect x="95.15" y="220.27" width="0.5" height="3.4" fill="#e4a01e" />
<rect x="62.5" y="220.27" width="0.5" height="3.4" fill="#e4a01e" />
<rect x="105.01" y="220.27" width="0.5" height="3.4" fill="#e4a01e" />
<rect x="78.44" y="220.27" width="0.5" height="3.4" fill="#e4a01e" />
<rect x="61.19" y="220.27" width="0.5" height="3.4" fill="#e4a01e" />
<rect x="116.4" y="220.27" width="0.5" height="3.4" fill="#e4a01e" />
<rect x="143.6" y="220.27" width="0.5" height="3.4" fill="#e4a01e" />
<rect x="134.93" y="220.27" width="0.5" height="3.4" fill="#e4a01e" />
<rect x="157.44" y="220.27" width="0.5" height="3.4" fill="#e4a01e" />
<rect x="198.29" y="220.27" width="0.5" height="3.4" fill="#e4a01e" />
<rect x="206.61" y="220.27" width="0.5" height="3.4" fill="#e4a01e" />
<rect x="160.47" y="220.27" width="0.5" height="3.4" fill="#e4a01e" />
<rect x="196.58" y="220.27" width="0.5" height="3.4" fill="#e4a01e" />
<rect x="166.61" y="220.27" width="0.5" height="3.4" fill="#e4a01e" />
<rect x="185.79" y="220.27" width="0.5" height="3.4" fill="#e4a01e" />
<rect x="203.52" y="220.27" width="0.5" height="3.4" fill="#e4a01e" />
<rect x="220.92" y="220.27" width="0.5" height="3.4" fill="#e4a01e" />
<rect x="72.76" y="224.28" width="0.5" height="3.4" fill="#e4a01e" />
<rect x="85.54" y="224.28" width="0.5" height="3.4" fill="#e4a01e" />
<rect x="79.89" y="224.28" width="0.5" height="3.4" fill="#e4a01e" />
<rect x="97.64" y="224.28" width="0.5" height="3.4" fill="#e4a01e" />
<rect x="105.45" y="224.28" width="0.5" height="3.4" fill="#e4a01e" />
<rect x="53.62" y="224.28" width="0.5" height="3.4" fill="#e4a01e" />
<rect x="120.52" y="224.28" width="0.5" height="3.4" fill="#e4a01e" />
<rect x="127.14" y="224.28" width="0.5" height="3.4" fill="#e4a01e" />
<rect x="150.33" y="224.28" width="0.5" height="3.4" fill="#e4a01e" />
<rect x="115.82" y="224.28" width="0.5" height="3.4" fill="#e4a01e" />
<rect x="201.64" y="224.28" width="0.5" height="3.4" fill="#e4a01e" />
<rect x="205.13" y="224.28" width="0.5" height="3.4" fill="#e4a01e" />
<rect x="178.88" y="224.28" width="0.5" height="3.4" fill="#e4a01e" />
<rect x="185.75" y="224.28" width="0.5" height="3.4" fill="#e4a01e" />
<rect x="203.86" y="224.28" width="0.5" height="3.4" fill="#e4a01e" />
<rect x="191.64" y="224.28" width="0.5" height="3.4" fill="#e4a01e" />
<rect x="203.53" y="224.28" width="0.5" height="3.4" fill="#e4a01e" />
<rect x="219.5" y="224.28" width="0.5" height="3.4" fill="#e4a01e" />
<rect x="86.16" y="228.3" width="0.5" height="3.4" fill="#e4a01e" />
<rect x="94.77" y="228.3" width="0.5" height="3.4" fill="#e4a01e" />
<rect x="103.01" y="228.3" width="0.5" height="3.4" fill="#e4a01e" />
<rect x="62.97" y="228.3" width="0.5" height="3.4" fill="#e4a01e" />
<rect x="90.88" y="228.3" width="0.5" height="3.4" fill="#e4a01e" />
<rect x="103.02" y="228.3" width="0.5" height="3.4" fill="#e4a01e" />
<rect x="110.42" y="228.3" width="0.5" height="3.4" fill="#e4a01e" />
<rect x="94.63" y="228.3" width="0.5" height="3.4" fill="#e4a01e" />
<rect x="80.34" y="228.3" width="0.5" height="3.4" fill="#e4a01e" />
<rect x="150.34" y="228.3" width="0.5" height="3.4" fill="#e4a01e" />
<rect x="138.22" y="228.3" width="0.5" height="3.4" fill="#e4a01e" />
<rect x="116.72" y="228.3" width="0.5" height="3.4" fill="#e4a01e" />
<rect x="181.89" y="228.3" width="0.5" height="3.4" fill="#e4a01e" />
<rect x="175.85" y="228.3" width="0.5" height="3.4" fill="#e4a01e" />
<rect x="192.39" y="228.3" width="0.5" height="3.4" fill="#e4a01e" />
<rect x="197.6" y="228.3" width="0.5" height="3.4" fill="#e4a01e" />
<rect x="202.24" y="228.3" width="0.5" height="3.4" fill="#e4a01e" />
<rect x="156.25" y="228.3" width="0.5" height="3.4" fill="#e4a01e" />
<rect x="185.44" y="228.3" width="0.5" height="3.4" fill="#e4a01e" />
<rect x="219.25" y="228.3" width="0.5" height="3.4" fill="#e4a01e" />
<rect x="223.9" y="176.2" width="0.2" height="3.2" fill="#e6a92c" />
<rect x="223.9" y="180.22" width="0.4" height="3.2" fill="#e6a92c" />
<rect x="223.9" y="184.23" width="0.4" height="3.2" fill="#e6a92c" />
<rect x="223.9" y="188.25" width="0.3" height="3.2" fill="#e6a92c" />
<rect x="223.9" y="192.26" width="0.3" height="3.2" fill="#e6a92c" />
<rect x="223.9" y="196.28" width="0.2" height="3.2" fill="#e6a92c" />
<rect x="223.9" y="200.29" width="4.6" height="3.2" fill="#e6a92c" />
<rect x="223.9" y="204.31" width="4" height="3.2" fill="#e6a92c" />
<rect x="223.9" y="208.32" width="3.2" height="3.2" fill="#e6a92c" />
<rect x="223.9" y="212.34" width="3" height="3.2" fill="#e6a92c" />
<rect x="223.9" y="216.35" width="1.6" height="3.2" fill="#e6a92c" />
<rect x="223.9" y="220.37" width="0.8" height="3.2" fill="#e6a92c" />
<rect x="223.9" y="224.38" width="0.6" height="3.2" fill="#e6a92c" />
<rect x="223.9" y="228.4" width="0.6" height="3.2" fill="#e6a92c" />
<path d="M223.3 234.4 V232.4 H240.9 V234.4" fill="none" stroke="#555" stroke-width="0.8"/>
<text x="223.4" y="240.9" font-size="6.2" text-anchor="middle" fill="#333" >0</text>
<text x="241.2" y="240.9" font-size="6.2" text-anchor="middle" fill="#333" >100</text>
<rect x="255.55" y="65.75" width="5" height="4.6" fill="#2f3c82" stroke="#555" stroke-width="0.7"/>
<text x="263" y="70" font-size="5.9" text-anchor="start" fill="#333" >DeNovo</text>
<rect x="255.55" y="72.75" width="5" height="4.6" fill="#8e2b2e" stroke="#555" stroke-width="0.7"/>
<text x="263" y="77" font-size="5.9" text-anchor="start" fill="#333" >tAML</text>
<rect x="255.55" y="79.95" width="5" height="4.6" fill="#2f8a3c" stroke="#555" stroke-width="0.7"/>
<text x="263" y="84.2" font-size="5.9" text-anchor="start" fill="#333" >MR-Hx</text>
<rect x="255.55" y="86.95" width="5" height="4.6" fill="#7a3a86" stroke="#555" stroke-width="0.7"/>
<text x="263" y="91.2" font-size="5.9" text-anchor="start" fill="#333" >MR-CG</text>
<rect x="255.55" y="101.25" width="5" height="4.6" fill="#dadada" stroke="#555" stroke-width="0.7"/>
<text x="263" y="105.5" font-size="5.9" text-anchor="start" fill="#333" >RDTS</text>
<rect x="255.55" y="108.45" width="5" height="4.6" fill="#a9a9a9" stroke="#555" stroke-width="0.7"/>
<text x="263" y="112.7" font-size="5.9" text-anchor="start" fill="#333" >RDTB</text>
<rect x="255.55" y="115.55" width="5" height="4.6" fill="#ffffff" stroke="#555" stroke-width="0.7"/>
<text x="263" y="119.8" font-size="5.9" text-anchor="start" fill="#333" >IMPACT-heme</text>
<rect x="255.55" y="130.15" width="5" height="4.6" fill="#f6e5ae" stroke="#555" stroke-width="0.7"/>
<text x="263" y="134.4" font-size="5.9" text-anchor="start" fill="#333" >Favorable</text>
<rect x="255.55" y="137.05" width="5" height="4.6" fill="#d9c07f" stroke="#555" stroke-width="0.7"/>
<text x="263" y="141.3" font-size="5.9" text-anchor="start" fill="#333" >Intermediate</text>
<rect x="255.55" y="144.25" width="5" height="4.6" fill="#8a562a" stroke="#555" stroke-width="0.7"/>
<text x="263" y="148.5" font-size="5.9" text-anchor="start" fill="#333" >Adverse</text>
<rect x="255.55" y="158.25" width="5" height="4.6" fill="#6a86cc" stroke="#555" stroke-width="0.7"/>
<text x="263" y="162.5" font-size="5.9" text-anchor="start" fill="#333" >Mutation</text>
<rect x="255.55" y="165.35" width="5" height="4.6" fill="#e8ac2c" stroke="#555" stroke-width="0.7"/>
<text x="263" y="169.6" font-size="5.9" text-anchor="start" fill="#333" >CG</text>
<rect x="255.55" y="172.55" width="5" height="4.6" fill="#eceaf2" stroke="#555" stroke-width="0.7"/>
<text x="263" y="176.8" font-size="5.9" text-anchor="start" fill="#333" >Not covered</text>
<text x="263" y="184.2" font-size="5.9" text-anchor="start" fill="#333" >in panel</text>
<text x="313" y="16.5" font-size="11" text-anchor="start" font-weight="bold" fill="#111" >C</text>
<text x="439.2" y="28.9" font-size="7.4" text-anchor="middle" fill="#2a2a2a" >MR-Hx vs De Novo Mutations</text>
<line x1="445.6" y1="35.6" x2="445.6" y2="225.5" stroke="#111" stroke-width="0.9" stroke-dasharray="1.6 1.4"/>
<text x="361.6" y="40.4" font-size="6.4" text-anchor="end" font-weight="bold" fill="#c0163f" >EZH2</text>
<line x1="364.6" y1="38.3" x2="367.5" y2="38.3" stroke="#222" stroke-width="0.9" />
<line x1="375.7" y1="38.3" x2="438.8" y2="38.3" stroke="#484848" stroke-width="0.85" />
<line x1="375.7" y1="36.2" x2="375.7" y2="40.4" stroke="#484848" stroke-width="0.85" />
<line x1="438.8" y1="36.2" x2="438.8" y2="40.4" stroke="#484848" stroke-width="0.85" />
<circle cx="414.9" cy="38.3" r="1.05" fill="#1c2444"/>
<text x="361.6" y="48.7" font-size="6" text-anchor="end" fill="#2e2e2e" >TP53</text>
<line x1="364.6" y1="46.6" x2="367.5" y2="46.6" stroke="#222" stroke-width="0.9" />
<line x1="392.4" y1="46.6" x2="435.4" y2="46.6" stroke="#484848" stroke-width="0.85" />
<line x1="392.4" y1="44.5" x2="392.4" y2="48.7" stroke="#484848" stroke-width="0.85" />
<line x1="435.4" y1="44.5" x2="435.4" y2="48.7" stroke="#484848" stroke-width="0.85" />
<circle cx="417.5" cy="46.6" r="1.05" fill="#1c2444"/>
<text x="361.6" y="57" font-size="6" text-anchor="end" fill="#2e2e2e" >KRAS</text>
<line x1="364.6" y1="54.9" x2="367.5" y2="54.9" stroke="#222" stroke-width="0.9" />
<line x1="402.5" y1="54.9" x2="439.4" y2="54.9" stroke="#484848" stroke-width="0.85" />
<line x1="402.5" y1="52.8" x2="402.5" y2="57" stroke="#484848" stroke-width="0.85" />
<line x1="439.4" y1="52.8" x2="439.4" y2="57" stroke="#484848" stroke-width="0.85" />
<circle cx="422.7" cy="54.9" r="1.05" fill="#1c2444"/>
<text x="361.6" y="65.3" font-size="6.4" text-anchor="end" font-weight="bold" fill="#c0163f" >ASXL1</text>
<line x1="364.6" y1="63.2" x2="367.5" y2="63.2" stroke="#222" stroke-width="0.9" />
<line x1="411.1" y1="63.2" x2="437.1" y2="63.2" stroke="#484848" stroke-width="0.85" />
<line x1="411.1" y1="61.1" x2="411.1" y2="65.3" stroke="#484848" stroke-width="0.85" />
<line x1="437.1" y1="61.1" x2="437.1" y2="65.3" stroke="#484848" stroke-width="0.85" />
<circle cx="425" cy="63.2" r="1.05" fill="#1c2444"/>
<text x="361.6" y="73.6" font-size="6.4" text-anchor="end" font-weight="bold" fill="#c0163f" >MR-WHO</text>
<line x1="364.6" y1="71.5" x2="367.5" y2="71.5" stroke="#222" stroke-width="0.9" />
<line x1="418.6" y1="71.5" x2="434.2" y2="71.5" stroke="#484848" stroke-width="0.85" />
<line x1="418.6" y1="69.4" x2="418.6" y2="73.6" stroke="#484848" stroke-width="0.85" />
<line x1="434.2" y1="69.4" x2="434.2" y2="73.6" stroke="#484848" stroke-width="0.85" />
<circle cx="426.1" cy="71.5" r="1.05" fill="#1c2444"/>
<text x="361.6" y="81.9" font-size="6.4" text-anchor="end" font-weight="bold" fill="#c0163f" >SF3B1</text>
<line x1="364.6" y1="79.8" x2="367.5" y2="79.8" stroke="#222" stroke-width="0.9" />
<line x1="412.6" y1="79.8" x2="439.4" y2="79.8" stroke="#484848" stroke-width="0.85" />
<line x1="412.6" y1="77.7" x2="412.6" y2="81.9" stroke="#484848" stroke-width="0.85" />
<line x1="439.4" y1="77.7" x2="439.4" y2="81.9" stroke="#484848" stroke-width="0.85" />
<circle cx="426.1" cy="79.8" r="1.05" fill="#1c2444"/>
<text x="361.6" y="90.2" font-size="6.4" text-anchor="end" font-weight="bold" fill="#c0163f" >SRSF2</text>
<line x1="364.6" y1="88.1" x2="367.5" y2="88.1" stroke="#222" stroke-width="0.9" />
<line x1="412.6" y1="88.1" x2="442.3" y2="88.1" stroke="#484848" stroke-width="0.85" />
<line x1="412.6" y1="86" x2="412.6" y2="90.2" stroke="#484848" stroke-width="0.85" />
<line x1="442.3" y1="86" x2="442.3" y2="90.2" stroke="#484848" stroke-width="0.85" />
<circle cx="427.9" cy="88.1" r="1.05" fill="#1c2444"/>
<text x="361.6" y="98.5" font-size="6.4" text-anchor="end" font-weight="bold" fill="#c0163f" >MR-ICC</text>
<line x1="364.6" y1="96.4" x2="367.5" y2="96.4" stroke="#222" stroke-width="0.9" />
<line x1="420.7" y1="96.4" x2="436.2" y2="96.4" stroke="#484848" stroke-width="0.85" />
<line x1="420.7" y1="94.3" x2="420.7" y2="98.5" stroke="#484848" stroke-width="0.85" />
<line x1="436.2" y1="94.3" x2="436.2" y2="98.5" stroke="#484848" stroke-width="0.85" />
<circle cx="428.5" cy="96.4" r="1.05" fill="#1c2444"/>
<text x="361.6" y="106.8" font-size="6.4" text-anchor="end" font-weight="bold" fill="#c0163f" >ZRSR2</text>
<line x1="364.6" y1="104.7" x2="367.5" y2="104.7" stroke="#222" stroke-width="0.9" />
<line x1="391" y1="104.7" x2="465.4" y2="104.7" stroke="#484848" stroke-width="0.85" />
<line x1="391" y1="102.6" x2="391" y2="106.8" stroke="#484848" stroke-width="0.85" />
<line x1="465.4" y1="102.6" x2="465.4" y2="106.8" stroke="#484848" stroke-width="0.85" />
<circle cx="432.8" cy="104.7" r="1.05" fill="#1c2444"/>
<text x="361.6" y="115.1" font-size="6.4" text-anchor="end" font-weight="bold" fill="#c0163f" >RUNX1</text>
<line x1="364.6" y1="113" x2="367.5" y2="113" stroke="#222" stroke-width="0.9" />
<line x1="426.1" y1="113" x2="443.5" y2="113" stroke="#484848" stroke-width="0.85" />
<line x1="426.1" y1="110.9" x2="426.1" y2="115.1" stroke="#484848" stroke-width="0.85" />
<line x1="443.5" y1="110.9" x2="443.5" y2="115.1" stroke="#484848" stroke-width="0.85" />
<circle cx="435.1" cy="113" r="1.05" fill="#1c2444"/>
<text x="361.6" y="123.4" font-size="6" text-anchor="end" fill="#2e2e2e" >TET2</text>
<line x1="364.6" y1="121.3" x2="367.5" y2="121.3" stroke="#222" stroke-width="0.9" />
<line x1="427.6" y1="121.3" x2="447.2" y2="121.3" stroke="#484848" stroke-width="0.85" />
<line x1="427.6" y1="119.2" x2="427.6" y2="123.4" stroke="#484848" stroke-width="0.85" />
<line x1="447.2" y1="119.2" x2="447.2" y2="123.4" stroke="#484848" stroke-width="0.85" />
<circle cx="437.7" cy="121.3" r="1.05" fill="#1c2444"/>
<text x="361.6" y="131.7" font-size="6" text-anchor="end" fill="#2e2e2e" >PTPN11</text>
<line x1="364.6" y1="129.6" x2="367.5" y2="129.6" stroke="#222" stroke-width="0.9" />
<line x1="415.5" y1="129.6" x2="459.6" y2="129.6" stroke="#484848" stroke-width="0.85" />
<line x1="415.5" y1="127.5" x2="415.5" y2="131.7" stroke="#484848" stroke-width="0.85" />
<line x1="459.6" y1="127.5" x2="459.6" y2="131.7" stroke="#484848" stroke-width="0.85" />
<circle cx="438" cy="129.6" r="1.05" fill="#1c2444"/>
<text x="361.6" y="140" font-size="6.4" text-anchor="end" font-weight="bold" fill="#c0163f" >STAG2</text>
<line x1="364.6" y1="137.9" x2="367.5" y2="137.9" stroke="#222" stroke-width="0.9" />
<line x1="415.5" y1="137.9" x2="459.6" y2="137.9" stroke="#484848" stroke-width="0.85" />
<line x1="415.5" y1="135.8" x2="415.5" y2="140" stroke="#484848" stroke-width="0.85" />
<line x1="459.6" y1="135.8" x2="459.6" y2="140" stroke="#484848" stroke-width="0.85" />
<circle cx="438" cy="137.9" r="1.05" fill="#1c2444"/>
<text x="361.6" y="148.3" font-size="6.4" text-anchor="end" font-weight="bold" fill="#c0163f" >U2AF1</text>
<line x1="364.6" y1="146.2" x2="367.5" y2="146.2" stroke="#222" stroke-width="0.9" />
<line x1="419.2" y1="146.2" x2="458" y2="146.2" stroke="#484848" stroke-width="0.85" />
<line x1="419.2" y1="144.1" x2="419.2" y2="148.3" stroke="#484848" stroke-width="0.85" />
<line x1="458" y1="144.1" x2="458" y2="148.3" stroke="#484848" stroke-width="0.85" />
<circle cx="438.5" cy="146.2" r="1.05" fill="#1c2444"/>
<text x="361.6" y="156.6" font-size="6" text-anchor="end" fill="#2e2e2e" >NRAS</text>
<line x1="364.6" y1="154.5" x2="367.5" y2="154.5" stroke="#222" stroke-width="0.9" />
<line x1="428.5" y1="154.5" x2="452.1" y2="154.5" stroke="#484848" stroke-width="0.85" />
<line x1="428.5" y1="152.4" x2="428.5" y2="156.6" stroke="#484848" stroke-width="0.85" />
<line x1="452.1" y1="152.4" x2="452.1" y2="156.6" stroke="#484848" stroke-width="0.85" />
<circle cx="440.6" cy="154.5" r="1.05" fill="#1c2444"/>
<text x="361.6" y="164.9" font-size="6" text-anchor="end" fill="#2e2e2e" >IDH1</text>
<line x1="364.6" y1="162.8" x2="367.5" y2="162.8" stroke="#222" stroke-width="0.9" />
<line x1="440.6" y1="162.8" x2="464.5" y2="162.8" stroke="#484848" stroke-width="0.85" />
<line x1="440.6" y1="160.7" x2="440.6" y2="164.9" stroke="#484848" stroke-width="0.85" />
<line x1="464.5" y1="160.7" x2="464.5" y2="164.9" stroke="#484848" stroke-width="0.85" />
<circle cx="451.5" cy="162.8" r="1.05" fill="#1c2444"/>
<text x="361.6" y="173.2" font-size="6" text-anchor="end" fill="#2e2e2e" >FLT3</text>
<line x1="364.6" y1="171.1" x2="367.5" y2="171.1" stroke="#222" stroke-width="0.9" />
<line x1="442.3" y1="171.1" x2="463.9" y2="171.1" stroke="#484848" stroke-width="0.85" />
<line x1="442.3" y1="169" x2="442.3" y2="173.2" stroke="#484848" stroke-width="0.85" />
<line x1="463.9" y1="169" x2="463.9" y2="173.2" stroke="#484848" stroke-width="0.85" />
<circle cx="452.4" cy="171.1" r="1.05" fill="#1c2444"/>
<text x="361.6" y="181.5" font-size="6" text-anchor="end" fill="#2e2e2e" >DNMT3A</text>
<line x1="364.6" y1="179.4" x2="367.5" y2="179.4" stroke="#222" stroke-width="0.9" />
<line x1="445.2" y1="179.4" x2="463.1" y2="179.4" stroke="#484848" stroke-width="0.85" />
<line x1="445.2" y1="177.3" x2="445.2" y2="181.5" stroke="#484848" stroke-width="0.85" />
<line x1="463.1" y1="177.3" x2="463.1" y2="181.5" stroke="#484848" stroke-width="0.85" />
<circle cx="453.8" cy="179.4" r="1.05" fill="#1c2444"/>
<text x="361.6" y="189.8" font-size="6" text-anchor="end" fill="#2e2e2e" >CEBPA</text>
<line x1="364.6" y1="187.7" x2="367.5" y2="187.7" stroke="#222" stroke-width="0.9" />
<line x1="440.6" y1="187.7" x2="474" y2="187.7" stroke="#484848" stroke-width="0.85" />
<line x1="440.6" y1="185.6" x2="440.6" y2="189.8" stroke="#484848" stroke-width="0.85" />
<line x1="474" y1="185.6" x2="474" y2="189.8" stroke="#484848" stroke-width="0.85" />
<circle cx="456" cy="187.7" r="1.05" fill="#1c2444"/>
<text x="361.6" y="198.1" font-size="6.4" text-anchor="end" font-weight="bold" fill="#c0163f" >BCOR</text>
<line x1="364.6" y1="196" x2="367.5" y2="196" stroke="#222" stroke-width="0.9" />
<line x1="429" y1="196" x2="499.2" y2="196" stroke="#484848" stroke-width="0.85" />
<line x1="429" y1="193.9" x2="429" y2="198.1" stroke="#484848" stroke-width="0.85" />
<line x1="499.2" y1="193.9" x2="499.2" y2="198.1" stroke="#484848" stroke-width="0.85" />
<circle cx="457.9" cy="196" r="1.05" fill="#1c2444"/>
<text x="361.6" y="206.4" font-size="6" text-anchor="end" fill="#2e2e2e" >GATA2</text>
<line x1="364.6" y1="204.3" x2="367.5" y2="204.3" stroke="#222" stroke-width="0.9" />
<line x1="435.7" y1="204.3" x2="503.4" y2="204.3" stroke="#484848" stroke-width="0.85" />
<line x1="435.7" y1="202.2" x2="435.7" y2="206.4" stroke="#484848" stroke-width="0.85" />
<line x1="503.4" y1="202.2" x2="503.4" y2="206.4" stroke="#484848" stroke-width="0.85" />
<circle cx="462.2" cy="204.3" r="1.05" fill="#1c2444"/>
<text x="361.6" y="214.7" font-size="6" text-anchor="end" fill="#2e2e2e" >IDH2</text>
<line x1="364.6" y1="212.6" x2="367.5" y2="212.6" stroke="#222" stroke-width="0.9" />
<line x1="451.5" y1="212.6" x2="475.8" y2="212.6" stroke="#484848" stroke-width="0.85" />
<line x1="451.5" y1="210.5" x2="451.5" y2="214.7" stroke="#484848" stroke-width="0.85" />
<line x1="475.8" y1="210.5" x2="475.8" y2="214.7" stroke="#484848" stroke-width="0.85" />
<circle cx="463.1" cy="212.6" r="1.05" fill="#1c2444"/>
<text x="361.6" y="223" font-size="6" text-anchor="end" fill="#2e2e2e" >NPM1</text>
<line x1="364.6" y1="220.9" x2="367.5" y2="220.9" stroke="#222" stroke-width="0.9" />
<line x1="456.4" y1="220.9" x2="480.4" y2="220.9" stroke="#484848" stroke-width="0.85" />
<line x1="456.4" y1="218.8" x2="456.4" y2="223" stroke="#484848" stroke-width="0.85" />
<line x1="480.4" y1="218.8" x2="480.4" y2="223" stroke="#484848" stroke-width="0.85" />
<circle cx="467.4" cy="220.9" r="1.05" fill="#1c2444"/>
<line x1="367.5" y1="33.5" x2="367.5" y2="226.2" stroke="#222" stroke-width="1" />
<line x1="367" y1="225.7" x2="512" y2="225.7" stroke="#222" stroke-width="1" />
<line x1="383.2" y1="225.7" x2="383.2" y2="228.5" stroke="#222" stroke-width="0.9" />
<text x="383.6" y="237.8" font-size="5.9" text-anchor="middle" fill="#333" >0.01</text>
<line x1="414.2" y1="225.7" x2="414.2" y2="228.5" stroke="#222" stroke-width="0.9" />
<text x="414.6" y="237.8" font-size="5.9" text-anchor="middle" fill="#333" >0.10</text>
<line x1="445.2" y1="225.7" x2="445.2" y2="228.5" stroke="#222" stroke-width="0.9" />
<text x="445.6" y="237.8" font-size="5.9" text-anchor="middle" fill="#333" >1</text>
<line x1="476.2" y1="225.7" x2="476.2" y2="228.5" stroke="#222" stroke-width="0.9" />
<text x="476.6" y="237.8" font-size="5.9" text-anchor="middle" fill="#333" >10</text>
<line x1="507.2" y1="225.7" x2="507.2" y2="228.5" stroke="#222" stroke-width="0.9" />
<text x="507.6" y="237.8" font-size="5.9" text-anchor="middle" fill="#333" >100</text>
<text x="0" y="0" font-size="7.9" font-weight="bold" fill="#2a2a2a" transform="translate(392.8 249.5) scale(0.66 1)">Odds ratio (</text>
<text x="0" y="0" font-size="7.9" font-weight="bold" fill="#2a2a2a" transform="translate(432.6 249.5) scale(0.667 1)">MR-Hx, De Novo</text>
<text x="0" y="0" font-size="7.9" font-weight="bold" fill="#2a2a2a" transform="translate(483.4 249.5) scale(0.66 1)">)</text>
<line x1="423" y1="247.3" x2="429.2" y2="247.3" stroke="#2a2a2a" stroke-width="0.9" />
<path d="M421.4 247.3 L424.2 245.9 L424.2 248.7 Z" fill="#2a2a2a"/>
<line x1="475.6" y1="247.3" x2="481.2" y2="247.3" stroke="#2a2a2a" stroke-width="0.9" />
<path d="M482.8 247.3 L480.0 245.9 L480.0 248.7 Z" fill="#2a2a2a"/>
<text x="0" y="0" font-size="7.9" text-anchor="middle" fill="#222" transform="translate(330.9 129.8) rotate(-90) scale(0.739 1)">Mutation</text>
<text x="7" y="263.4" font-size="11" text-anchor="start" font-weight="bold" fill="#111" >B</text>
<text x="173" y="275.9" font-size="7.55" text-anchor="start" fill="#222" >Mutation Distribution RDTS+MR Gene list - AML subtypes</text>
<rect x="53.85" y="317.41" width="6.9" height="17.49" fill="#ea8d9a" stroke="#c67782" stroke-width="0.5"/>
<rect x="63.73" y="319.52" width="6.9" height="15.38" fill="#eb8e90" stroke="#c7787a" stroke-width="0.5"/>
<rect x="73.61" y="321.03" width="6.9" height="13.87" fill="#e9937f" stroke="#c67c6b" stroke-width="0.5"/>
<rect x="83.49" y="322.54" width="6.9" height="12.36" fill="#e69a70" stroke="#c3825f" stroke-width="0.5"/>
<rect x="93.37" y="323.44" width="6.9" height="11.46" fill="#e39f5f" stroke="#c08750" stroke-width="0.5"/>
<rect x="103.25" y="324.05" width="6.9" height="10.85" fill="#dea452" stroke="#bc8b45" stroke-width="0.5"/>
<rect x="113.13" y="325.25" width="6.9" height="9.65" fill="#d5a74a" stroke="#b58d3e" stroke-width="0.5"/>
<rect x="123.01" y="326.76" width="6.9" height="8.14" fill="#cca946" stroke="#ad8f3b" stroke-width="0.5"/>
<rect x="132.89" y="327.3" width="6.9" height="7.6" fill="#c4a946" stroke="#a68f3b" stroke-width="0.5"/>
<rect x="142.77" y="329.17" width="6.9" height="5.73" fill="#bca944" stroke="#9f8f39" stroke-width="0.5"/>
<rect x="152.65" y="330.08" width="6.9" height="4.82" fill="#b2a944" stroke="#978f39" stroke-width="0.5"/>
<rect x="162.53" y="332.19" width="6.9" height="2.71" fill="#a8a942" stroke="#8e8f38" stroke-width="0.5"/>
<rect x="172.41" y="332.49" width="6.9" height="2.41" fill="#9fa944" stroke="#878f39" stroke-width="0.5"/>
<rect x="182.29" y="332.49" width="6.9" height="2.41" fill="#96a946" stroke="#7f8f3b" stroke-width="0.5"/>
<rect x="192.17" y="332.49" width="6.9" height="2.41" fill="#80a950" stroke="#6c8f44" stroke-width="0.5"/>
<rect x="202.05" y="332.49" width="6.9" height="2.41" fill="#62a95c" stroke="#538f4e" stroke-width="0.5"/>
<rect x="211.93" y="331.58" width="6.9" height="3.32" fill="#46a96a" stroke="#3b8f5a" stroke-width="0.5"/>
<rect x="221.81" y="333.69" width="6.9" height="1.21" fill="#40a97c" stroke="#368f69" stroke-width="0.5"/>
<rect x="231.69" y="333.69" width="6.9" height="1.21" fill="#40a986" stroke="#368f71" stroke-width="0.5"/>
<rect x="241.57" y="334" width="6.9" height="0.9" fill="#40a98c" stroke="#368f77" stroke-width="0.5"/>
<rect x="251.45" y="334" width="6.9" height="0.9" fill="#40a892" stroke="#368e7c" stroke-width="0.5"/>
<rect x="261.33" y="334" width="6.9" height="0.9" fill="#3fa898" stroke="#358e81" stroke-width="0.5"/>
<rect x="271.21" y="334.18" width="6.9" height="0.72" fill="#3fa89f" stroke="#358e87" stroke-width="0.5"/>
<rect x="281.09" y="334.18" width="6.9" height="0.72" fill="#3ea8a4" stroke="#348e8b" stroke-width="0.5"/>
<rect x="290.97" y="334.3" width="6.9" height="0.6" fill="#3ea7a8" stroke="#348d8e" stroke-width="0.5"/>
<rect x="300.85" y="334.3" width="6.9" height="0.6" fill="#40a6ad" stroke="#368d93" stroke-width="0.5"/>
<rect x="360.13" y="332.49" width="6.9" height="2.41" fill="#9696cc" stroke="#7f7fad" stroke-width="0.5"/>
<rect x="370.01" y="330.92" width="6.9" height="3.98" fill="#a096ce" stroke="#887faf" stroke-width="0.5"/>
<rect x="379.89" y="332.49" width="6.9" height="2.41" fill="#aa96cc" stroke="#907fad" stroke-width="0.5"/>
<rect x="458.93" y="328.87" width="6.9" height="6.03" fill="#e090ab" stroke="#be7a91" stroke-width="0.5"/>
<rect x="468.81" y="334.3" width="6.9" height="0.6" fill="#e38ea4" stroke="#c0788b" stroke-width="0.5"/>
<rect x="478.69" y="329.47" width="6.9" height="5.43" fill="#e68d9e" stroke="#c37786" stroke-width="0.5"/>
<text x="75" y="295.7" font-size="6.05" text-anchor="start" fill="#222" >DeNovo-AML n = 116 Patients</text>
<line x1="49.6" y1="334.9" x2="52.6" y2="334.9" stroke="#222" stroke-width="0.9" />
<text x="47.2" y="337.1" font-size="6.3" text-anchor="end" fill="#333" >0</text>
<line x1="49.6" y1="322.84" x2="52.6" y2="322.84" stroke="#222" stroke-width="0.9" />
<text x="47.2" y="325.04" font-size="6.3" text-anchor="end" fill="#333" >20</text>
<line x1="49.6" y1="310.78" x2="52.6" y2="310.78" stroke="#222" stroke-width="0.9" />
<text x="47.2" y="312.98" font-size="6.3" text-anchor="end" fill="#333" >40</text>
<line x1="49.6" y1="298.72" x2="52.6" y2="298.72" stroke="#222" stroke-width="0.9" />
<text x="47.2" y="300.92" font-size="6.3" text-anchor="end" fill="#333" >60</text>
<line x1="49.6" y1="286.66" x2="52.6" y2="286.66" stroke="#222" stroke-width="0.9" />
<text x="47.2" y="288.86" font-size="6.3" text-anchor="end" fill="#333" >80</text>
<rect x="53.85" y="381.18" width="6.9" height="8.02" fill="#ea8d9a" stroke="#c67782" stroke-width="0.5"/>
<rect x="63.73" y="385.4" width="6.9" height="3.8" fill="#eb8e90" stroke="#c7787a" stroke-width="0.5"/>
<rect x="73.61" y="386.19" width="6.9" height="3.01" fill="#e9937f" stroke="#c67c6b" stroke-width="0.5"/>
<rect x="83.49" y="384.2" width="6.9" height="5" fill="#e69a70" stroke="#c3825f" stroke-width="0.5"/>
<rect x="93.37" y="380.4" width="6.9" height="8.8" fill="#e39f5f" stroke="#c08750" stroke-width="0.5"/>
<rect x="103.25" y="386.19" width="6.9" height="3.01" fill="#dea452" stroke="#bc8b45" stroke-width="0.5"/>
<rect x="113.13" y="376.9" width="6.9" height="12.3" fill="#d5a74a" stroke="#b58d3e" stroke-width="0.5"/>
<rect x="123.01" y="386.19" width="6.9" height="3.01" fill="#cca946" stroke="#ad8f3b" stroke-width="0.5"/>
<rect x="132.89" y="386.19" width="6.9" height="3.01" fill="#c4a946" stroke="#a68f3b" stroke-width="0.5"/>
<rect x="142.77" y="383.35" width="6.9" height="5.85" fill="#bca944" stroke="#9f8f39" stroke-width="0.5"/>
<rect x="152.65" y="387.39" width="6.9" height="1.81" fill="#b2a944" stroke="#978f39" stroke-width="0.5"/>
<rect x="162.53" y="379.55" width="6.9" height="9.65" fill="#a8a942" stroke="#8e8f38" stroke-width="0.5"/>
<rect x="172.41" y="388.3" width="6.9" height="0.9" fill="#9fa944" stroke="#878f39" stroke-width="0.5"/>
<rect x="182.29" y="387.39" width="6.9" height="1.81" fill="#96a946" stroke="#7f8f3b" stroke-width="0.5"/>
<rect x="192.17" y="383.47" width="6.9" height="5.73" fill="#80a950" stroke="#6c8f44" stroke-width="0.5"/>
<rect x="211.93" y="387.39" width="6.9" height="1.81" fill="#46a96a" stroke="#3b8f5a" stroke-width="0.5"/>
<rect x="221.81" y="388.72" width="6.9" height="0.48" fill="#40a97c" stroke="#368f69" stroke-width="0.5"/>
<rect x="231.69" y="388.48" width="6.9" height="0.72" fill="#40a986" stroke="#368f71" stroke-width="0.5"/>
<rect x="241.57" y="388.48" width="6.9" height="0.72" fill="#40a98c" stroke="#368f77" stroke-width="0.5"/>
<rect x="251.45" y="383.47" width="6.9" height="5.73" fill="#40a892" stroke="#368e7c" stroke-width="0.5"/>
<rect x="261.33" y="387.39" width="6.9" height="1.81" fill="#3fa898" stroke="#358e81" stroke-width="0.5"/>
<rect x="271.21" y="355.43" width="6.9" height="33.77" fill="#3fa89f" stroke="#358e87" stroke-width="0.5"/>
<rect x="281.09" y="388.6" width="6.9" height="0.6" fill="#3ea8a4" stroke="#348e8b" stroke-width="0.5"/>
<rect x="300.85" y="387.39" width="6.9" height="1.81" fill="#40a6ad" stroke="#368d93" stroke-width="0.5"/>
<rect x="360.13" y="388.6" width="6.9" height="0.6" fill="#9696cc" stroke="#7f7fad" stroke-width="0.5"/>
<rect x="370.01" y="387.69" width="6.9" height="1.51" fill="#a096ce" stroke="#887faf" stroke-width="0.5"/>
<rect x="379.89" y="386.79" width="6.9" height="2.41" fill="#aa96cc" stroke="#907fad" stroke-width="0.5"/>
<rect x="389.77" y="383.95" width="6.9" height="5.25" fill="#b496cc" stroke="#997fad" stroke-width="0.5"/>
<rect x="409.53" y="367.79" width="6.9" height="21.41" fill="#c495c8" stroke="#a67eaa" stroke-width="0.5"/>
<rect x="419.41" y="370.21" width="6.9" height="18.99" fill="#cb94c3" stroke="#ac7da5" stroke-width="0.5"/>
<rect x="429.29" y="369.3" width="6.9" height="19.9" fill="#d193be" stroke="#b17ca1" stroke-width="0.5"/>
<rect x="439.17" y="369.6" width="6.9" height="19.6" fill="#d792b8" stroke="#b67c9c" stroke-width="0.5"/>
<rect x="449.05" y="380.15" width="6.9" height="9.04" fill="#dc91b2" stroke="#bb7b97" stroke-width="0.5"/>
<rect x="458.93" y="388.6" width="6.9" height="0.6" fill="#e090ab" stroke="#be7a91" stroke-width="0.5"/>
<rect x="468.81" y="388.6" width="6.9" height="0.6" fill="#e38ea4" stroke="#c0788b" stroke-width="0.5"/>
<rect x="478.69" y="388.6" width="6.9" height="0.6" fill="#e68d9e" stroke="#c37786" stroke-width="0.5"/>
<text x="76.8" y="350.1" font-size="6.05" text-anchor="start" fill="#222" >Therapy-AML n = 92 Patients</text>
<line x1="49.6" y1="389.2" x2="52.6" y2="389.2" stroke="#222" stroke-width="0.9" />
<text x="47.2" y="391.4" font-size="6.3" text-anchor="end" fill="#333" >0</text>
<line x1="49.6" y1="377.14" x2="52.6" y2="377.14" stroke="#222" stroke-width="0.9" />
<text x="47.2" y="379.34" font-size="6.3" text-anchor="end" fill="#333" >20</text>
<line x1="49.6" y1="365.08" x2="52.6" y2="365.08" stroke="#222" stroke-width="0.9" />
<text x="47.2" y="367.28" font-size="6.3" text-anchor="end" fill="#333" >40</text>
<line x1="49.6" y1="353.02" x2="52.6" y2="353.02" stroke="#222" stroke-width="0.9" />
<text x="47.2" y="355.22" font-size="6.3" text-anchor="end" fill="#333" >60</text>
<line x1="49.6" y1="340.96" x2="52.6" y2="340.96" stroke="#222" stroke-width="0.9" />
<text x="47.2" y="343.16" font-size="6.3" text-anchor="end" fill="#333" >80</text>
<rect x="53.85" y="433.95" width="6.9" height="9.65" fill="#ea8d9a" stroke="#c67782" stroke-width="0.5"/>
<rect x="63.73" y="440.28" width="6.9" height="3.32" fill="#eb8e90" stroke="#c7787a" stroke-width="0.5"/>
<rect x="73.61" y="437.57" width="6.9" height="6.03" fill="#e9937f" stroke="#c67c6b" stroke-width="0.5"/>
<rect x="83.49" y="440.28" width="6.9" height="3.32" fill="#e69a70" stroke="#c3825f" stroke-width="0.5"/>
<rect x="93.37" y="420.08" width="6.9" height="23.52" fill="#e39f5f" stroke="#c08750" stroke-width="0.5"/>
<rect x="103.25" y="439.68" width="6.9" height="3.92" fill="#dea452" stroke="#bc8b45" stroke-width="0.5"/>
<rect x="113.13" y="424.61" width="6.9" height="18.99" fill="#d5a74a" stroke="#b58d3e" stroke-width="0.5"/>
<rect x="123.01" y="438.78" width="6.9" height="4.82" fill="#cca946" stroke="#ad8f3b" stroke-width="0.5"/>
<rect x="132.89" y="439.68" width="6.9" height="3.92" fill="#c4a946" stroke="#a68f3b" stroke-width="0.5"/>
<rect x="142.77" y="435.46" width="6.9" height="8.14" fill="#bca944" stroke="#9f8f39" stroke-width="0.5"/>
<rect x="152.65" y="440.59" width="6.9" height="3.01" fill="#b2a944" stroke="#978f39" stroke-width="0.5"/>
<rect x="162.53" y="432.75" width="6.9" height="10.85" fill="#a8a942" stroke="#8e8f38" stroke-width="0.5"/>
<rect x="172.41" y="442.7" width="6.9" height="0.9" fill="#9fa944" stroke="#878f39" stroke-width="0.5"/>
<rect x="182.29" y="436.67" width="6.9" height="6.93" fill="#96a946" stroke="#7f8f3b" stroke-width="0.5"/>
<rect x="192.17" y="441.79" width="6.9" height="1.81" fill="#80a950" stroke="#6c8f44" stroke-width="0.5"/>
<rect x="202.05" y="443" width="6.9" height="0.6" fill="#62a95c" stroke="#538f4e" stroke-width="0.5"/>
<rect x="211.93" y="432.75" width="6.9" height="10.85" fill="#46a96a" stroke="#3b8f5a" stroke-width="0.5"/>
<rect x="221.81" y="440.89" width="6.9" height="2.71" fill="#40a97c" stroke="#368f69" stroke-width="0.5"/>
<rect x="231.69" y="443" width="6.9" height="0.6" fill="#40a986" stroke="#368f71" stroke-width="0.5"/>
<rect x="251.45" y="436.97" width="6.9" height="6.63" fill="#40a892" stroke="#368e7c" stroke-width="0.5"/>
<rect x="261.33" y="441.49" width="6.9" height="2.11" fill="#3fa898" stroke="#358e81" stroke-width="0.5"/>
<rect x="271.21" y="436.36" width="6.9" height="7.24" fill="#3fa89f" stroke="#358e87" stroke-width="0.5"/>
<rect x="290.97" y="443" width="6.9" height="0.6" fill="#3ea7a8" stroke="#348d8e" stroke-width="0.5"/>
<rect x="300.85" y="439.8" width="6.9" height="3.8" fill="#40a6ad" stroke="#368d93" stroke-width="0.5"/>
<rect x="330.49" y="441.79" width="6.9" height="1.81" fill="#6498c4" stroke="#5581a6" stroke-width="0.5"/>
<rect x="379.89" y="438.29" width="6.9" height="5.31" fill="#aa96cc" stroke="#907fad" stroke-width="0.5"/>
<rect x="409.53" y="431.54" width="6.9" height="12.06" fill="#c495c8" stroke="#a67eaa" stroke-width="0.5"/>
<rect x="419.41" y="432.32" width="6.9" height="11.28" fill="#cb94c3" stroke="#ac7da5" stroke-width="0.5"/>
<rect x="429.29" y="434.56" width="6.9" height="9.04" fill="#d193be" stroke="#b17ca1" stroke-width="0.5"/>
<rect x="439.17" y="429.91" width="6.9" height="13.69" fill="#d792b8" stroke="#b67c9c" stroke-width="0.5"/>
<rect x="449.05" y="437.69" width="6.9" height="5.91" fill="#dc91b2" stroke="#bb7b97" stroke-width="0.5"/>
<rect x="458.93" y="441.31" width="6.9" height="2.29" fill="#e090ab" stroke="#be7a91" stroke-width="0.5"/>
<rect x="468.81" y="441.91" width="6.9" height="1.69" fill="#e38ea4" stroke="#c0788b" stroke-width="0.5"/>
<rect x="478.69" y="436.97" width="6.9" height="6.63" fill="#e68d9e" stroke="#c37786" stroke-width="0.5"/>
<text x="83.7" y="404.4" font-size="6.05" text-anchor="start" fill="#222" >MR-Hx n = 107 Patients</text>
<line x1="49.6" y1="443.6" x2="52.6" y2="443.6" stroke="#222" stroke-width="0.9" />
<text x="47.2" y="445.8" font-size="6.3" text-anchor="end" fill="#333" >0</text>
<line x1="49.6" y1="431.54" x2="52.6" y2="431.54" stroke="#222" stroke-width="0.9" />
<text x="47.2" y="433.74" font-size="6.3" text-anchor="end" fill="#333" >20</text>
<line x1="49.6" y1="419.48" x2="52.6" y2="419.48" stroke="#222" stroke-width="0.9" />
<text x="47.2" y="421.68" font-size="6.3" text-anchor="end" fill="#333" >40</text>
<line x1="49.6" y1="407.42" x2="52.6" y2="407.42" stroke="#222" stroke-width="0.9" />
<text x="47.2" y="409.62" font-size="6.3" text-anchor="end" fill="#333" >60</text>
<line x1="49.6" y1="395.36" x2="52.6" y2="395.36" stroke="#222" stroke-width="0.9" />
<text x="47.2" y="397.56" font-size="6.3" text-anchor="end" fill="#333" >80</text>
<rect x="53.85" y="485.22" width="6.9" height="12.48" fill="#ea8d9a" stroke="#c67782" stroke-width="0.5"/>
<rect x="73.61" y="493.54" width="6.9" height="4.16" fill="#e9937f" stroke="#c67c6b" stroke-width="0.5"/>
<rect x="83.49" y="493.54" width="6.9" height="4.16" fill="#e69a70" stroke="#c3825f" stroke-width="0.5"/>
<rect x="93.37" y="491.49" width="6.9" height="6.21" fill="#e39f5f" stroke="#c08750" stroke-width="0.5"/>
<rect x="103.25" y="493.54" width="6.9" height="4.16" fill="#dea452" stroke="#bc8b45" stroke-width="0.5"/>
<rect x="113.13" y="489.38" width="6.9" height="8.32" fill="#d5a74a" stroke="#b58d3e" stroke-width="0.5"/>
<rect x="123.01" y="495.65" width="6.9" height="2.05" fill="#cca946" stroke="#ad8f3b" stroke-width="0.5"/>
<rect x="132.89" y="495.65" width="6.9" height="2.05" fill="#c4a946" stroke="#a68f3b" stroke-width="0.5"/>
<rect x="142.77" y="488.47" width="6.9" height="9.23" fill="#bca944" stroke="#9f8f39" stroke-width="0.5"/>
<rect x="152.65" y="495.65" width="6.9" height="2.05" fill="#b2a944" stroke="#978f39" stroke-width="0.5"/>
<rect x="162.53" y="489.38" width="6.9" height="8.32" fill="#a8a942" stroke="#8e8f38" stroke-width="0.5"/>
<rect x="182.29" y="495.65" width="6.9" height="2.05" fill="#96a946" stroke="#7f8f3b" stroke-width="0.5"/>
<rect x="192.17" y="493.54" width="6.9" height="4.16" fill="#80a950" stroke="#6c8f44" stroke-width="0.5"/>
<rect x="202.05" y="495.65" width="6.9" height="2.05" fill="#62a95c" stroke="#538f4e" stroke-width="0.5"/>
<rect x="211.93" y="495.65" width="6.9" height="2.05" fill="#46a96a" stroke="#3b8f5a" stroke-width="0.5"/>
<rect x="221.81" y="495.65" width="6.9" height="2.05" fill="#40a97c" stroke="#368f69" stroke-width="0.5"/>
<rect x="241.57" y="495.65" width="6.9" height="2.05" fill="#40a98c" stroke="#368f77" stroke-width="0.5"/>
<rect x="261.33" y="495.65" width="6.9" height="2.05" fill="#3fa898" stroke="#358e81" stroke-width="0.5"/>
<rect x="271.21" y="447.05" width="6.9" height="50.65" fill="#3fa89f" stroke="#358e87" stroke-width="0.5"/>
<rect x="281.09" y="495.65" width="6.9" height="2.05" fill="#3ea8a4" stroke="#348e8b" stroke-width="0.5"/>
<rect x="409.53" y="448.25" width="6.9" height="49.45" fill="#c495c8" stroke="#a67eaa" stroke-width="0.5"/>
<rect x="419.41" y="471.17" width="6.9" height="26.53" fill="#cb94c3" stroke="#ac7da5" stroke-width="0.5"/>
<rect x="429.29" y="463.03" width="6.9" height="34.67" fill="#d193be" stroke="#b17ca1" stroke-width="0.5"/>
<rect x="439.17" y="475.09" width="6.9" height="22.61" fill="#d792b8" stroke="#b67c9c" stroke-width="0.5"/>
<rect x="449.05" y="485.64" width="6.9" height="12.06" fill="#dc91b2" stroke="#bb7b97" stroke-width="0.5"/>
<rect x="478.69" y="496.98" width="6.9" height="0.72" fill="#e68d9e" stroke="#c37786" stroke-width="0.5"/>
<text x="83.7" y="458.8" font-size="6.05" text-anchor="start" fill="#222" >MR-CG n = 29 Patients</text>
<line x1="49.6" y1="497.7" x2="52.6" y2="497.7" stroke="#222" stroke-width="0.9" />
<text x="47.2" y="499.9" font-size="6.3" text-anchor="end" fill="#333" >0</text>
<line x1="49.6" y1="485.64" x2="52.6" y2="485.64" stroke="#222" stroke-width="0.9" />
<text x="47.2" y="487.84" font-size="6.3" text-anchor="end" fill="#333" >20</text>
<line x1="49.6" y1="473.58" x2="52.6" y2="473.58" stroke="#222" stroke-width="0.9" />
<text x="47.2" y="475.78" font-size="6.3" text-anchor="end" fill="#333" >40</text>
<line x1="49.6" y1="461.52" x2="52.6" y2="461.52" stroke="#222" stroke-width="0.9" />
<text x="47.2" y="463.72" font-size="6.3" text-anchor="end" fill="#333" >60</text>
<line x1="49.6" y1="449.46" x2="52.6" y2="449.46" stroke="#222" stroke-width="0.9" />
<text x="47.2" y="451.66" font-size="6.3" text-anchor="end" fill="#333" >80</text>
<line x1="339" y1="280.5" x2="339" y2="497.5" stroke="#a9b6d0" stroke-width="1" />
<path d="M52.6 280.5 H486.9 V334.9" fill="none" stroke="#333" stroke-width="1.0"/>
<line x1="52.6" y1="334.9" x2="486.9" y2="334.9" stroke="#222" stroke-width="1.3" />
<path d="M52.6 334.9 H486.9 V389.2" fill="none" stroke="#333" stroke-width="1.0"/>
<line x1="52.6" y1="389.2" x2="486.9" y2="389.2" stroke="#222" stroke-width="1.3" />
<path d="M52.6 389.2 H486.9 V443.6" fill="none" stroke="#333" stroke-width="1.0"/>
<line x1="52.6" y1="443.6" x2="486.9" y2="443.6" stroke="#222" stroke-width="1.3" />
<path d="M52.6 443.6 H486.9 V497.7" fill="none" stroke="#333" stroke-width="1.0"/>
<line x1="52.6" y1="497.7" x2="486.9" y2="497.7" stroke="#222" stroke-width="1.3" />
<line x1="52.6" y1="280.5" x2="52.6" y2="497.7" stroke="#222" stroke-width="1.2" />
<line x1="57.3" y1="497.7" x2="57.3" y2="500.6" stroke="#222" stroke-width="0.9" />
<text x="0" y="0" font-size="6.3" text-anchor="end" fill="#333" transform="translate(59.6 506.2) rotate(-45)">DNMT3A</text>
<line x1="67.18" y1="497.7" x2="67.18" y2="500.6" stroke="#222" stroke-width="0.9" />
<text x="0" y="0" font-size="6.3" text-anchor="end" fill="#333" transform="translate(69.48 506.2) rotate(-45)">NPM1</text>
<line x1="77.06" y1="497.7" x2="77.06" y2="500.6" stroke="#222" stroke-width="0.9" />
<text x="0" y="0" font-size="6.3" text-anchor="end" fill="#333" transform="translate(79.36 506.2) rotate(-45)">FLT3</text>
<line x1="86.94" y1="497.7" x2="86.94" y2="500.6" stroke="#222" stroke-width="0.9" />
<text x="0" y="0" font-size="6.3" text-anchor="end" fill="#333" transform="translate(89.24 506.2) rotate(-45)">IDH2</text>
<line x1="96.82" y1="497.7" x2="96.82" y2="500.6" stroke="#222" stroke-width="0.9" />
<text x="0" y="0" font-size="6.3" text-anchor="end" font-weight="bold" fill="#c0163f" transform="translate(99.12 506.2) rotate(-45)">RUNX1</text>
<line x1="106.7" y1="497.7" x2="106.7" y2="500.6" stroke="#222" stroke-width="0.9" />
<text x="0" y="0" font-size="6.3" text-anchor="end" fill="#333" transform="translate(109 506.2) rotate(-45)">FLT3_ITD</text>
<line x1="116.58" y1="497.7" x2="116.58" y2="500.6" stroke="#222" stroke-width="0.9" />
<text x="0" y="0" font-size="6.3" text-anchor="end" fill="#333" transform="translate(118.88 506.2) rotate(-45)">TET2</text>
<line x1="126.46" y1="497.7" x2="126.46" y2="500.6" stroke="#222" stroke-width="0.9" />
<text x="0" y="0" font-size="6.3" text-anchor="end" fill="#333" transform="translate(128.76 506.2) rotate(-45)">IDH1</text>
<line x1="136.34" y1="497.7" x2="136.34" y2="500.6" stroke="#222" stroke-width="0.9" />
<text x="0" y="0" font-size="6.3" text-anchor="end" fill="#333" transform="translate(138.64 506.2) rotate(-45)">CEBPA</text>
<line x1="146.22" y1="497.7" x2="146.22" y2="500.6" stroke="#222" stroke-width="0.9" />
<text x="0" y="0" font-size="6.3" text-anchor="end" fill="#333" transform="translate(148.52 506.2) rotate(-45)">NRAS</text>
<line x1="156.1" y1="497.7" x2="156.1" y2="500.6" stroke="#222" stroke-width="0.9" />
<text x="0" y="0" font-size="6.3" text-anchor="end" fill="#333" transform="translate(158.4 506.2) rotate(-45)">CBL</text>
<line x1="165.98" y1="497.7" x2="165.98" y2="500.6" stroke="#222" stroke-width="0.9" />
<text x="0" y="0" font-size="6.3" text-anchor="end" font-weight="bold" fill="#c0163f" transform="translate(168.28 506.2) rotate(-45)">ASXL1</text>
<line x1="175.86" y1="497.7" x2="175.86" y2="500.6" stroke="#222" stroke-width="0.9" />
<text x="0" y="0" font-size="6.3" text-anchor="end" fill="#333" transform="translate(178.16 506.2) rotate(-45)">KIT</text>
<line x1="185.74" y1="497.7" x2="185.74" y2="500.6" stroke="#222" stroke-width="0.9" />
<text x="0" y="0" font-size="6.3" text-anchor="end" font-weight="bold" fill="#c0163f" transform="translate(188.04 506.2) rotate(-45)">SRSF2</text>
<line x1="195.62" y1="497.7" x2="195.62" y2="500.6" stroke="#222" stroke-width="0.9" />
<text x="0" y="0" font-size="6.3" text-anchor="end" fill="#333" transform="translate(197.92 506.2) rotate(-45)">WT1</text>
<line x1="205.5" y1="497.7" x2="205.5" y2="500.6" stroke="#222" stroke-width="0.9" />
<text x="0" y="0" font-size="6.3" text-anchor="end" fill="#333" transform="translate(207.8 506.2) rotate(-45)">JAK2</text>
<line x1="215.38" y1="497.7" x2="215.38" y2="500.6" stroke="#222" stroke-width="0.9" />
<text x="0" y="0" font-size="6.3" text-anchor="end" font-weight="bold" fill="#c0163f" transform="translate(217.68 506.2) rotate(-45)">SF3B1</text>
<line x1="225.26" y1="497.7" x2="225.26" y2="500.6" stroke="#222" stroke-width="0.9" />
<text x="0" y="0" font-size="6.3" text-anchor="end" font-weight="bold" fill="#c0163f" transform="translate(227.56 506.2) rotate(-45)">U2AF1</text>
<line x1="235.14" y1="497.7" x2="235.14" y2="500.6" stroke="#222" stroke-width="0.9" />
<text x="0" y="0" font-size="6.3" text-anchor="end" fill="#333" transform="translate(237.44 506.2) rotate(-45)">PHF6</text>
<line x1="245.02" y1="497.7" x2="245.02" y2="500.6" stroke="#222" stroke-width="0.9" />
<text x="0" y="0" font-size="6.3" text-anchor="end" font-weight="bold" fill="#c0163f" transform="translate(247.32 506.2) rotate(-45)">BCOR</text>
<line x1="254.9" y1="497.7" x2="254.9" y2="500.6" stroke="#222" stroke-width="0.9" />
<text x="0" y="0" font-size="6.3" text-anchor="end" fill="#333" transform="translate(257.2 506.2) rotate(-45)">KRAS</text>
<line x1="264.78" y1="497.7" x2="264.78" y2="500.6" stroke="#222" stroke-width="0.9" />
<text x="0" y="0" font-size="6.3" text-anchor="end" font-weight="bold" fill="#c0163f" transform="translate(267.08 506.2) rotate(-45)">STAG2</text>
<line x1="274.66" y1="497.7" x2="274.66" y2="500.6" stroke="#222" stroke-width="0.9" />
<text x="0" y="0" font-size="6.3" text-anchor="end" fill="#333" transform="translate(276.96 506.2) rotate(-45)">TP53</text>
<line x1="284.54" y1="497.7" x2="284.54" y2="500.6" stroke="#222" stroke-width="0.9" />
<text x="0" y="0" font-size="6.3" text-anchor="end" fill="#333" transform="translate(286.84 506.2) rotate(-45)">MPL</text>
<line x1="294.42" y1="497.7" x2="294.42" y2="500.6" stroke="#222" stroke-width="0.9" />
<text x="0" y="0" font-size="6.3" text-anchor="end" font-weight="bold" fill="#c0163f" transform="translate(296.72 506.2) rotate(-45)">ZRSR2</text>
<line x1="304.3" y1="497.7" x2="304.3" y2="500.6" stroke="#222" stroke-width="0.9" />
<text x="0" y="0" font-size="6.3" text-anchor="end" font-weight="bold" fill="#c0163f" transform="translate(306.6 506.2) rotate(-45)">EZH2</text>
<line x1="314.18" y1="497.7" x2="314.18" y2="500.6" stroke="#222" stroke-width="0.9" />
<text x="0" y="0" font-size="6.3" text-anchor="end" fill="#333" transform="translate(316.48 506.2) rotate(-45)">TYK2</text>
<line x1="324.06" y1="497.7" x2="324.06" y2="500.6" stroke="#222" stroke-width="0.9" />
<text x="0" y="0" font-size="6.3" text-anchor="end" fill="#333" transform="translate(326.36 506.2) rotate(-45)">TET1</text>
<line x1="333.94" y1="497.7" x2="333.94" y2="500.6" stroke="#222" stroke-width="0.9" />
<text x="0" y="0" font-size="6.3" text-anchor="end" fill="#333" transform="translate(336.24 506.2) rotate(-45)">ETV6</text>
<line x1="343.82" y1="497.7" x2="343.82" y2="500.6" stroke="#222" stroke-width="0.9" />
<line x1="353.7" y1="497.7" x2="353.7" y2="500.6" stroke="#222" stroke-width="0.9" />
<text x="0" y="0" font-size="6.3" text-anchor="end" fill="#333" transform="translate(356 506.2) rotate(-45)">t(15;17)</text>
<line x1="363.58" y1="497.7" x2="363.58" y2="500.6" stroke="#222" stroke-width="0.9" />
<text x="0" y="0" font-size="6.3" text-anchor="end" fill="#333" transform="translate(365.88 506.2) rotate(-45)">t(8;21)</text>
<line x1="373.46" y1="497.7" x2="373.46" y2="500.6" stroke="#222" stroke-width="0.9" />
<text x="0" y="0" font-size="6.3" text-anchor="end" fill="#333" transform="translate(375.76 506.2) rotate(-45)">inv16</text>
<line x1="383.34" y1="497.7" x2="383.34" y2="500.6" stroke="#222" stroke-width="0.9" />
<text x="0" y="0" font-size="6.3" text-anchor="end" fill="#333" transform="translate(385.64 506.2) rotate(-45)">EVI</text>
<line x1="393.22" y1="497.7" x2="393.22" y2="500.6" stroke="#222" stroke-width="0.9" />
<text x="0" y="0" font-size="6.3" text-anchor="end" fill="#333" transform="translate(395.52 506.2) rotate(-45)">MLL</text>
<line x1="403.1" y1="497.7" x2="403.1" y2="500.6" stroke="#222" stroke-width="0.9" />
<text x="0" y="0" font-size="6.3" text-anchor="end" fill="#333" transform="translate(405.4 506.2) rotate(-45)">t(6;9)</text>
<line x1="412.98" y1="497.7" x2="412.98" y2="500.6" stroke="#222" stroke-width="0.9" />
<text x="0" y="0" font-size="6.3" text-anchor="end" fill="#333" transform="translate(415.28 506.2) rotate(-45)">CK (3 or more)</text>
<line x1="422.86" y1="497.7" x2="422.86" y2="500.6" stroke="#222" stroke-width="0.9" />
<text x="0" y="0" font-size="6.3" text-anchor="end" fill="#333" transform="translate(425.16 506.2) rotate(-45)">MK</text>
<line x1="432.74" y1="497.7" x2="432.74" y2="500.6" stroke="#222" stroke-width="0.9" />
<text x="0" y="0" font-size="6.3" text-anchor="end" fill="#333" transform="translate(435.04 506.2) rotate(-45)">del5q/-5</text>
<line x1="442.62" y1="497.7" x2="442.62" y2="500.6" stroke="#222" stroke-width="0.9" />
<text x="0" y="0" font-size="6.3" text-anchor="end" fill="#333" transform="translate(444.92 506.2) rotate(-45)">del7q/-7</text>
<line x1="452.5" y1="497.7" x2="452.5" y2="500.6" stroke="#222" stroke-width="0.9" />
<text x="0" y="0" font-size="6.3" text-anchor="end" fill="#333" transform="translate(454.8 506.2) rotate(-45)">del17p/-17</text>
<line x1="462.38" y1="497.7" x2="462.38" y2="500.6" stroke="#222" stroke-width="0.9" />
<text x="0" y="0" font-size="6.3" text-anchor="end" fill="#333" transform="translate(464.68 506.2) rotate(-45)">trisomies nonCK</text>
<line x1="472.26" y1="497.7" x2="472.26" y2="500.6" stroke="#222" stroke-width="0.9" />
<text x="0" y="0" font-size="6.3" text-anchor="end" fill="#333" transform="translate(474.56 506.2) rotate(-45)">deletions nonCK</text>
<line x1="482.14" y1="497.7" x2="482.14" y2="500.6" stroke="#222" stroke-width="0.9" />
<text x="0" y="0" font-size="6.3" text-anchor="end" fill="#333" transform="translate(484.44 506.2) rotate(-45)">other</text>
<text x="304.2" y="297.9" font-size="6" text-anchor="middle" fill="#222" >Gene Mutations</text>
<text x="369.2" y="297.9" font-size="6.05" text-anchor="middle" fill="#222" >Cytogenetics</text>
<line x1="279.5" y1="301.6" x2="332" y2="301.6" stroke="#222" stroke-width="0.8" />
<path d="M277.2 301.6 L280.6 300.1 L280.6 303.1 Z" fill="#222"/>
<line x1="346.4" y1="301.6" x2="393.2" y2="301.6" stroke="#222" stroke-width="0.8" />
<path d="M395.5 301.6 L392.1 300.1 L392.1 303.1 Z" fill="#222"/>
<text x="0" y="0" font-size="7.6" font-weight="bold" text-anchor="middle" fill="#2a2a2a" transform="translate(33.9 390.2) rotate(-90) scale(0.716 1)">Mutation frequency</text>
<text x="0" y="0" font-size="7.9" font-weight="bold" text-anchor="middle" fill="#2a2a2a" transform="translate(269.85 554.5) scale(0.664 1)">Gene/cytogenetic mutation</text>
<rect x="0" y="0" width="520" height="1.1" fill="#5e5e5e"/><rect x="0" y="0" width="1.1" height="563" fill="#5e5e5e"/><rect x="518.9" y="0" width="1.1" height="563" fill="#555"/><rect x="0" y="561.7" width="520" height="1.3" fill="#555"/>
</svg></body></html>
